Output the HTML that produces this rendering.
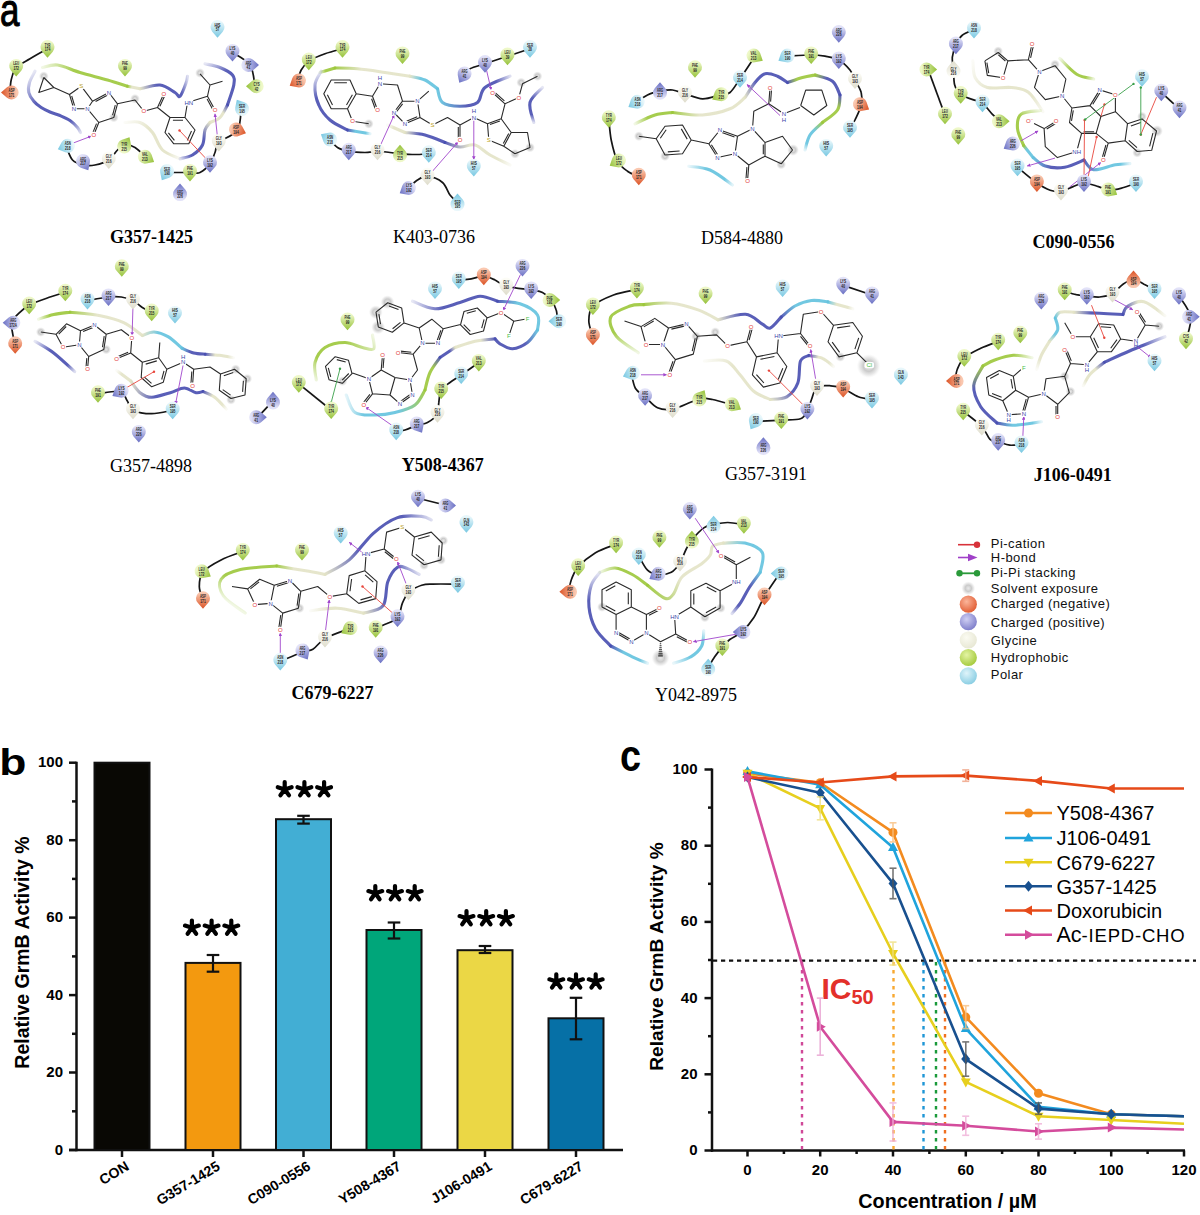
<!DOCTYPE html>
<html><head><meta charset="utf-8"><title>Figure</title>
<style>html,body{margin:0;padding:0;background:#fff;}body{width:1200px;height:1215px;overflow:hidden;font-family:"Liberation Sans", sans-serif;}svg{display:block}</style>
</head><body>
<svg width="1200" height="1215" viewBox="0 0 1200 1215"><defs><radialGradient id="g_neg" cx="0.4" cy="0.35" r="0.7"><stop offset="0" stop-color="#fbb59a"/><stop offset="1" stop-color="#e05a30"/></radialGradient><radialGradient id="g_pos" cx="0.4" cy="0.35" r="0.7"><stop offset="0" stop-color="#d0d0f4"/><stop offset="1" stop-color="#7a7ac8"/></radialGradient><radialGradient id="g_gly" cx="0.4" cy="0.35" r="0.7"><stop offset="0" stop-color="#fbfbf2"/><stop offset="1" stop-color="#e6e6d2"/></radialGradient><radialGradient id="g_hyd" cx="0.4" cy="0.35" r="0.7"><stop offset="0" stop-color="#e4f4a4"/><stop offset="1" stop-color="#a2c838"/></radialGradient><radialGradient id="g_pol" cx="0.4" cy="0.35" r="0.7"><stop offset="0" stop-color="#dff4fa"/><stop offset="1" stop-color="#86cce2"/></radialGradient><linearGradient id="pg0_0_0" gradientUnits="userSpaceOnUse" x1="35.0" y1="71.2" x2="80.5" y2="132.5"><stop offset="0" stop-color="#474db0" stop-opacity="0.15"/><stop offset="0.35" stop-color="#474db0"/><stop offset="0.8" stop-color="#474db0"/><stop offset="1" stop-color="#474db0" stop-opacity="0.2"/></linearGradient><linearGradient id="pg0_0_1" gradientUnits="userSpaceOnUse" x1="42.5" y1="67.5" x2="127.5" y2="86.2"><stop offset="0" stop-color="#9cc73a" stop-opacity="0.15"/><stop offset="0.35" stop-color="#9cc73a"/><stop offset="1" stop-color="#9cc73a"/></linearGradient><linearGradient id="pg0_0_2" gradientUnits="userSpaceOnUse" x1="127.5" y1="86.2" x2="140.0" y2="88.8"><stop offset="0" stop-color="#9cc73a"/><stop offset="0.35" stop-color="#e3e3c6"/><stop offset="1" stop-color="#e3e3c6"/></linearGradient><linearGradient id="pg0_0_3" gradientUnits="userSpaceOnUse" x1="140.0" y1="88.8" x2="187.5" y2="76.2"><stop offset="0" stop-color="#e3e3c6"/><stop offset="0.35" stop-color="#474db0"/><stop offset="0.8" stop-color="#474db0"/><stop offset="1" stop-color="#474db0" stop-opacity="0.2"/></linearGradient><linearGradient id="pg0_0_4" gradientUnits="userSpaceOnUse" x1="205.0" y1="63.8" x2="227.5" y2="105.0"><stop offset="0" stop-color="#474db0" stop-opacity="0.15"/><stop offset="0.35" stop-color="#474db0"/><stop offset="1" stop-color="#474db0"/></linearGradient><linearGradient id="pg0_0_5" gradientUnits="userSpaceOnUse" x1="227.5" y1="105.0" x2="210.0" y2="122.5"><stop offset="0" stop-color="#474db0"/><stop offset="0.35" stop-color="#e3e3c6"/><stop offset="1" stop-color="#e3e3c6"/></linearGradient><linearGradient id="pg0_0_6" gradientUnits="userSpaceOnUse" x1="210.0" y1="122.5" x2="180.0" y2="158.8"><stop offset="0" stop-color="#e3e3c6"/><stop offset="0.35" stop-color="#474db0"/><stop offset="0.8" stop-color="#474db0"/><stop offset="1" stop-color="#474db0" stop-opacity="0.2"/></linearGradient><linearGradient id="pg0_0_7" gradientUnits="userSpaceOnUse" x1="125.0" y1="122.5" x2="180.0" y2="158.8"><stop offset="0" stop-color="#e3e3c6" stop-opacity="0.15"/><stop offset="0.35" stop-color="#e3e3c6"/><stop offset="0.8" stop-color="#e3e3c6"/><stop offset="1" stop-color="#e3e3c6" stop-opacity="0.2"/></linearGradient><linearGradient id="pg270_10_0" gradientUnits="userSpaceOnUse" x1="320.0" y1="72.5" x2="335.0" y2="68.0"><stop offset="0" stop-color="#9cc73a" stop-opacity="0.15"/><stop offset="0.35" stop-color="#9cc73a"/><stop offset="1" stop-color="#9cc73a"/></linearGradient><linearGradient id="pg270_10_1" gradientUnits="userSpaceOnUse" x1="335.0" y1="68.0" x2="410.0" y2="76.2"><stop offset="0" stop-color="#9cc73a"/><stop offset="0.35" stop-color="#e3e3c6"/><stop offset="1" stop-color="#e3e3c6"/></linearGradient><linearGradient id="pg270_10_2" gradientUnits="userSpaceOnUse" x1="410.0" y1="76.2" x2="437.5" y2="88.8"><stop offset="0" stop-color="#e3e3c6"/><stop offset="0.35" stop-color="#62c2de"/><stop offset="1" stop-color="#62c2de"/></linearGradient><linearGradient id="pg270_10_3" gradientUnits="userSpaceOnUse" x1="437.5" y1="88.8" x2="510.0" y2="76.2"><stop offset="0" stop-color="#62c2de"/><stop offset="0.35" stop-color="#474db0"/><stop offset="0.8" stop-color="#474db0"/><stop offset="1" stop-color="#474db0" stop-opacity="0.2"/></linearGradient><linearGradient id="pg270_10_4" gradientUnits="userSpaceOnUse" x1="321.2" y1="71.2" x2="347.5" y2="130.0"><stop offset="0" stop-color="#474db0" stop-opacity="0.15"/><stop offset="0.35" stop-color="#474db0"/><stop offset="1" stop-color="#474db0"/></linearGradient><linearGradient id="pg270_10_5" gradientUnits="userSpaceOnUse" x1="347.5" y1="130.0" x2="370.0" y2="133.8"><stop offset="0" stop-color="#474db0"/><stop offset="0.35" stop-color="#62c2de"/><stop offset="0.8" stop-color="#62c2de"/><stop offset="1" stop-color="#62c2de" stop-opacity="0.2"/></linearGradient><linearGradient id="pg270_10_6" gradientUnits="userSpaceOnUse" x1="387.5" y1="125.0" x2="405.0" y2="132.5"><stop offset="0" stop-color="#e3e3c6" stop-opacity="0.15"/><stop offset="0.35" stop-color="#e3e3c6"/><stop offset="1" stop-color="#e3e3c6"/></linearGradient><linearGradient id="pg270_10_7" gradientUnits="userSpaceOnUse" x1="405.0" y1="132.5" x2="445.0" y2="142.5"><stop offset="0" stop-color="#e3e3c6"/><stop offset="0.35" stop-color="#474db0"/><stop offset="1" stop-color="#474db0"/></linearGradient><linearGradient id="pg270_10_8" gradientUnits="userSpaceOnUse" x1="445.0" y1="142.5" x2="510.0" y2="165.0"><stop offset="0" stop-color="#474db0"/><stop offset="0.35" stop-color="#e3e3c6"/><stop offset="0.8" stop-color="#e3e3c6"/><stop offset="1" stop-color="#e3e3c6" stop-opacity="0.2"/></linearGradient><linearGradient id="pg270_10_9" gradientUnits="userSpaceOnUse" x1="542.5" y1="87.5" x2="533.8" y2="122.5"><stop offset="0" stop-color="#474db0" stop-opacity="0.15"/><stop offset="0.35" stop-color="#474db0"/><stop offset="0.8" stop-color="#474db0"/><stop offset="1" stop-color="#474db0" stop-opacity="0.2"/></linearGradient><linearGradient id="pg590_20_0" gradientUnits="userSpaceOnUse" x1="635.0" y1="123.8" x2="672.5" y2="112.5"><stop offset="0" stop-color="#9cc73a" stop-opacity="0.15"/><stop offset="0.35" stop-color="#9cc73a"/><stop offset="1" stop-color="#9cc73a"/></linearGradient><linearGradient id="pg590_20_1" gradientUnits="userSpaceOnUse" x1="672.5" y1="112.5" x2="745.0" y2="97.5"><stop offset="0" stop-color="#9cc73a"/><stop offset="0.35" stop-color="#e3e3c6"/><stop offset="1" stop-color="#e3e3c6"/></linearGradient><linearGradient id="pg590_20_2" gradientUnits="userSpaceOnUse" x1="745.0" y1="97.5" x2="787.5" y2="82.5"><stop offset="0" stop-color="#e3e3c6"/><stop offset="0.35" stop-color="#474db0"/><stop offset="1" stop-color="#474db0"/></linearGradient><linearGradient id="pg590_20_3" gradientUnits="userSpaceOnUse" x1="787.5" y1="82.5" x2="815.0" y2="75.0"><stop offset="0" stop-color="#474db0"/><stop offset="0.35" stop-color="#9cc73a"/><stop offset="1" stop-color="#9cc73a"/></linearGradient><linearGradient id="pg590_20_4" gradientUnits="userSpaceOnUse" x1="815.0" y1="75.0" x2="840.0" y2="95.0"><stop offset="0" stop-color="#9cc73a"/><stop offset="0.35" stop-color="#474db0"/><stop offset="1" stop-color="#474db0"/></linearGradient><linearGradient id="pg590_20_5" gradientUnits="userSpaceOnUse" x1="840.0" y1="95.0" x2="822.5" y2="122.5"><stop offset="0" stop-color="#474db0"/><stop offset="0.35" stop-color="#9cc73a"/><stop offset="1" stop-color="#9cc73a"/></linearGradient><linearGradient id="pg590_20_6" gradientUnits="userSpaceOnUse" x1="822.5" y1="122.5" x2="805.0" y2="150.0"><stop offset="0" stop-color="#9cc73a"/><stop offset="0.35" stop-color="#62c2de"/><stop offset="0.8" stop-color="#62c2de"/><stop offset="1" stop-color="#62c2de" stop-opacity="0.2"/></linearGradient><linearGradient id="pg590_20_7" gradientUnits="userSpaceOnUse" x1="688.8" y1="166.2" x2="732.5" y2="185.0"><stop offset="0" stop-color="#62c2de" stop-opacity="0.15"/><stop offset="0.35" stop-color="#62c2de"/><stop offset="0.8" stop-color="#62c2de"/><stop offset="1" stop-color="#62c2de" stop-opacity="0.2"/></linearGradient><linearGradient id="pg910_15_0" gradientUnits="userSpaceOnUse" x1="972.8" y1="60.9" x2="1042.9" y2="111.7"><stop offset="0" stop-color="#e3e3c6" stop-opacity="0.15"/><stop offset="0.35" stop-color="#e3e3c6"/><stop offset="0.8" stop-color="#e3e3c6"/><stop offset="1" stop-color="#e3e3c6" stop-opacity="0.2"/></linearGradient><linearGradient id="pg910_15_1" gradientUnits="userSpaceOnUse" x1="1059.8" y1="58.5" x2="1093.7" y2="79.0"><stop offset="0" stop-color="#9cc73a" stop-opacity="0.15"/><stop offset="0.35" stop-color="#9cc73a"/><stop offset="0.8" stop-color="#9cc73a"/><stop offset="1" stop-color="#9cc73a" stop-opacity="0.2"/></linearGradient><linearGradient id="pg910_15_2" gradientUnits="userSpaceOnUse" x1="1040.5" y1="110.5" x2="1023.6" y2="145.5"><stop offset="0" stop-color="#9cc73a" stop-opacity="0.15"/><stop offset="0.35" stop-color="#9cc73a"/><stop offset="1" stop-color="#9cc73a"/></linearGradient><linearGradient id="pg910_15_3" gradientUnits="userSpaceOnUse" x1="1023.6" y1="145.5" x2="1033.2" y2="157.6"><stop offset="0" stop-color="#9cc73a"/><stop offset="0.35" stop-color="#62c2de"/><stop offset="1" stop-color="#62c2de"/></linearGradient><linearGradient id="pg910_15_4" gradientUnits="userSpaceOnUse" x1="1033.2" y1="157.6" x2="1084.0" y2="160.0"><stop offset="0" stop-color="#62c2de"/><stop offset="0.35" stop-color="#474db0"/><stop offset="1" stop-color="#474db0"/></linearGradient><linearGradient id="pg910_15_5" gradientUnits="userSpaceOnUse" x1="1084.0" y1="160.0" x2="1129.9" y2="163.6"><stop offset="0" stop-color="#474db0"/><stop offset="0.35" stop-color="#62c2de"/><stop offset="0.8" stop-color="#62c2de"/><stop offset="1" stop-color="#62c2de" stop-opacity="0.2"/></linearGradient><linearGradient id="pg0_255_0" gradientUnits="userSpaceOnUse" x1="38.5" y1="319.2" x2="70.0" y2="312.2"><stop offset="0" stop-color="#9cc73a" stop-opacity="0.15"/><stop offset="0.35" stop-color="#9cc73a"/><stop offset="1" stop-color="#9cc73a"/></linearGradient><linearGradient id="pg0_255_1" gradientUnits="userSpaceOnUse" x1="70.0" y1="312.2" x2="142.3" y2="335.5"><stop offset="0" stop-color="#9cc73a"/><stop offset="0.35" stop-color="#e3e3c6"/><stop offset="1" stop-color="#e3e3c6"/></linearGradient><linearGradient id="pg0_255_2" gradientUnits="userSpaceOnUse" x1="142.3" y1="335.5" x2="182.0" y2="348.3"><stop offset="0" stop-color="#e3e3c6"/><stop offset="0.35" stop-color="#62c2de"/><stop offset="1" stop-color="#62c2de"/></linearGradient><linearGradient id="pg0_255_3" gradientUnits="userSpaceOnUse" x1="182.0" y1="348.3" x2="205.3" y2="354.2"><stop offset="0" stop-color="#62c2de"/><stop offset="0.35" stop-color="#474db0"/><stop offset="1" stop-color="#474db0"/></linearGradient><linearGradient id="pg0_255_4" gradientUnits="userSpaceOnUse" x1="205.3" y1="354.2" x2="233.3" y2="357.7"><stop offset="0" stop-color="#474db0"/><stop offset="0.35" stop-color="#e3e3c6"/><stop offset="0.8" stop-color="#e3e3c6"/><stop offset="1" stop-color="#e3e3c6" stop-opacity="0.2"/></linearGradient><linearGradient id="pg0_255_5" gradientUnits="userSpaceOnUse" x1="35.0" y1="341.3" x2="74.7" y2="371.7"><stop offset="0" stop-color="#474db0" stop-opacity="0.15"/><stop offset="0.35" stop-color="#474db0"/><stop offset="0.8" stop-color="#474db0"/><stop offset="1" stop-color="#474db0" stop-opacity="0.2"/></linearGradient><linearGradient id="pg0_255_6" gradientUnits="userSpaceOnUse" x1="116.7" y1="370.5" x2="130.7" y2="381.0"><stop offset="0" stop-color="#e3e3c6" stop-opacity="0.15"/><stop offset="0.35" stop-color="#e3e3c6"/><stop offset="1" stop-color="#e3e3c6"/></linearGradient><linearGradient id="pg0_255_7" gradientUnits="userSpaceOnUse" x1="130.7" y1="381.0" x2="203.0" y2="391.5"><stop offset="0" stop-color="#e3e3c6"/><stop offset="0.35" stop-color="#474db0"/><stop offset="1" stop-color="#474db0"/></linearGradient><linearGradient id="pg0_255_8" gradientUnits="userSpaceOnUse" x1="203.0" y1="391.5" x2="226.3" y2="409.0"><stop offset="0" stop-color="#474db0"/><stop offset="0.35" stop-color="#e3e3c6"/><stop offset="0.8" stop-color="#e3e3c6"/><stop offset="1" stop-color="#e3e3c6" stop-opacity="0.2"/></linearGradient><linearGradient id="pg280_255_0" gradientUnits="userSpaceOnUse" x1="412.5" y1="301.2" x2="497.5" y2="301.2"><stop offset="0" stop-color="#474db0" stop-opacity="0.15"/><stop offset="0.35" stop-color="#474db0"/><stop offset="1" stop-color="#474db0"/></linearGradient><linearGradient id="pg280_255_1" gradientUnits="userSpaceOnUse" x1="497.5" y1="301.2" x2="537.5" y2="330.0"><stop offset="0" stop-color="#474db0"/><stop offset="0.35" stop-color="#62c2de"/><stop offset="1" stop-color="#62c2de"/></linearGradient><linearGradient id="pg280_255_2" gradientUnits="userSpaceOnUse" x1="537.5" y1="330.0" x2="495.0" y2="338.8"><stop offset="0" stop-color="#62c2de"/><stop offset="0.35" stop-color="#474db0"/><stop offset="1" stop-color="#474db0"/></linearGradient><linearGradient id="pg280_255_3" gradientUnits="userSpaceOnUse" x1="495.0" y1="338.8" x2="455.0" y2="347.5"><stop offset="0" stop-color="#474db0"/><stop offset="0.35" stop-color="#e3e3c6"/><stop offset="1" stop-color="#e3e3c6"/></linearGradient><linearGradient id="pg280_255_4" gradientUnits="userSpaceOnUse" x1="455.0" y1="347.5" x2="440.0" y2="357.5"><stop offset="0" stop-color="#e3e3c6"/><stop offset="0.35" stop-color="#474db0"/><stop offset="1" stop-color="#474db0"/></linearGradient><linearGradient id="pg280_255_5" gradientUnits="userSpaceOnUse" x1="440.0" y1="357.5" x2="425.0" y2="390.0"><stop offset="0" stop-color="#474db0"/><stop offset="0.35" stop-color="#9cc73a"/><stop offset="1" stop-color="#9cc73a"/></linearGradient><linearGradient id="pg280_255_6" gradientUnits="userSpaceOnUse" x1="425.0" y1="390.0" x2="346.2" y2="395.0"><stop offset="0" stop-color="#9cc73a"/><stop offset="0.35" stop-color="#62c2de"/><stop offset="0.8" stop-color="#62c2de"/><stop offset="1" stop-color="#62c2de" stop-opacity="0.2"/></linearGradient><linearGradient id="pg280_255_7" gradientUnits="userSpaceOnUse" x1="372.5" y1="335.0" x2="316.2" y2="380.0"><stop offset="0" stop-color="#9cc73a" stop-opacity="0.15"/><stop offset="0.35" stop-color="#9cc73a"/><stop offset="0.8" stop-color="#9cc73a"/><stop offset="1" stop-color="#9cc73a" stop-opacity="0.2"/></linearGradient><linearGradient id="pg575_262_0" gradientUnits="userSpaceOnUse" x1="638.3" y1="352.8" x2="643.8" y2="304.6"><stop offset="0" stop-color="#9cc73a" stop-opacity="0.15"/><stop offset="0.35" stop-color="#9cc73a"/><stop offset="1" stop-color="#9cc73a"/></linearGradient><linearGradient id="pg575_262_1" gradientUnits="userSpaceOnUse" x1="643.8" y1="304.6" x2="718.0" y2="319.8"><stop offset="0" stop-color="#9cc73a"/><stop offset="0.35" stop-color="#e3e3c6"/><stop offset="1" stop-color="#e3e3c6"/></linearGradient><linearGradient id="pg575_262_2" gradientUnits="userSpaceOnUse" x1="718.0" y1="319.8" x2="781.3" y2="317.0"><stop offset="0" stop-color="#e3e3c6"/><stop offset="0.35" stop-color="#474db0"/><stop offset="1" stop-color="#474db0"/></linearGradient><linearGradient id="pg575_262_3" gradientUnits="userSpaceOnUse" x1="781.3" y1="317.0" x2="828.0" y2="301.9"><stop offset="0" stop-color="#474db0"/><stop offset="0.35" stop-color="#62c2de"/><stop offset="1" stop-color="#62c2de"/></linearGradient><linearGradient id="pg575_262_4" gradientUnits="userSpaceOnUse" x1="828.0" y1="301.9" x2="852.8" y2="308.8"><stop offset="0" stop-color="#62c2de"/><stop offset="0.35" stop-color="#e3e3c6"/><stop offset="0.8" stop-color="#e3e3c6"/><stop offset="1" stop-color="#e3e3c6" stop-opacity="0.2"/></linearGradient><linearGradient id="pg575_262_5" gradientUnits="userSpaceOnUse" x1="704.3" y1="361.0" x2="770.3" y2="399.5"><stop offset="0" stop-color="#e3e3c6" stop-opacity="0.15"/><stop offset="0.35" stop-color="#e3e3c6"/><stop offset="1" stop-color="#e3e3c6"/></linearGradient><linearGradient id="pg575_262_6" gradientUnits="userSpaceOnUse" x1="770.3" y1="399.5" x2="808.8" y2="355.5"><stop offset="0" stop-color="#e3e3c6"/><stop offset="0.35" stop-color="#474db0"/><stop offset="1" stop-color="#474db0"/></linearGradient><linearGradient id="pg575_262_7" gradientUnits="userSpaceOnUse" x1="808.8" y1="355.5" x2="833.5" y2="366.5"><stop offset="0" stop-color="#474db0"/><stop offset="0.35" stop-color="#e3e3c6"/><stop offset="0.8" stop-color="#e3e3c6"/><stop offset="1" stop-color="#e3e3c6" stop-opacity="0.2"/></linearGradient><linearGradient id="pg920_262_0" gradientUnits="userSpaceOnUse" x1="1036.7" y1="369.3" x2="1049.5" y2="341.3"><stop offset="0" stop-color="#e3e3c6" stop-opacity="0.15"/><stop offset="0.35" stop-color="#e3e3c6"/><stop offset="1" stop-color="#e3e3c6"/></linearGradient><linearGradient id="pg920_262_1" gradientUnits="userSpaceOnUse" x1="1049.5" y1="341.3" x2="1055.3" y2="318.0"><stop offset="0" stop-color="#e3e3c6"/><stop offset="0.35" stop-color="#62c2de"/><stop offset="1" stop-color="#62c2de"/></linearGradient><linearGradient id="pg920_262_2" gradientUnits="userSpaceOnUse" x1="1055.3" y1="318.0" x2="1074.0" y2="312.2"><stop offset="0" stop-color="#62c2de"/><stop offset="0.35" stop-color="#e3e3c6"/><stop offset="1" stop-color="#e3e3c6"/></linearGradient><linearGradient id="pg920_262_3" gradientUnits="userSpaceOnUse" x1="1074.0" y1="312.2" x2="1123.0" y2="314.5"><stop offset="0" stop-color="#e3e3c6"/><stop offset="0.35" stop-color="#474db0"/><stop offset="1" stop-color="#474db0"/></linearGradient><linearGradient id="pg920_262_4" gradientUnits="userSpaceOnUse" x1="1123.0" y1="314.5" x2="1165.0" y2="315.7"><stop offset="0" stop-color="#474db0"/><stop offset="0.35" stop-color="#e3e3c6"/><stop offset="0.8" stop-color="#e3e3c6"/><stop offset="1" stop-color="#e3e3c6" stop-opacity="0.2"/></linearGradient><linearGradient id="pg920_262_5" gradientUnits="userSpaceOnUse" x1="1165.0" y1="336.7" x2="1104.3" y2="362.3"><stop offset="0" stop-color="#474db0" stop-opacity="0.15"/><stop offset="0.35" stop-color="#474db0"/><stop offset="1" stop-color="#474db0"/></linearGradient><linearGradient id="pg920_262_6" gradientUnits="userSpaceOnUse" x1="1104.3" y1="362.3" x2="1083.3" y2="385.7"><stop offset="0" stop-color="#474db0"/><stop offset="0.35" stop-color="#e3e3c6"/><stop offset="0.8" stop-color="#e3e3c6"/><stop offset="1" stop-color="#e3e3c6" stop-opacity="0.2"/></linearGradient><linearGradient id="pg920_262_7" gradientUnits="userSpaceOnUse" x1="1032.0" y1="357.7" x2="983.0" y2="365.8"><stop offset="0" stop-color="#9cc73a" stop-opacity="0.15"/><stop offset="0.35" stop-color="#9cc73a"/><stop offset="1" stop-color="#9cc73a"/></linearGradient><linearGradient id="pg920_262_8" gradientUnits="userSpaceOnUse" x1="983.0" y1="365.8" x2="997.0" y2="423.0"><stop offset="0" stop-color="#9cc73a"/><stop offset="0.35" stop-color="#474db0"/><stop offset="1" stop-color="#474db0"/></linearGradient><linearGradient id="pg920_262_9" gradientUnits="userSpaceOnUse" x1="997.0" y1="423.0" x2="1041.3" y2="421.8"><stop offset="0" stop-color="#474db0"/><stop offset="0.35" stop-color="#62c2de"/><stop offset="0.8" stop-color="#62c2de"/><stop offset="1" stop-color="#62c2de" stop-opacity="0.2"/></linearGradient><linearGradient id="pg180_485_0" gradientUnits="userSpaceOnUse" x1="245.2" y1="613.1" x2="276.7" y2="566.0"><stop offset="0" stop-color="#9cc73a" stop-opacity="0.15"/><stop offset="0.35" stop-color="#9cc73a"/><stop offset="1" stop-color="#9cc73a"/></linearGradient><linearGradient id="pg180_485_1" gradientUnits="userSpaceOnUse" x1="276.7" y1="566.0" x2="325.0" y2="574.4"><stop offset="0" stop-color="#9cc73a"/><stop offset="0.35" stop-color="#e3e3c6"/><stop offset="1" stop-color="#e3e3c6"/></linearGradient><linearGradient id="pg180_485_2" gradientUnits="userSpaceOnUse" x1="325.0" y1="574.4" x2="431.3" y2="520.0"><stop offset="0" stop-color="#e3e3c6"/><stop offset="0.35" stop-color="#474db0"/><stop offset="0.8" stop-color="#474db0"/><stop offset="1" stop-color="#474db0" stop-opacity="0.2"/></linearGradient><linearGradient id="pg180_485_3" gradientUnits="userSpaceOnUse" x1="310.5" y1="610.7" x2="363.7" y2="613.1"><stop offset="0" stop-color="#e3e3c6" stop-opacity="0.15"/><stop offset="0.35" stop-color="#e3e3c6"/><stop offset="1" stop-color="#e3e3c6"/></linearGradient><linearGradient id="pg180_485_4" gradientUnits="userSpaceOnUse" x1="363.7" y1="613.1" x2="419.2" y2="574.4"><stop offset="0" stop-color="#e3e3c6"/><stop offset="0.35" stop-color="#474db0"/><stop offset="0.8" stop-color="#474db0"/><stop offset="1" stop-color="#474db0" stop-opacity="0.2"/></linearGradient><linearGradient id="pg550_490_0" gradientUnits="userSpaceOnUse" x1="599.8" y1="572.3" x2="647.5" y2="585.3"><stop offset="0" stop-color="#9cc73a" stop-opacity="0.15"/><stop offset="0.35" stop-color="#9cc73a"/><stop offset="1" stop-color="#9cc73a"/></linearGradient><linearGradient id="pg550_490_1" gradientUnits="userSpaceOnUse" x1="647.5" y1="585.3" x2="723.3" y2="543.1"><stop offset="0" stop-color="#9cc73a"/><stop offset="0.35" stop-color="#e3e3c6"/><stop offset="1" stop-color="#e3e3c6"/></linearGradient><linearGradient id="pg550_490_2" gradientUnits="userSpaceOnUse" x1="723.3" y1="543.1" x2="760.2" y2="572.3"><stop offset="0" stop-color="#e3e3c6"/><stop offset="0.35" stop-color="#62c2de"/><stop offset="1" stop-color="#62c2de"/></linearGradient><linearGradient id="pg550_490_3" gradientUnits="userSpaceOnUse" x1="760.2" y1="572.3" x2="732.0" y2="613.5"><stop offset="0" stop-color="#62c2de"/><stop offset="0.35" stop-color="#474db0"/><stop offset="0.8" stop-color="#474db0"/><stop offset="1" stop-color="#474db0" stop-opacity="0.2"/></linearGradient><linearGradient id="pg550_490_4" gradientUnits="userSpaceOnUse" x1="599.8" y1="572.3" x2="610.7" y2="646.0"><stop offset="0" stop-color="#474db0" stop-opacity="0.15"/><stop offset="0.35" stop-color="#474db0"/><stop offset="1" stop-color="#474db0"/></linearGradient><linearGradient id="pg550_490_5" gradientUnits="userSpaceOnUse" x1="610.7" y1="646.0" x2="647.5" y2="663.3"><stop offset="0" stop-color="#474db0"/><stop offset="0.35" stop-color="#62c2de"/><stop offset="0.8" stop-color="#62c2de"/><stop offset="1" stop-color="#62c2de" stop-opacity="0.2"/></linearGradient><linearGradient id="pg550_490_6" gradientUnits="userSpaceOnUse" x1="673.5" y1="663.3" x2="703.8" y2="630.8"><stop offset="0" stop-color="#62c2de" stop-opacity="0.15"/><stop offset="0.35" stop-color="#62c2de"/><stop offset="0.8" stop-color="#62c2de"/><stop offset="1" stop-color="#62c2de" stop-opacity="0.2"/></linearGradient><linearGradient id="rg_pos" x1="0" y1="0" x2="0" y2="1"><stop offset="0.1" stop-color="#e2e2f8"/><stop offset="1" stop-color="#6a70c4"/></linearGradient><linearGradient id="rg_neg" x1="0" y1="0" x2="0" y2="1"><stop offset="0.1" stop-color="#fac8b0"/><stop offset="1" stop-color="#dc5426"/></linearGradient><linearGradient id="rg_gly" x1="0" y1="0" x2="0" y2="1"><stop offset="0.1" stop-color="#fcfcf6"/><stop offset="1" stop-color="#dedccb"/></linearGradient><linearGradient id="rg_hyd" x1="0" y1="0" x2="0" y2="1"><stop offset="0.1" stop-color="#eef8c8"/><stop offset="1" stop-color="#96c23a"/></linearGradient><linearGradient id="rg_pol" x1="0" y1="0" x2="0" y2="1"><stop offset="0.1" stop-color="#e8f7fb"/><stop offset="1" stop-color="#78c8e2"/></linearGradient><radialGradient id="halo"><stop offset="0" stop-color="#d0d0d0" stop-opacity="0.5"/><stop offset="0.45" stop-color="#b8b8b8" stop-opacity="0.75"/><stop offset="0.75" stop-color="#d0d0d0" stop-opacity="0.45"/><stop offset="1" stop-color="#e8e8e8" stop-opacity="0"/></radialGradient><marker id="ahb" viewBox="0 0 10 10" refX="9" refY="5" markerWidth="4" markerHeight="4" orient="auto"><path d="M0,0L10,5L0,10z" fill="#a046cc"/></marker></defs><text x="0" y="26" font-family='"Liberation Sans", sans-serif' font-size="46.5" stroke="#000" stroke-width="1.1" transform="scale(0.75,1)">a</text>
<text x="0" y="775" font-family='"Liberation Sans", sans-serif' font-size="37" font-weight="bold" transform="translate(-0.8,0) scale(1.2,1)">b</text>
<text x="620" y="771.5" font-family='"Liberation Sans", sans-serif' font-size="45" font-weight="bold" transform="translate(620,0) scale(0.84,1) translate(-620,0)">c</text>
<g stroke="#111" stroke-width="2.5" fill="none">
<line x1="76.5" y1="761.7" x2="76.5" y2="1151.2"/>
<line x1="69" y1="1150" x2="623" y2="1150"/>
<line x1="69" y1="1150.0" x2="76.5" y2="1150.0"/>
<line x1="72" y1="1111.3" x2="76.5" y2="1111.3"/>
<line x1="69" y1="1072.5" x2="76.5" y2="1072.5"/>
<line x1="72" y1="1033.8" x2="76.5" y2="1033.8"/>
<line x1="69" y1="995.1" x2="76.5" y2="995.1"/>
<line x1="72" y1="956.4" x2="76.5" y2="956.4"/>
<line x1="69" y1="917.6" x2="76.5" y2="917.6"/>
<line x1="72" y1="878.9" x2="76.5" y2="878.9"/>
<line x1="69" y1="840.2" x2="76.5" y2="840.2"/>
<line x1="72" y1="801.4" x2="76.5" y2="801.4"/>
<line x1="69" y1="762.7" x2="76.5" y2="762.7"/>
</g>
<text x="63" y="1154.5" text-anchor="end" font-family='"Liberation Sans", sans-serif' font-size="15" font-weight="bold">0</text>
<text x="63" y="1077.0" text-anchor="end" font-family='"Liberation Sans", sans-serif' font-size="15" font-weight="bold">20</text>
<text x="63" y="999.6" text-anchor="end" font-family='"Liberation Sans", sans-serif' font-size="15" font-weight="bold">40</text>
<text x="63" y="922.1" text-anchor="end" font-family='"Liberation Sans", sans-serif' font-size="15" font-weight="bold">60</text>
<text x="63" y="844.7" text-anchor="end" font-family='"Liberation Sans", sans-serif' font-size="15" font-weight="bold">80</text>
<text x="63" y="767.2" text-anchor="end" font-family='"Liberation Sans", sans-serif' font-size="15" font-weight="bold">100</text>
<text transform="translate(29,1068.7) rotate(-90)" font-family='"Liberation Sans", sans-serif' font-size="19.5" font-weight="bold">Relative GrmB Activity %</text>
<rect x="94.5" y="762.7" width="55" height="387.3" fill="#090804" stroke="#111" stroke-width="2"/>
<line x1="122" y1="1150" x2="122" y2="1157" stroke="#111" stroke-width="2.5"/>
<text transform="translate(130,1169) rotate(-31)" text-anchor="end" font-family='"Liberation Sans", sans-serif' font-size="14.2" font-weight="bold">CON</text>
<rect x="185.5" y="962.9" width="55" height="187.1" fill="#f3990f" stroke="#111" stroke-width="2"/>
<line x1="213" y1="1150" x2="213" y2="1157" stroke="#111" stroke-width="2.5"/>
<g stroke="#111" stroke-width="2.2"><line x1="213" y1="955" x2="213" y2="971.7"/><line x1="206.7" y1="955" x2="219.3" y2="955"/><line x1="206.7" y1="971.7" x2="219.3" y2="971.7"/></g>
<path d="M191.9,927.8l0.00,-7.30M191.9,927.8l6.94,-2.26M191.9,927.8l4.29,5.91M191.9,927.8l-4.29,5.91M191.9,927.8l-6.94,-2.26" stroke="#000" stroke-width="4.2" stroke-linecap="round" fill="none"/>
<path d="M211.6,927.8l0.00,-7.30M211.6,927.8l6.94,-2.26M211.6,927.8l4.29,5.91M211.6,927.8l-4.29,5.91M211.6,927.8l-6.94,-2.26" stroke="#000" stroke-width="4.2" stroke-linecap="round" fill="none"/>
<path d="M231.3,927.8l0.00,-7.30M231.3,927.8l6.94,-2.26M231.3,927.8l4.29,5.91M231.3,927.8l-4.29,5.91M231.3,927.8l-6.94,-2.26" stroke="#000" stroke-width="4.2" stroke-linecap="round" fill="none"/>
<text transform="translate(221,1169) rotate(-31)" text-anchor="end" font-family='"Liberation Sans", sans-serif' font-size="14.2" font-weight="bold">G357-1425</text>
<rect x="276.0" y="819.2" width="55" height="330.8" fill="#42aed4" stroke="#111" stroke-width="2"/>
<line x1="303.5" y1="1150" x2="303.5" y2="1157" stroke="#111" stroke-width="2.5"/>
<g stroke="#111" stroke-width="2.2"><line x1="303.5" y1="815.8" x2="303.5" y2="823.6"/><line x1="297.2" y1="815.8" x2="309.8" y2="815.8"/><line x1="297.2" y1="823.6" x2="309.8" y2="823.6"/></g>
<path d="M284.7,789.4l0.00,-7.30M284.7,789.4l6.94,-2.26M284.7,789.4l4.29,5.91M284.7,789.4l-4.29,5.91M284.7,789.4l-6.94,-2.26" stroke="#000" stroke-width="4.2" stroke-linecap="round" fill="none"/>
<path d="M304.4,789.4l0.00,-7.30M304.4,789.4l6.94,-2.26M304.4,789.4l4.29,5.91M304.4,789.4l-4.29,5.91M304.4,789.4l-6.94,-2.26" stroke="#000" stroke-width="4.2" stroke-linecap="round" fill="none"/>
<path d="M324.1,789.4l0.00,-7.30M324.1,789.4l6.94,-2.26M324.1,789.4l4.29,5.91M324.1,789.4l-4.29,5.91M324.1,789.4l-6.94,-2.26" stroke="#000" stroke-width="4.2" stroke-linecap="round" fill="none"/>
<text transform="translate(311.5,1169) rotate(-31)" text-anchor="end" font-family='"Liberation Sans", sans-serif' font-size="14.2" font-weight="bold">C090-0556</text>
<rect x="366.5" y="930.0" width="55" height="220.0" fill="#00a67a" stroke="#111" stroke-width="2"/>
<line x1="394" y1="1150" x2="394" y2="1157" stroke="#111" stroke-width="2.5"/>
<g stroke="#111" stroke-width="2.2"><line x1="394" y1="922.5" x2="394" y2="938.5"/><line x1="387.7" y1="922.5" x2="400.3" y2="922.5"/><line x1="387.7" y1="938.5" x2="400.3" y2="938.5"/></g>
<path d="M375.3,893.3l0.00,-7.30M375.3,893.3l6.94,-2.26M375.3,893.3l4.29,5.91M375.3,893.3l-4.29,5.91M375.3,893.3l-6.94,-2.26" stroke="#000" stroke-width="4.2" stroke-linecap="round" fill="none"/>
<path d="M395.0,893.3l0.00,-7.30M395.0,893.3l6.94,-2.26M395.0,893.3l4.29,5.91M395.0,893.3l-4.29,5.91M395.0,893.3l-6.94,-2.26" stroke="#000" stroke-width="4.2" stroke-linecap="round" fill="none"/>
<path d="M414.7,893.3l0.00,-7.30M414.7,893.3l6.94,-2.26M414.7,893.3l4.29,5.91M414.7,893.3l-4.29,5.91M414.7,893.3l-6.94,-2.26" stroke="#000" stroke-width="4.2" stroke-linecap="round" fill="none"/>
<text transform="translate(402,1169) rotate(-31)" text-anchor="end" font-family='"Liberation Sans", sans-serif' font-size="14.2" font-weight="bold">Y508-4367</text>
<rect x="457.5" y="950.2" width="55" height="199.8" fill="#ebd745" stroke="#111" stroke-width="2"/>
<line x1="485" y1="1150" x2="485" y2="1157" stroke="#111" stroke-width="2.5"/>
<g stroke="#111" stroke-width="2.2"><line x1="485" y1="946" x2="485" y2="953"/><line x1="478.7" y1="946" x2="491.3" y2="946"/><line x1="478.7" y1="953" x2="491.3" y2="953"/></g>
<path d="M466.5,918.3l0.00,-7.30M466.5,918.3l6.94,-2.26M466.5,918.3l4.29,5.91M466.5,918.3l-4.29,5.91M466.5,918.3l-6.94,-2.26" stroke="#000" stroke-width="4.2" stroke-linecap="round" fill="none"/>
<path d="M486.2,918.3l0.00,-7.30M486.2,918.3l6.94,-2.26M486.2,918.3l4.29,5.91M486.2,918.3l-4.29,5.91M486.2,918.3l-6.94,-2.26" stroke="#000" stroke-width="4.2" stroke-linecap="round" fill="none"/>
<path d="M505.9,918.3l0.00,-7.30M505.9,918.3l6.94,-2.26M505.9,918.3l4.29,5.91M505.9,918.3l-4.29,5.91M505.9,918.3l-6.94,-2.26" stroke="#000" stroke-width="4.2" stroke-linecap="round" fill="none"/>
<text transform="translate(493,1169) rotate(-31)" text-anchor="end" font-family='"Liberation Sans", sans-serif' font-size="14.2" font-weight="bold">J106-0491</text>
<rect x="548.5" y="1018.3" width="55" height="131.7" fill="#0670a6" stroke="#111" stroke-width="2"/>
<line x1="576" y1="1150" x2="576" y2="1157" stroke="#111" stroke-width="2.5"/>
<g stroke="#111" stroke-width="2.2"><line x1="576" y1="997.8" x2="576" y2="1039.3"/><line x1="569.7" y1="997.8" x2="582.3" y2="997.8"/><line x1="569.7" y1="1039.3" x2="582.3" y2="1039.3"/></g>
<path d="M556.3,981.6l0.00,-7.30M556.3,981.6l6.94,-2.26M556.3,981.6l4.29,5.91M556.3,981.6l-4.29,5.91M556.3,981.6l-6.94,-2.26" stroke="#000" stroke-width="4.2" stroke-linecap="round" fill="none"/>
<path d="M576.0,981.6l0.00,-7.30M576.0,981.6l6.94,-2.26M576.0,981.6l4.29,5.91M576.0,981.6l-4.29,5.91M576.0,981.6l-6.94,-2.26" stroke="#000" stroke-width="4.2" stroke-linecap="round" fill="none"/>
<path d="M595.7,981.6l0.00,-7.30M595.7,981.6l6.94,-2.26M595.7,981.6l4.29,5.91M595.7,981.6l-4.29,5.91M595.7,981.6l-6.94,-2.26" stroke="#000" stroke-width="4.2" stroke-linecap="round" fill="none"/>
<text transform="translate(584,1169) rotate(-31)" text-anchor="end" font-family='"Liberation Sans", sans-serif' font-size="14.2" font-weight="bold">C679-6227</text>
<g stroke="#111" stroke-width="2.5" fill="none">
<line x1="712" y1="768.5" x2="712" y2="1151.7"/>
<line x1="711" y1="1150.5" x2="1185.0" y2="1150.5"/>
<line x1="704.5" y1="1150.5" x2="712" y2="1150.5"/>
<line x1="708" y1="1112.4" x2="712" y2="1112.4"/>
<line x1="704.5" y1="1074.3" x2="712" y2="1074.3"/>
<line x1="708" y1="1036.2" x2="712" y2="1036.2"/>
<line x1="704.5" y1="998.1" x2="712" y2="998.1"/>
<line x1="708" y1="960.0" x2="712" y2="960.0"/>
<line x1="704.5" y1="921.9" x2="712" y2="921.9"/>
<line x1="708" y1="883.8" x2="712" y2="883.8"/>
<line x1="704.5" y1="845.7" x2="712" y2="845.7"/>
<line x1="708" y1="807.6" x2="712" y2="807.6"/>
<line x1="704.5" y1="769.5" x2="712" y2="769.5"/>
<line x1="747.5" y1="1150.5" x2="747.5" y2="1156.5"/>
<line x1="783.9" y1="1150.5" x2="783.9" y2="1154"/>
<line x1="820.2" y1="1150.5" x2="820.2" y2="1156.5"/>
<line x1="856.6" y1="1150.5" x2="856.6" y2="1154"/>
<line x1="893.0" y1="1150.5" x2="893.0" y2="1156.5"/>
<line x1="929.4" y1="1150.5" x2="929.4" y2="1154"/>
<line x1="965.8" y1="1150.5" x2="965.8" y2="1156.5"/>
<line x1="1002.1" y1="1150.5" x2="1002.1" y2="1154"/>
<line x1="1038.5" y1="1150.5" x2="1038.5" y2="1156.5"/>
<line x1="1074.9" y1="1150.5" x2="1074.9" y2="1154"/>
<line x1="1111.2" y1="1150.5" x2="1111.2" y2="1156.5"/>
<line x1="1147.6" y1="1150.5" x2="1147.6" y2="1154"/>
<line x1="1184.0" y1="1150.5" x2="1184.0" y2="1156.5"/>
</g>
<text x="697.5" y="1155.0" text-anchor="end" font-family='"Liberation Sans", sans-serif' font-size="15" font-weight="bold">0</text>
<text x="697.5" y="1078.8" text-anchor="end" font-family='"Liberation Sans", sans-serif' font-size="15" font-weight="bold">20</text>
<text x="697.5" y="1002.6" text-anchor="end" font-family='"Liberation Sans", sans-serif' font-size="15" font-weight="bold">40</text>
<text x="697.5" y="926.4" text-anchor="end" font-family='"Liberation Sans", sans-serif' font-size="15" font-weight="bold">60</text>
<text x="697.5" y="850.2" text-anchor="end" font-family='"Liberation Sans", sans-serif' font-size="15" font-weight="bold">80</text>
<text x="697.5" y="774.0" text-anchor="end" font-family='"Liberation Sans", sans-serif' font-size="15" font-weight="bold">100</text>
<text x="747.5" y="1175.3" text-anchor="middle" font-family='"Liberation Sans", sans-serif' font-size="15" font-weight="bold">0</text>
<text x="820.2" y="1175.3" text-anchor="middle" font-family='"Liberation Sans", sans-serif' font-size="15" font-weight="bold">20</text>
<text x="893.0" y="1175.3" text-anchor="middle" font-family='"Liberation Sans", sans-serif' font-size="15" font-weight="bold">40</text>
<text x="965.8" y="1175.3" text-anchor="middle" font-family='"Liberation Sans", sans-serif' font-size="15" font-weight="bold">60</text>
<text x="1038.5" y="1175.3" text-anchor="middle" font-family='"Liberation Sans", sans-serif' font-size="15" font-weight="bold">80</text>
<text x="1111.2" y="1175.3" text-anchor="middle" font-family='"Liberation Sans", sans-serif' font-size="15" font-weight="bold">100</text>
<text x="1184.0" y="1175.3" text-anchor="middle" font-family='"Liberation Sans", sans-serif' font-size="15" font-weight="bold">120</text>
<text x="858.3" y="1207.5" font-family='"Liberation Sans", sans-serif' font-size="19.8" font-weight="bold">Concentration / µM</text>
<text transform="translate(663,1070.8) rotate(-90)" font-family='"Liberation Sans", sans-serif' font-size="19.2" font-weight="bold">Relative GrmB Activity %</text>
<line x1="713" y1="960.7" x2="1196" y2="960.7" stroke="#111" stroke-width="2.2" stroke-dasharray="4.2,3.8"/>
<line x1="802" y1="962" x2="802" y2="1150" stroke="#d04898" stroke-width="2.4" stroke-dasharray="3.4,4.6"/>
<line x1="893.5" y1="962" x2="893.5" y2="1150" stroke="#f8a830" stroke-width="2.4" stroke-dasharray="3.4,4.6"/>
<line x1="923.5" y1="962" x2="923.5" y2="1150" stroke="#1e96d6" stroke-width="2.4" stroke-dasharray="3.4,4.6"/>
<line x1="936" y1="962" x2="936" y2="1150" stroke="#1a9a3a" stroke-width="2.4" stroke-dasharray="3.4,4.6"/>
<line x1="945" y1="962" x2="945" y2="1150" stroke="#f07020" stroke-width="2.4" stroke-dasharray="3.4,4.6"/>
<text x="821.5" y="998.8" font-family='"Liberation Sans", sans-serif' font-size="30" font-weight="bold" fill="#e3302a">IC<tspan font-size="20" dy="5.5">50</tspan></text>
<polyline points="747.5,773.3 820.2,782.8 893.0,832.4 965.8,1017.1 1038.5,1093.3 1111.2,1114.3 1184.0,1116.2" fill="none" stroke="#f38b1f" stroke-width="2.6" stroke-linejoin="round"/>
<circle cx="747.5" cy="773.3" r="4.5" fill="#f38b1f"/>
<circle cx="820.2" cy="782.8" r="4.5" fill="#f38b1f"/>
<circle cx="893.0" cy="832.4" r="4.5" fill="#f38b1f"/>
<circle cx="965.8" cy="1017.1" r="4.5" fill="#f38b1f"/>
<circle cx="1038.5" cy="1093.3" r="4.5" fill="#f38b1f"/>
<circle cx="1111.2" cy="1114.3" r="4.5" fill="#f38b1f"/>
<polyline points="747.5,771.4 820.2,784.7 893.0,847.6 965.8,1028.6 1038.5,1106.7 1111.2,1114.3 1184.0,1116.2" fill="none" stroke="#20a4dc" stroke-width="2.6" stroke-linejoin="round"/>
<polygon points="747.5,765.9 752.5,774.9 742.5,774.9" fill="#20a4dc"/>
<polygon points="820.2,779.2 825.2,788.2 815.2,788.2" fill="#20a4dc"/>
<polygon points="893.0,842.1 898.0,851.1 888.0,851.1" fill="#20a4dc"/>
<polygon points="965.8,1023.1 970.8,1032.1 960.8,1032.1" fill="#20a4dc"/>
<polygon points="1038.5,1101.2 1043.5,1110.2 1033.5,1110.2" fill="#20a4dc"/>
<polygon points="1111.2,1108.8 1116.2,1117.8 1106.2,1117.8" fill="#20a4dc"/>
<polyline points="747.5,773.3 820.2,808.4 893.0,953.5 965.8,1081.9 1038.5,1116.2 1111.2,1120.0 1184.0,1123.8" fill="none" stroke="#e7cf1e" stroke-width="2.6" stroke-linejoin="round"/>
<polygon points="747.5,778.8 752.5,769.8 742.5,769.8" fill="#e7cf1e"/>
<polygon points="820.2,813.9 825.2,804.9 815.2,804.9" fill="#e7cf1e"/>
<polygon points="893.0,959.0 898.0,950.0 888.0,950.0" fill="#e7cf1e"/>
<polygon points="965.8,1087.4 970.8,1078.4 960.8,1078.4" fill="#e7cf1e"/>
<polygon points="1038.5,1121.7 1043.5,1112.7 1033.5,1112.7" fill="#e7cf1e"/>
<polygon points="1111.2,1125.5 1116.2,1116.5 1106.2,1116.5" fill="#e7cf1e"/>
<polyline points="747.5,777.1 820.2,792.7 893.0,883.4 965.8,1059.1 1038.5,1108.6 1111.2,1114.3 1184.0,1116.2" fill="none" stroke="#18508f" stroke-width="2.6" stroke-linejoin="round"/>
<polygon points="747.5,771.6 752.0,777.1 747.5,782.6 743.0,777.1" fill="#18508f"/>
<polygon points="820.2,787.2 824.8,792.7 820.2,798.2 815.8,792.7" fill="#18508f"/>
<polygon points="893.0,877.9 897.5,883.4 893.0,888.9 888.5,883.4" fill="#18508f"/>
<polygon points="965.8,1053.6 970.2,1059.1 965.8,1064.6 961.2,1059.1" fill="#18508f"/>
<polygon points="1038.5,1103.1 1043.0,1108.6 1038.5,1114.1 1034.0,1108.6" fill="#18508f"/>
<polygon points="1111.2,1108.8 1115.8,1114.3 1111.2,1119.8 1106.8,1114.3" fill="#18508f"/>
<polyline points="747.5,777.1 820.2,782.5 893.0,776.4 965.8,775.6 1038.5,780.9 1111.2,788.5 1184.0,788.5" fill="none" stroke="#e64a19" stroke-width="2.6" stroke-linejoin="round"/>
<polygon points="742.0,777.1 751.0,772.1 751.0,782.1" fill="#e64a19"/>
<polygon points="814.8,782.5 823.8,777.5 823.8,787.5" fill="#e64a19"/>
<polygon points="887.5,776.4 896.5,771.4 896.5,781.4" fill="#e64a19"/>
<polygon points="960.2,775.6 969.2,770.6 969.2,780.6" fill="#e64a19"/>
<polygon points="1033.0,780.9 1042.0,775.9 1042.0,785.9" fill="#e64a19"/>
<polygon points="1105.8,788.5 1114.8,783.5 1114.8,793.5" fill="#e64a19"/>
<polyline points="747.5,777.1 820.2,1026.7 893.0,1121.9 965.8,1125.7 1038.5,1131.5 1111.2,1127.6 1184.0,1129.5" fill="none" stroke="#d44c9c" stroke-width="2.6" stroke-linejoin="round"/>
<polygon points="753.0,777.1 744.0,772.1 744.0,782.1" fill="#d44c9c"/>
<polygon points="825.8,1026.7 816.8,1021.7 816.8,1031.7" fill="#d44c9c"/>
<polygon points="898.5,1121.9 889.5,1116.9 889.5,1126.9" fill="#d44c9c"/>
<polygon points="971.2,1125.7 962.2,1120.7 962.2,1130.7" fill="#d44c9c"/>
<polygon points="1044.0,1131.5 1035.0,1126.5 1035.0,1136.5" fill="#d44c9c"/>
<polygon points="1116.8,1127.6 1107.8,1122.6 1107.8,1132.6" fill="#d44c9c"/>
<g stroke="#555" stroke-width="1.6" opacity="0.8"><line x1="893.0" y1="868.2" x2="893.0" y2="898.7"/><line x1="889.5" y1="868.2" x2="896.5" y2="868.2"/><line x1="889.5" y1="898.7" x2="896.5" y2="898.7"/></g>
<g stroke="#555" stroke-width="1.6" opacity="0.8"><line x1="965.8" y1="1041.9" x2="965.8" y2="1076.2"/><line x1="962.2" y1="1041.9" x2="969.2" y2="1041.9"/><line x1="962.2" y1="1076.2" x2="969.2" y2="1076.2"/></g>
<g stroke="#e8a0d0" stroke-width="1.6" opacity="0.8"><line x1="820.2" y1="998.1" x2="820.2" y2="1055.2"/><line x1="816.8" y1="998.1" x2="823.8" y2="998.1"/><line x1="816.8" y1="1055.2" x2="823.8" y2="1055.2"/></g>
<g stroke="#f0b0d8" stroke-width="1.6" opacity="0.8"><line x1="893.0" y1="1102.9" x2="893.0" y2="1141.0"/><line x1="889.5" y1="1102.9" x2="896.5" y2="1102.9"/><line x1="889.5" y1="1141.0" x2="896.5" y2="1141.0"/></g>
<g stroke="#f0b0d8" stroke-width="1.6" opacity="0.8"><line x1="965.8" y1="1116.2" x2="965.8" y2="1135.3"/><line x1="962.2" y1="1116.2" x2="969.2" y2="1116.2"/><line x1="962.2" y1="1135.3" x2="969.2" y2="1135.3"/></g>
<g stroke="#f0b0d8" stroke-width="1.6" opacity="0.8"><line x1="1038.5" y1="1123.8" x2="1038.5" y2="1139.1"/><line x1="1035.0" y1="1123.8" x2="1042.0" y2="1123.8"/><line x1="1035.0" y1="1139.1" x2="1042.0" y2="1139.1"/></g>
<g stroke="#f8c080" stroke-width="1.6" opacity="0.8"><line x1="893.0" y1="822.8" x2="893.0" y2="841.9"/><line x1="889.5" y1="822.8" x2="896.5" y2="822.8"/><line x1="889.5" y1="841.9" x2="896.5" y2="841.9"/></g>
<g stroke="#f8c080" stroke-width="1.6" opacity="0.8"><line x1="965.8" y1="1005.7" x2="965.8" y2="1028.6"/><line x1="962.2" y1="1005.7" x2="969.2" y2="1005.7"/><line x1="962.2" y1="1028.6" x2="969.2" y2="1028.6"/></g>
<g stroke="#f0e080" stroke-width="1.6" opacity="0.8"><line x1="820.2" y1="796.9" x2="820.2" y2="819.8"/><line x1="816.8" y1="796.9" x2="823.8" y2="796.9"/><line x1="816.8" y1="819.8" x2="823.8" y2="819.8"/></g>
<g stroke="#f0e080" stroke-width="1.6" opacity="0.8"><line x1="893.0" y1="942.1" x2="893.0" y2="965.0"/><line x1="889.5" y1="942.1" x2="896.5" y2="942.1"/><line x1="889.5" y1="965.0" x2="896.5" y2="965.0"/></g>
<g stroke="#f0a080" stroke-width="1.6" opacity="0.8"><line x1="965.8" y1="769.9" x2="965.8" y2="781.3"/><line x1="962.2" y1="769.9" x2="969.2" y2="769.9"/><line x1="962.2" y1="781.3" x2="969.2" y2="781.3"/></g>
<g stroke="#555" stroke-width="1.6" opacity="0.8"><line x1="1038.5" y1="1102.9" x2="1038.5" y2="1114.3"/><line x1="1035.0" y1="1102.9" x2="1042.0" y2="1102.9"/><line x1="1035.0" y1="1114.3" x2="1042.0" y2="1114.3"/></g>
<line x1="1005" y1="813" x2="1052" y2="813" stroke="#f38b1f" stroke-width="2.6"/>
<circle cx="1028.5" cy="813.0" r="4.5" fill="#f38b1f"/>
<text x="1056.5" y="820.3" font-family='"Liberation Sans", sans-serif' font-size="20">Y508-4367</text>
<line x1="1005" y1="838" x2="1052" y2="838" stroke="#20a4dc" stroke-width="2.6"/>
<polygon points="1028.5,832.5 1033.5,841.5 1023.5,841.5" fill="#20a4dc"/>
<text x="1056.5" y="845.3" font-family='"Liberation Sans", sans-serif' font-size="20">J106-0491</text>
<line x1="1005" y1="862.2" x2="1052" y2="862.2" stroke="#e7cf1e" stroke-width="2.6"/>
<polygon points="1028.5,867.7 1033.5,858.7 1023.5,858.7" fill="#e7cf1e"/>
<text x="1056.5" y="869.5" font-family='"Liberation Sans", sans-serif' font-size="20">C679-6227</text>
<line x1="1005" y1="886.3" x2="1052" y2="886.3" stroke="#18508f" stroke-width="2.6"/>
<polygon points="1028.5,880.8 1033.0,886.3 1028.5,891.8 1024.0,886.3" fill="#18508f"/>
<text x="1056.5" y="893.5999999999999" font-family='"Liberation Sans", sans-serif' font-size="20">G357-1425</text>
<line x1="1005" y1="910.5" x2="1052" y2="910.5" stroke="#e64a19" stroke-width="2.6"/>
<polygon points="1023.0,910.5 1032.0,905.5 1032.0,915.5" fill="#e64a19"/>
<text x="1056.5" y="917.8" font-family='"Liberation Sans", sans-serif' font-size="20">Doxorubicin</text>
<line x1="1005" y1="934.7" x2="1052" y2="934.7" stroke="#d44c9c" stroke-width="2.6"/>
<polygon points="1034.0,934.7 1025.0,929.7 1025.0,939.7" fill="#d44c9c"/>
<text x="1056.5" y="942.0" font-family='"Liberation Sans", sans-serif' font-size="21.5">Ac<tspan font-size="18.5" letter-spacing="0.8">-IEPD-CHO</tspan></text>
<g font-family='"Liberation Sans", sans-serif'><circle cx="43.8" cy="76.2" r="5" fill="url(#halo)"/>
<circle cx="135.0" cy="98.8" r="5" fill="url(#halo)"/>
<circle cx="113.8" cy="117.5" r="5" fill="url(#halo)"/>
<circle cx="200.0" cy="73.0" r="5" fill="url(#halo)"/>
<path d="M35.0,71.2C34.1,73.1 30.5,79.0 29.5,82.5C28.5,86.0 28.0,89.4 28.8,92.5C29.5,95.6 31.7,98.8 33.8,101.2C35.8,103.8 38.5,105.7 41.2,107.5C44.0,109.3 46.9,110.7 50.0,112.0C53.1,113.3 56.7,114.1 60.0,115.5C63.3,116.9 67.1,118.5 70.0,120.5C72.9,122.5 75.8,125.5 77.5,127.5C79.2,129.5 80.0,131.7 80.5,132.5" fill="none" stroke="url(#pg0_0_0)" stroke-width="3.1" stroke-linecap="round" stroke-opacity="0.9"/>
<path d="M42.5,67.5C45.0,67.1 51.2,64.2 57.5,65.0C63.8,65.8 71.7,70.0 80.0,72.5C88.3,75.0 99.6,77.7 107.5,80.0C115.4,82.3 124.2,85.2 127.5,86.2" fill="none" stroke="url(#pg0_0_1)" stroke-width="3.1" stroke-linecap="round" stroke-opacity="0.9"/>
<path d="M127.5,86.2L140.0,88.8" fill="none" stroke="url(#pg0_0_2)" stroke-width="3.1" stroke-linecap="round" stroke-opacity="0.9"/>
<path d="M140.0,88.8C143.3,88.1 154.2,84.4 160.0,85.0C165.8,85.6 171.7,90.6 175.0,92.5C178.3,94.4 178.1,97.9 180.0,96.2C181.9,94.6 185.0,85.8 186.2,82.5C187.5,79.2 187.3,77.3 187.5,76.2" fill="none" stroke="url(#pg0_0_3)" stroke-width="3.1" stroke-linecap="round" stroke-opacity="0.9"/>
<path d="M205.0,63.8C207.5,64.4 215.4,65.6 220.0,67.5C224.6,69.4 230.2,72.1 232.5,75.0C234.8,77.9 234.6,80.0 233.8,85.0C232.9,90.0 228.5,101.7 227.5,105.0" fill="none" stroke="url(#pg0_0_4)" stroke-width="3.1" stroke-linecap="round" stroke-opacity="0.9"/>
<path d="M227.5,105.0C226.2,107.1 222.9,114.6 220.0,117.5C217.1,120.4 211.7,121.7 210.0,122.5" fill="none" stroke="url(#pg0_0_5)" stroke-width="3.1" stroke-linecap="round" stroke-opacity="0.9"/>
<path d="M210.0,122.5C209.2,123.8 206.2,126.2 205.0,130.0C203.8,133.8 204.6,140.8 202.5,145.0C200.4,149.2 196.2,152.7 192.5,155.0C188.8,157.3 182.1,158.1 180.0,158.8" fill="none" stroke="url(#pg0_0_6)" stroke-width="3.1" stroke-linecap="round" stroke-opacity="0.9"/>
<path d="M125.0,122.5C127.5,122.5 135.4,120.8 140.0,122.5C144.6,124.2 148.8,127.9 152.5,132.5C156.2,137.1 157.9,145.6 162.5,150.0C167.1,154.4 177.1,157.3 180.0,158.8" fill="none" stroke="url(#pg0_0_7)" stroke-width="3.1" stroke-linecap="round" stroke-opacity="0.9"/>
<path d="M47.5,48.8C44.6,50.4 35.2,55.6 30.0,58.8C24.8,61.9 19.4,64.0 16.2,67.5C13.1,71.0 12.3,75.8 11.2,80.0C10.2,84.2 10.2,90.4 10.0,92.5" fill="none" stroke="#161616" stroke-width="1.7"/>
<path d="M232.5,52.5C235.4,54.6 246.2,59.4 250.0,65.0C253.8,70.6 254.2,82.7 255.0,86.2" fill="none" stroke="#161616" stroke-width="1.7"/>
<path d="M241.2,107.5C240.6,111.2 241.2,124.2 237.5,130.0C233.8,135.8 222.5,138.8 218.8,142.5C215.0,146.2 216.5,149.0 215.0,152.5C213.5,156.0 212.5,160.4 210.0,163.8C207.5,167.1 203.3,171.0 200.0,172.5C196.7,174.0 195.6,172.5 190.0,172.5C184.4,172.5 170.2,172.5 166.2,172.5" fill="none" stroke="#161616" stroke-width="1.7"/>
<path d="M66.2,146.2C67.3,148.5 69.6,156.9 72.5,160.0C75.4,163.1 80.0,164.2 83.8,165.0C87.5,165.8 90.8,165.8 95.0,165.0C99.2,164.2 105.0,162.5 108.8,160.0C112.5,157.5 114.8,152.5 117.5,150.0C120.2,147.5 122.1,145.4 125.0,145.0C127.9,144.6 131.5,145.4 135.0,147.5C138.5,149.6 144.4,155.8 146.2,157.5" fill="none" stroke="#161616" stroke-width="1.7"/>
<path d="M43.8,77.5 L38.8,92.5 L53.8,87.5 L43.8,77.5 M53.8,87.5 L69.5,94.5 M69.5,94.5 L81.2,86.2 L92.5,101.2 L87.5,108.8 L73.8,108.8 L69.5,94.5 M92.5,101.2 L108.8,92.5 L117.5,103.8 L113.8,117.5 L98.8,122.5 L87.5,108.8 M98.8,122.5 L93.8,135.0 M117.5,103.8 L135.0,100.0 L143.8,111.2 L157.5,107.5 L163.8,93.8 M157.5,107.5 L170.0,117.5 M185.0,117.5 L187.5,102.5 L207.5,96.2 L215.0,110.0 M207.5,96.2 L210.0,85.0 L200.0,73.8 M210.0,85.0 L222.5,81.2 M71.7,96.0 L74.8,106.3 M95.6,101.5 L107.3,95.2 M115.3,105.2 L112.6,115.1 M96.5,123.6 L92.9,132.6 M159.9,106.3 L164.4,96.4 M207.1,99.0 L212.5,108.9 M172.9,120.2 L183.0,120.2 M191.5,131.0 L187.3,140.4 M174.4,140.4 L168.4,132.8 M170.0,117.5 L185.0,117.5 L195.0,130.0 L188.8,143.8 L173.8,143.8 L165.0,132.5Z" fill="none" stroke="#2a2a2a" stroke-width="1.1" stroke-linejoin="round"/>
<line x1="71.2" y1="143.8" x2="91.2" y2="136.2" stroke="#a046cc" stroke-width="0.9" marker-end="url(#ahb)"/>
<line x1="217.5" y1="137.5" x2="215.0" y2="113.8" stroke="#a046cc" stroke-width="0.9" marker-end="url(#ahb)"/>
<line x1="206.2" y1="158.8" x2="179.5" y2="130.5" stroke="#e8463c" stroke-width="0.9"/><circle cx="179.5" cy="130.5" r="1.2" fill="#e8463c"/>
<rect x="78.2" y="83.0" width="6.0" height="6.4" rx="2" fill="#fff"/>
<text x="81.2" y="88.3" text-anchor="middle" font-size="6" fill="#b8a020">S</text>
<rect x="105.8" y="89.3" width="6.0" height="6.4" rx="2" fill="#fff"/>
<text x="108.8" y="94.6" text-anchor="middle" font-size="6" fill="#3a44a8">N</text>
<rect x="84.5" y="105.5" width="6.0" height="6.4" rx="2" fill="#fff"/>
<text x="87.5" y="110.8" text-anchor="middle" font-size="6" fill="#3a44a8">N</text>
<rect x="70.8" y="105.5" width="6.0" height="6.4" rx="2" fill="#fff"/>
<text x="73.8" y="110.8" text-anchor="middle" font-size="6" fill="#3a44a8">N</text>
<rect x="90.8" y="131.8" width="6.0" height="6.4" rx="2" fill="#fff"/>
<text x="93.8" y="137.1" text-anchor="middle" font-size="6" fill="#e23a3a">O</text>
<rect x="140.8" y="108.0" width="6.0" height="6.4" rx="2" fill="#fff"/>
<text x="143.8" y="113.3" text-anchor="middle" font-size="6" fill="#e23a3a">O</text>
<rect x="160.8" y="90.5" width="6.0" height="6.4" rx="2" fill="#fff"/>
<text x="163.8" y="95.8" text-anchor="middle" font-size="6" fill="#e23a3a">O</text>
<rect x="183.9" y="99.3" width="9.6" height="6.4" rx="2" fill="#fff"/>
<text x="188.8" y="104.6" text-anchor="middle" font-size="6" fill="#3a44a8">HN</text>
<rect x="212.0" y="106.8" width="6.0" height="6.4" rx="2" fill="#fff"/>
<text x="215.0" y="112.1" text-anchor="middle" font-size="6" fill="#e23a3a">O</text>
<path d="M0,10.6L5.26,4.62A7.0,7.0 0 1 0 -5.26,4.62Z" transform="translate(47.5,47.1) rotate(0)" fill="url(#rg_hyd)"/>
<text x="47.5" y="46.6" text-anchor="middle" font-size="4.5" font-weight="bold" textLength="6.0" lengthAdjust="spacingAndGlyphs" fill="#222">TYR</text><text x="47.5" y="51.4" text-anchor="middle" font-size="4.5" font-weight="bold" textLength="5.6" lengthAdjust="spacingAndGlyphs" fill="#222">174</text>
<path d="M0,10.6L5.26,4.62A7.0,7.0 0 1 0 -5.26,4.62Z" transform="translate(16.2,65.9) rotate(0)" fill="url(#rg_hyd)"/>
<text x="16.2" y="65.4" text-anchor="middle" font-size="4.5" font-weight="bold" textLength="6.0" lengthAdjust="spacingAndGlyphs" fill="#222">LEU</text><text x="16.2" y="70.2" text-anchor="middle" font-size="4.5" font-weight="bold" textLength="5.6" lengthAdjust="spacingAndGlyphs" fill="#222">172</text>
<path d="M0,10.6L5.26,4.62A7.0,7.0 0 1 0 -5.26,4.62Z" transform="translate(11.6,92.5) rotate(90)" fill="url(#rg_neg)"/>
<text x="11.6" y="92.0" text-anchor="middle" font-size="4.5" font-weight="bold" textLength="6.0" lengthAdjust="spacingAndGlyphs" fill="#222">ASP</text><text x="11.6" y="96.8" text-anchor="middle" font-size="4.5" font-weight="bold" textLength="5.6" lengthAdjust="spacingAndGlyphs" fill="#222">171</text>
<path d="M0,10.6L5.26,4.62A7.0,7.0 0 1 0 -5.26,4.62Z" transform="translate(125.0,65.9) rotate(0)" fill="url(#rg_hyd)"/>
<text x="125.0" y="65.4" text-anchor="middle" font-size="4.5" font-weight="bold" textLength="6.0" lengthAdjust="spacingAndGlyphs" fill="#222">PHE</text><text x="125.0" y="70.2" text-anchor="middle" font-size="4.5" font-weight="bold" textLength="3.7" lengthAdjust="spacingAndGlyphs" fill="#222">99</text>
<path d="M0,10.6L5.26,4.62A7.0,7.0 0 1 0 -5.26,4.62Z" transform="translate(217.5,27.1) rotate(0)" fill="url(#rg_pol)"/>
<text x="217.5" y="26.6" text-anchor="middle" font-size="4.5" font-weight="bold" textLength="6.0" lengthAdjust="spacingAndGlyphs" fill="#222">HIS</text><text x="217.5" y="31.4" text-anchor="middle" font-size="4.5" font-weight="bold" textLength="3.7" lengthAdjust="spacingAndGlyphs" fill="#222">57</text>
<path d="M0,10.6L5.26,4.62A7.0,7.0 0 1 0 -5.26,4.62Z" transform="translate(232.5,50.9) rotate(0)" fill="url(#rg_pos)"/>
<text x="232.5" y="50.4" text-anchor="middle" font-size="4.5" font-weight="bold" textLength="6.0" lengthAdjust="spacingAndGlyphs" fill="#222">LYS</text><text x="232.5" y="55.2" text-anchor="middle" font-size="4.5" font-weight="bold" textLength="3.7" lengthAdjust="spacingAndGlyphs" fill="#222">40</text>
<path d="M0,10.6L5.26,4.62A7.0,7.0 0 1 0 -5.26,4.62Z" transform="translate(248.4,65.0) rotate(-90)" fill="url(#rg_pos)"/>
<text x="248.4" y="64.5" text-anchor="middle" font-size="4.5" font-weight="bold" textLength="6.0" lengthAdjust="spacingAndGlyphs" fill="#222">ARG</text><text x="248.4" y="69.3" text-anchor="middle" font-size="4.5" font-weight="bold" textLength="3.7" lengthAdjust="spacingAndGlyphs" fill="#222">41</text>
<path d="M0,10.6L5.26,4.62A7.0,7.0 0 1 0 -5.26,4.62Z" transform="translate(256.6,86.2) rotate(90)" fill="url(#rg_hyd)"/>
<text x="256.6" y="85.8" text-anchor="middle" font-size="4.5" font-weight="bold" textLength="6.0" lengthAdjust="spacingAndGlyphs" fill="#222">CYS</text><text x="256.6" y="90.5" text-anchor="middle" font-size="4.5" font-weight="bold" textLength="3.7" lengthAdjust="spacingAndGlyphs" fill="#222">42</text>
<path d="M0,10.6L5.26,4.62A7.0,7.0 0 1 0 -5.26,4.62Z" transform="translate(242.1,108.9) rotate(-210)" fill="url(#rg_pol)"/>
<text x="242.1" y="108.4" text-anchor="middle" font-size="4.5" font-weight="bold" textLength="6.0" lengthAdjust="spacingAndGlyphs" fill="#222">SER</text><text x="242.1" y="113.2" text-anchor="middle" font-size="4.5" font-weight="bold" textLength="5.6" lengthAdjust="spacingAndGlyphs" fill="#222">195</text>
<path d="M0,10.6L5.26,4.62A7.0,7.0 0 1 0 -5.26,4.62Z" transform="translate(236.0,129.5) rotate(-70)" fill="url(#rg_neg)"/>
<text x="236.0" y="129.0" text-anchor="middle" font-size="4.5" font-weight="bold" textLength="6.0" lengthAdjust="spacingAndGlyphs" fill="#222">ASP</text><text x="236.0" y="133.8" text-anchor="middle" font-size="4.5" font-weight="bold" textLength="5.6" lengthAdjust="spacingAndGlyphs" fill="#222">194</text>
<path d="M0,10.6L5.26,4.62A7.0,7.0 0 1 0 -5.26,4.62Z" transform="translate(218.8,140.9) rotate(0)" fill="url(#rg_gly)"/>
<text x="218.8" y="140.4" text-anchor="middle" font-size="4.5" font-weight="bold" textLength="6.0" lengthAdjust="spacingAndGlyphs" fill="#222">GLY</text><text x="218.8" y="145.2" text-anchor="middle" font-size="4.5" font-weight="bold" textLength="5.6" lengthAdjust="spacingAndGlyphs" fill="#222">193</text>
<path d="M0,10.6L5.26,4.62A7.0,7.0 0 1 0 -5.26,4.62Z" transform="translate(210.0,162.2) rotate(0)" fill="url(#rg_pos)"/>
<text x="210.0" y="161.7" text-anchor="middle" font-size="4.5" font-weight="bold" textLength="6.0" lengthAdjust="spacingAndGlyphs" fill="#222">LYS</text><text x="210.0" y="166.5" text-anchor="middle" font-size="4.5" font-weight="bold" textLength="5.6" lengthAdjust="spacingAndGlyphs" fill="#222">192</text>
<path d="M0,10.6L5.26,4.62A7.0,7.0 0 1 0 -5.26,4.62Z" transform="translate(190.0,170.9) rotate(0)" fill="url(#rg_hyd)"/>
<text x="190.0" y="170.4" text-anchor="middle" font-size="4.5" font-weight="bold" textLength="6.0" lengthAdjust="spacingAndGlyphs" fill="#222">PHE</text><text x="190.0" y="175.2" text-anchor="middle" font-size="4.5" font-weight="bold" textLength="5.6" lengthAdjust="spacingAndGlyphs" fill="#222">191</text>
<path d="M0,10.6L5.26,4.62A7.0,7.0 0 1 0 -5.26,4.62Z" transform="translate(167.1,171.1) rotate(30)" fill="url(#rg_pol)"/>
<text x="167.1" y="170.6" text-anchor="middle" font-size="4.5" font-weight="bold" textLength="6.0" lengthAdjust="spacingAndGlyphs" fill="#222">SER</text><text x="167.1" y="175.4" text-anchor="middle" font-size="4.5" font-weight="bold" textLength="5.6" lengthAdjust="spacingAndGlyphs" fill="#222">190</text>
<path d="M0,10.6L5.26,4.62A7.0,7.0 0 1 0 -5.26,4.62Z" transform="translate(180.0,194.1) rotate(-180)" fill="url(#rg_pos)"/>
<text x="180.0" y="193.6" text-anchor="middle" font-size="4.5" font-weight="bold" textLength="6.0" lengthAdjust="spacingAndGlyphs" fill="#222">ARG</text><text x="180.0" y="198.4" text-anchor="middle" font-size="4.5" font-weight="bold" textLength="5.6" lengthAdjust="spacingAndGlyphs" fill="#222">226</text>
<path d="M0,10.6L5.26,4.62A7.0,7.0 0 1 0 -5.26,4.62Z" transform="translate(67.8,145.7) rotate(70)" fill="url(#rg_pol)"/>
<text x="67.8" y="145.2" text-anchor="middle" font-size="4.5" font-weight="bold" textLength="6.0" lengthAdjust="spacingAndGlyphs" fill="#222">ASN</text><text x="67.8" y="150.0" text-anchor="middle" font-size="4.5" font-weight="bold" textLength="5.6" lengthAdjust="spacingAndGlyphs" fill="#222">218</text>
<path d="M0,10.6L5.26,4.62A7.0,7.0 0 1 0 -5.26,4.62Z" transform="translate(83.0,161.1) rotate(-30)" fill="url(#rg_pos)"/>
<text x="83.0" y="160.6" text-anchor="middle" font-size="4.5" font-weight="bold" textLength="6.0" lengthAdjust="spacingAndGlyphs" fill="#222">ARG</text><text x="83.0" y="165.4" text-anchor="middle" font-size="4.5" font-weight="bold" textLength="5.6" lengthAdjust="spacingAndGlyphs" fill="#222">217</text>
<path d="M0,10.6L5.26,4.62A7.0,7.0 0 1 0 -5.26,4.62Z" transform="translate(108.8,158.4) rotate(0)" fill="url(#rg_gly)"/>
<text x="108.8" y="157.9" text-anchor="middle" font-size="4.5" font-weight="bold" textLength="6.0" lengthAdjust="spacingAndGlyphs" fill="#222">GLY</text><text x="108.8" y="162.7" text-anchor="middle" font-size="4.5" font-weight="bold" textLength="5.6" lengthAdjust="spacingAndGlyphs" fill="#222">216</text>
<path d="M0,10.6L5.26,4.62A7.0,7.0 0 1 0 -5.26,4.62Z" transform="translate(124.2,146.4) rotate(-150)" fill="url(#rg_hyd)"/>
<text x="124.2" y="145.9" text-anchor="middle" font-size="4.5" font-weight="bold" textLength="6.0" lengthAdjust="spacingAndGlyphs" fill="#222">TYR</text><text x="124.2" y="150.7" text-anchor="middle" font-size="4.5" font-weight="bold" textLength="5.6" lengthAdjust="spacingAndGlyphs" fill="#222">215</text>
<path d="M0,10.6L5.26,4.62A7.0,7.0 0 1 0 -5.26,4.62Z" transform="translate(144.9,156.7) rotate(-60)" fill="url(#rg_hyd)"/>
<text x="144.9" y="156.2" text-anchor="middle" font-size="4.5" font-weight="bold" textLength="6.0" lengthAdjust="spacingAndGlyphs" fill="#222">VAL</text><text x="144.9" y="161.0" text-anchor="middle" font-size="4.5" font-weight="bold" textLength="5.6" lengthAdjust="spacingAndGlyphs" fill="#222">213</text></g>
<g font-family='"Liberation Sans", sans-serif'><circle cx="368.8" cy="123.8" r="5" fill="url(#halo)"/>
<circle cx="537.5" cy="76.2" r="5" fill="url(#halo)"/>
<circle cx="530.0" cy="147.5" r="5" fill="url(#halo)"/>
<circle cx="515.0" cy="153.8" r="5" fill="url(#halo)"/>
<circle cx="521.2" cy="82.5" r="5" fill="url(#halo)"/>
<path d="M320.0,72.5L335.0,68.0" fill="none" stroke="url(#pg270_10_0)" stroke-width="3.1" stroke-linecap="round" stroke-opacity="0.9"/>
<path d="M335.0,68.0C338.8,68.1 349.2,68.0 357.5,68.8C365.8,69.5 376.2,71.2 385.0,72.5C393.8,73.8 405.8,75.6 410.0,76.2" fill="none" stroke="url(#pg270_10_1)" stroke-width="3.1" stroke-linecap="round" stroke-opacity="0.9"/>
<path d="M410.0,76.2C412.5,76.9 420.4,77.9 425.0,80.0C429.6,82.1 435.4,87.3 437.5,88.8" fill="none" stroke="url(#pg270_10_2)" stroke-width="3.1" stroke-linecap="round" stroke-opacity="0.9"/>
<path d="M437.5,88.8C438.3,91.0 438.8,99.6 442.5,102.5C446.2,105.4 454.2,106.2 460.0,106.2C465.8,106.2 473.3,105.6 477.5,102.5C481.7,99.4 479.6,91.9 485.0,87.5C490.4,83.1 505.8,78.1 510.0,76.2" fill="none" stroke="url(#pg270_10_3)" stroke-width="3.1" stroke-linecap="round" stroke-opacity="0.9"/>
<path d="M321.2,71.2C320.2,73.5 315.4,79.4 315.0,85.0C314.6,90.6 316.2,99.2 318.8,105.0C321.2,110.8 325.2,115.8 330.0,120.0C334.8,124.2 344.6,128.3 347.5,130.0" fill="none" stroke="url(#pg270_10_4)" stroke-width="3.1" stroke-linecap="round" stroke-opacity="0.9"/>
<path d="M347.5,130.0L370.0,133.8" fill="none" stroke="url(#pg270_10_5)" stroke-width="3.1" stroke-linecap="round" stroke-opacity="0.9"/>
<path d="M387.5,125.0L405.0,132.5" fill="none" stroke="url(#pg270_10_6)" stroke-width="3.1" stroke-linecap="round" stroke-opacity="0.9"/>
<path d="M405.0,132.5C408.3,132.9 418.3,133.3 425.0,135.0C431.7,136.7 441.7,141.2 445.0,142.5" fill="none" stroke="url(#pg270_10_7)" stroke-width="3.1" stroke-linecap="round" stroke-opacity="0.9"/>
<path d="M445.0,142.5C447.5,143.2 455.0,146.6 460.0,147.0C465.0,147.4 470.0,143.7 475.0,145.0C480.0,146.3 484.2,151.7 490.0,155.0C495.8,158.3 506.7,163.3 510.0,165.0" fill="none" stroke="url(#pg270_10_8)" stroke-width="3.1" stroke-linecap="round" stroke-opacity="0.9"/>
<path d="M542.5,87.5C540.4,90.0 531.5,96.7 530.0,102.5C528.5,108.3 533.1,119.2 533.8,122.5" fill="none" stroke="url(#pg270_10_9)" stroke-width="3.1" stroke-linecap="round" stroke-opacity="0.9"/>
<path d="M342.5,48.8C339.6,49.6 330.6,51.7 325.0,53.8C319.4,55.8 312.7,58.5 308.8,61.2C304.8,64.0 303.1,66.7 301.2,70.0C299.4,73.3 298.1,79.4 297.5,81.2" fill="none" stroke="#161616" stroke-width="1.7"/>
<path d="M530.0,48.8C526.2,50.0 515.0,53.8 507.5,56.2C500.0,58.8 491.2,61.7 485.0,63.8C478.8,65.8 473.5,66.9 470.0,68.8C466.5,70.6 464.8,74.0 463.8,75.0" fill="none" stroke="#161616" stroke-width="1.7"/>
<path d="M328.8,138.8C330.2,140.2 334.2,145.4 337.5,147.5C340.8,149.6 344.2,150.4 348.8,151.2C353.3,152.1 360.2,152.5 365.0,152.5C369.8,152.5 373.3,151.2 377.5,151.2C381.7,151.2 386.2,152.1 390.0,152.5C393.8,152.9 395.8,153.4 400.0,153.8C404.2,154.1 410.2,154.5 415.0,154.5C419.8,154.5 426.5,153.9 428.8,153.8" fill="none" stroke="#161616" stroke-width="1.7"/>
<path d="M407.5,188.8C409.2,187.3 414.2,182.1 417.5,180.0C420.8,177.9 423.3,175.8 427.5,176.2C431.7,176.7 438.8,179.4 442.5,182.5C446.2,185.6 447.5,191.7 450.0,195.0C452.5,198.3 456.2,201.2 457.5,202.5" fill="none" stroke="#161616" stroke-width="1.7"/>
<path d="M356.2,93.8 L372.5,96.2 L377.5,110.0 M372.5,96.2 L380.0,83.8 L397.5,85.0 L402.5,101.2 M347.5,108.8 L352.5,121.2 L368.8,123.8 M402.5,101.2 L417.5,101.2 L420.0,117.5 L405.0,123.8 L393.8,112.5 L402.5,101.2 M417.5,101.2 L428.8,91.2 M420.0,117.5 L432.5,125.0 L447.5,117.5 L460.0,125.0 L460.0,140.0 M460.0,125.0 L473.8,117.5 L487.5,123.8 M487.5,123.8 L501.2,118.8 L511.2,132.5 L503.8,146.2 L488.8,140.0 L487.5,123.8 M511.2,132.5 L527.5,132.5 L530.0,147.5 L515.0,153.8 L503.8,146.2 M501.2,118.8 L505.0,103.8 L492.5,92.5 M505.0,103.8 L518.8,97.5 L522.5,83.8 L537.5,76.2 M371.6,98.8 L375.2,108.7 M396.3,112.0 L402.6,103.9 M406.4,121.3 L417.2,116.8 M458.3,127.1 L458.3,137.9 M490.0,124.6 L499.9,121.0 M508.7,133.6 L503.3,143.5 M504.4,100.9 L495.4,92.8 M334.2,82.8 L346.9,82.8 M352.4,94.8 L346.5,105.0 M332.5,104.9 L327.4,94.7 M331.2,80.0 L350.0,80.0 L356.2,93.8 L347.5,108.8 L331.2,108.8 L323.8,93.8Z" fill="none" stroke="#2a2a2a" stroke-width="1.1" stroke-linejoin="round"/>
<line x1="380.0" y1="146.2" x2="394.2" y2="115.0" stroke="#a046cc" stroke-width="0.9" marker-end="url(#ahb)"/>
<line x1="432.5" y1="171.2" x2="458.0" y2="142.0" stroke="#a046cc" stroke-width="0.9" marker-end="url(#ahb)"/>
<line x1="473.8" y1="120.0" x2="473.8" y2="159.5" stroke="#a046cc" stroke-width="0.9" marker-end="url(#ahb)"/>
<line x1="486.2" y1="68.8" x2="491.2" y2="90.0" stroke="#a046cc" stroke-width="0.9" marker-end="url(#ahb)"/>
<rect x="377.0" y="80.5" width="6.0" height="6.4" rx="2" fill="#fff"/>
<text x="380.0" y="85.8" text-anchor="middle" font-size="6" fill="#3a44a8">N</text>
<text x="380.0" y="79.6" text-anchor="middle" font-size="6" fill="#3a44a8">H</text>
<rect x="374.5" y="106.8" width="6.0" height="6.4" rx="2" fill="#fff"/>
<text x="377.5" y="112.1" text-anchor="middle" font-size="6" fill="#e23a3a">O</text>
<rect x="349.5" y="118.0" width="6.0" height="6.4" rx="2" fill="#fff"/>
<text x="352.5" y="123.3" text-anchor="middle" font-size="6" fill="#e23a3a">O</text>
<rect x="414.5" y="98.0" width="6.0" height="6.4" rx="2" fill="#fff"/>
<text x="417.5" y="103.3" text-anchor="middle" font-size="6" fill="#3a44a8">N</text>
<rect x="402.0" y="120.5" width="6.0" height="6.4" rx="2" fill="#fff"/>
<text x="405.0" y="125.8" text-anchor="middle" font-size="6" fill="#3a44a8">N</text>
<rect x="390.8" y="109.3" width="6.0" height="6.4" rx="2" fill="#fff"/>
<text x="393.8" y="114.6" text-anchor="middle" font-size="6" fill="#3a44a8">N</text>
<rect x="429.5" y="121.8" width="6.0" height="6.4" rx="2" fill="#fff"/>
<text x="432.5" y="127.1" text-anchor="middle" font-size="6" fill="#b8a020">S</text>
<rect x="457.0" y="136.8" width="6.0" height="6.4" rx="2" fill="#fff"/>
<text x="460.0" y="142.1" text-anchor="middle" font-size="6" fill="#e23a3a">O</text>
<rect x="470.8" y="114.3" width="6.0" height="6.4" rx="2" fill="#fff"/>
<text x="473.8" y="119.6" text-anchor="middle" font-size="6" fill="#3a44a8">N</text>
<text x="473.8" y="113.3" text-anchor="middle" font-size="6" fill="#3a44a8">H</text>
<rect x="485.8" y="136.8" width="6.0" height="6.4" rx="2" fill="#fff"/>
<text x="488.8" y="142.1" text-anchor="middle" font-size="6" fill="#b8a020">S</text>
<rect x="489.5" y="89.3" width="6.0" height="6.4" rx="2" fill="#fff"/>
<text x="492.5" y="94.6" text-anchor="middle" font-size="6" fill="#e23a3a">O</text>
<rect x="515.8" y="94.3" width="6.0" height="6.4" rx="2" fill="#fff"/>
<text x="518.8" y="99.6" text-anchor="middle" font-size="6" fill="#e23a3a">O</text>
<path d="M0,10.6L5.26,4.62A7.0,7.0 0 1 0 -5.26,4.62Z" transform="translate(342.5,47.1) rotate(0)" fill="url(#rg_hyd)"/>
<text x="342.5" y="46.6" text-anchor="middle" font-size="4.5" font-weight="bold" textLength="6.0" lengthAdjust="spacingAndGlyphs" fill="#222">TYR</text><text x="342.5" y="51.4" text-anchor="middle" font-size="4.5" font-weight="bold" textLength="5.6" lengthAdjust="spacingAndGlyphs" fill="#222">174</text>
<path d="M0,10.6L5.26,4.62A7.0,7.0 0 1 0 -5.26,4.62Z" transform="translate(308.8,59.6) rotate(0)" fill="url(#rg_hyd)"/>
<text x="308.8" y="59.1" text-anchor="middle" font-size="4.5" font-weight="bold" textLength="6.0" lengthAdjust="spacingAndGlyphs" fill="#222">LEU</text><text x="308.8" y="63.9" text-anchor="middle" font-size="4.5" font-weight="bold" textLength="5.6" lengthAdjust="spacingAndGlyphs" fill="#222">172</text>
<path d="M0,10.6L5.26,4.62A7.0,7.0 0 1 0 -5.26,4.62Z" transform="translate(298.9,80.5) rotate(60)" fill="url(#rg_neg)"/>
<text x="298.9" y="80.0" text-anchor="middle" font-size="4.5" font-weight="bold" textLength="6.0" lengthAdjust="spacingAndGlyphs" fill="#222">ASP</text><text x="298.9" y="84.8" text-anchor="middle" font-size="4.5" font-weight="bold" textLength="5.6" lengthAdjust="spacingAndGlyphs" fill="#222">171</text>
<path d="M0,10.6L5.26,4.62A7.0,7.0 0 1 0 -5.26,4.62Z" transform="translate(402.5,53.4) rotate(0)" fill="url(#rg_hyd)"/>
<text x="402.5" y="52.9" text-anchor="middle" font-size="4.5" font-weight="bold" textLength="6.0" lengthAdjust="spacingAndGlyphs" fill="#222">PHE</text><text x="402.5" y="57.7" text-anchor="middle" font-size="4.5" font-weight="bold" textLength="3.7" lengthAdjust="spacingAndGlyphs" fill="#222">99</text>
<path d="M0,10.6L5.26,4.62A7.0,7.0 0 1 0 -5.26,4.62Z" transform="translate(530.0,47.1) rotate(0)" fill="url(#rg_pol)"/>
<text x="530.0" y="46.6" text-anchor="middle" font-size="4.5" font-weight="bold" textLength="6.0" lengthAdjust="spacingAndGlyphs" fill="#222">SER</text><text x="530.0" y="51.4" text-anchor="middle" font-size="4.5" font-weight="bold" textLength="3.7" lengthAdjust="spacingAndGlyphs" fill="#222">38</text>
<path d="M0,10.6L5.26,4.62A7.0,7.0 0 1 0 -5.26,4.62Z" transform="translate(507.5,54.6) rotate(0)" fill="url(#rg_hyd)"/>
<text x="507.5" y="54.1" text-anchor="middle" font-size="4.5" font-weight="bold" textLength="6.0" lengthAdjust="spacingAndGlyphs" fill="#222">LEU</text><text x="507.5" y="58.9" text-anchor="middle" font-size="4.5" font-weight="bold" textLength="3.7" lengthAdjust="spacingAndGlyphs" fill="#222">39</text>
<path d="M0,10.6L5.26,4.62A7.0,7.0 0 1 0 -5.26,4.62Z" transform="translate(485.0,62.1) rotate(0)" fill="url(#rg_pos)"/>
<text x="485.0" y="61.6" text-anchor="middle" font-size="4.5" font-weight="bold" textLength="6.0" lengthAdjust="spacingAndGlyphs" fill="#222">LYS</text><text x="485.0" y="66.5" text-anchor="middle" font-size="4.5" font-weight="bold" textLength="3.7" lengthAdjust="spacingAndGlyphs" fill="#222">40</text>
<path d="M0,10.6L5.26,4.62A7.0,7.0 0 1 0 -5.26,4.62Z" transform="translate(464.6,73.6) rotate(30)" fill="url(#rg_pos)"/>
<text x="464.6" y="73.1" text-anchor="middle" font-size="4.5" font-weight="bold" textLength="6.0" lengthAdjust="spacingAndGlyphs" fill="#222">ARG</text><text x="464.6" y="77.9" text-anchor="middle" font-size="4.5" font-weight="bold" textLength="3.7" lengthAdjust="spacingAndGlyphs" fill="#222">41</text>
<path d="M0,10.6L5.26,4.62A7.0,7.0 0 1 0 -5.26,4.62Z" transform="translate(330.1,139.6) rotate(-240)" fill="url(#rg_pol)"/>
<text x="330.1" y="139.1" text-anchor="middle" font-size="4.5" font-weight="bold" textLength="6.0" lengthAdjust="spacingAndGlyphs" fill="#222">ASN</text><text x="330.1" y="143.9" text-anchor="middle" font-size="4.5" font-weight="bold" textLength="5.6" lengthAdjust="spacingAndGlyphs" fill="#222">218</text>
<path d="M0,10.6L5.26,4.62A7.0,7.0 0 1 0 -5.26,4.62Z" transform="translate(348.8,149.7) rotate(0)" fill="url(#rg_pos)"/>
<text x="348.8" y="149.2" text-anchor="middle" font-size="4.5" font-weight="bold" textLength="6.0" lengthAdjust="spacingAndGlyphs" fill="#222">ARG</text><text x="348.8" y="154.0" text-anchor="middle" font-size="4.5" font-weight="bold" textLength="5.6" lengthAdjust="spacingAndGlyphs" fill="#222">217</text>
<path d="M0,10.6L5.26,4.62A7.0,7.0 0 1 0 -5.26,4.62Z" transform="translate(377.5,149.7) rotate(0)" fill="url(#rg_gly)"/>
<text x="377.5" y="149.2" text-anchor="middle" font-size="4.5" font-weight="bold" textLength="6.0" lengthAdjust="spacingAndGlyphs" fill="#222">GLY</text><text x="377.5" y="154.0" text-anchor="middle" font-size="4.5" font-weight="bold" textLength="5.6" lengthAdjust="spacingAndGlyphs" fill="#222">216</text>
<path d="M0,10.6L5.26,4.62A7.0,7.0 0 1 0 -5.26,4.62Z" transform="translate(400.0,155.3) rotate(-180)" fill="url(#rg_hyd)"/>
<text x="400.0" y="154.8" text-anchor="middle" font-size="4.5" font-weight="bold" textLength="6.0" lengthAdjust="spacingAndGlyphs" fill="#222">TYR</text><text x="400.0" y="159.7" text-anchor="middle" font-size="4.5" font-weight="bold" textLength="5.6" lengthAdjust="spacingAndGlyphs" fill="#222">215</text>
<path d="M0,10.6L5.26,4.62A7.0,7.0 0 1 0 -5.26,4.62Z" transform="translate(428.8,152.2) rotate(0)" fill="url(#rg_pol)"/>
<text x="428.8" y="151.7" text-anchor="middle" font-size="4.5" font-weight="bold" textLength="6.0" lengthAdjust="spacingAndGlyphs" fill="#222">SER</text><text x="428.8" y="156.5" text-anchor="middle" font-size="4.5" font-weight="bold" textLength="5.6" lengthAdjust="spacingAndGlyphs" fill="#222">214</text>
<path d="M0,10.6L5.26,4.62A7.0,7.0 0 1 0 -5.26,4.62Z" transform="translate(473.8,165.9) rotate(0)" fill="url(#rg_pol)"/>
<text x="473.8" y="165.4" text-anchor="middle" font-size="4.5" font-weight="bold" textLength="6.0" lengthAdjust="spacingAndGlyphs" fill="#222">HIS</text><text x="473.8" y="170.2" text-anchor="middle" font-size="4.5" font-weight="bold" textLength="3.7" lengthAdjust="spacingAndGlyphs" fill="#222">57</text>
<path d="M0,10.6L5.26,4.62A7.0,7.0 0 1 0 -5.26,4.62Z" transform="translate(427.5,174.7) rotate(0)" fill="url(#rg_gly)"/>
<text x="427.5" y="174.2" text-anchor="middle" font-size="4.5" font-weight="bold" textLength="6.0" lengthAdjust="spacingAndGlyphs" fill="#222">GLY</text><text x="427.5" y="179.0" text-anchor="middle" font-size="4.5" font-weight="bold" textLength="5.6" lengthAdjust="spacingAndGlyphs" fill="#222">193</text>
<path d="M0,10.6L5.26,4.62A7.0,7.0 0 1 0 -5.26,4.62Z" transform="translate(408.9,187.9) rotate(60)" fill="url(#rg_pos)"/>
<text x="408.9" y="187.4" text-anchor="middle" font-size="4.5" font-weight="bold" textLength="6.0" lengthAdjust="spacingAndGlyphs" fill="#222">LYS</text><text x="408.9" y="192.2" text-anchor="middle" font-size="4.5" font-weight="bold" textLength="5.6" lengthAdjust="spacingAndGlyphs" fill="#222">192</text>
<path d="M0,10.6L5.26,4.62A7.0,7.0 0 1 0 -5.26,4.62Z" transform="translate(457.5,204.1) rotate(-180)" fill="url(#rg_pol)"/>
<text x="457.5" y="203.6" text-anchor="middle" font-size="4.5" font-weight="bold" textLength="6.0" lengthAdjust="spacingAndGlyphs" fill="#222">SER</text><text x="457.5" y="208.4" text-anchor="middle" font-size="4.5" font-weight="bold" textLength="5.6" lengthAdjust="spacingAndGlyphs" fill="#222">195</text></g>
<g font-family='"Liberation Sans", sans-serif'><circle cx="638.8" cy="136.2" r="5" fill="url(#halo)"/>
<circle cx="665.0" cy="156.2" r="5" fill="url(#halo)"/>
<circle cx="793.0" cy="150.0" r="6" fill="url(#halo)"/>
<circle cx="781.2" cy="164.5" r="5" fill="url(#halo)"/>
<path d="M635.0,123.8C638.3,122.3 648.8,116.9 655.0,115.0C661.2,113.1 669.6,112.9 672.5,112.5" fill="none" stroke="url(#pg590_20_0)" stroke-width="3.1" stroke-linecap="round" stroke-opacity="0.9"/>
<path d="M672.5,112.5C677.5,112.9 692.9,115.6 702.5,115.0C712.1,114.4 722.9,111.7 730.0,108.8C737.1,105.8 742.5,99.4 745.0,97.5" fill="none" stroke="url(#pg590_20_1)" stroke-width="3.1" stroke-linecap="round" stroke-opacity="0.9"/>
<path d="M745.0,97.5C746.7,95.0 751.7,86.5 755.0,82.5C758.3,78.5 761.2,74.8 765.0,73.8C768.8,72.7 773.8,74.8 777.5,76.2C781.2,77.7 785.8,81.5 787.5,82.5" fill="none" stroke="url(#pg590_20_2)" stroke-width="3.1" stroke-linecap="round" stroke-opacity="0.9"/>
<path d="M787.5,82.5C790.0,81.7 797.9,78.8 802.5,77.5C807.1,76.2 812.9,75.4 815.0,75.0" fill="none" stroke="url(#pg590_20_3)" stroke-width="3.1" stroke-linecap="round" stroke-opacity="0.9"/>
<path d="M815.0,75.0C817.9,76.0 828.3,77.9 832.5,81.2C836.7,84.6 838.8,92.7 840.0,95.0" fill="none" stroke="url(#pg590_20_4)" stroke-width="3.1" stroke-linecap="round" stroke-opacity="0.9"/>
<path d="M840.0,95.0C839.6,97.5 840.4,105.4 837.5,110.0C834.6,114.6 825.0,120.4 822.5,122.5" fill="none" stroke="url(#pg590_20_5)" stroke-width="3.1" stroke-linecap="round" stroke-opacity="0.9"/>
<path d="M822.5,122.5C820.4,124.6 812.9,130.4 810.0,135.0C807.1,139.6 805.8,147.5 805.0,150.0" fill="none" stroke="url(#pg590_20_6)" stroke-width="3.1" stroke-linecap="round" stroke-opacity="0.9"/>
<path d="M688.8,166.2C692.3,166.9 702.7,166.9 710.0,170.0C717.3,173.1 728.8,182.5 732.5,185.0" fill="none" stroke="url(#pg590_20_7)" stroke-width="3.1" stroke-linecap="round" stroke-opacity="0.9"/>
<path d="M786.2,56.2C790.4,56.0 804.8,55.0 811.2,55.0C817.7,55.0 820.4,55.4 825.0,56.2C829.6,57.1 834.6,57.7 838.8,60.0C842.9,62.3 847.3,66.7 850.0,70.0C852.7,73.3 853.1,76.2 855.0,80.0C856.9,83.8 860.2,88.3 861.2,92.5C862.3,96.7 862.3,100.4 861.2,105.0C860.2,109.6 856.9,116.0 855.0,120.0C853.1,124.0 850.8,127.3 850.0,128.8" fill="none" stroke="#161616" stroke-width="1.7"/>
<path d="M755.0,56.2C752.5,60.0 744.2,72.7 740.0,78.8C735.8,84.8 733.3,89.8 730.0,92.5C726.7,95.2 724.6,94.0 720.0,95.0C715.4,96.0 708.3,99.0 702.5,98.8C696.7,98.5 690.0,95.2 685.0,93.8C680.0,92.3 676.7,90.4 672.5,90.0C668.3,89.6 664.2,90.4 660.0,91.2C655.8,92.1 651.5,93.1 647.5,95.0C643.5,96.9 638.1,101.2 636.2,102.5" fill="none" stroke="#161616" stroke-width="1.7"/>
<path d="M608.8,118.8C609.2,122.3 609.8,132.9 611.2,140.0C612.7,147.1 614.8,156.0 617.5,161.2C620.2,166.5 624.0,168.8 627.5,171.2C631.0,173.8 636.9,175.4 638.8,176.2" fill="none" stroke="#161616" stroke-width="1.7"/>
<path d="M638.8,136.2 L656.2,138.8 M691.2,140.0 L708.8,143.8 M708.8,143.8 L720.0,130.0 L737.5,136.2 L735.0,153.8 L717.5,157.5 L708.8,143.8 M737.5,136.2 L752.5,128.8 L765.0,142.5 L765.0,156.2 L748.8,165.0 L735.0,153.8 M748.8,165.0 L747.5,181.2 M765.0,142.5 L782.5,136.2 L792.5,150.0 L781.2,163.8 L765.0,156.2 M752.5,128.8 L753.8,111.2 L768.8,103.8 L770.0,87.5 M768.8,103.8 L783.8,113.8 L800.0,107.5 M800.7,105.5 L805.7,90.1 L821.8,90.1 L826.8,105.5 L813.8,115.0 L800.7,105.5 M721.9,132.5 L734.5,137.0 M711.4,144.8 L717.7,154.7 M763.3,144.4 L763.3,154.3 M746.9,167.1 L746.0,178.8 M770.6,101.6 L771.5,89.9 M660.3,138.2 L666.2,129.7 M681.3,128.9 L687.2,139.1 M679.6,151.0 L667.8,151.9 M656.2,138.8 L665.0,126.2 L682.5,125.0 L691.2,140.0 L682.5,153.8 L665.0,155.0Z" fill="none" stroke="#2a2a2a" stroke-width="1.1" stroke-linejoin="round"/>
<line x1="780.0" y1="115.5" x2="747.0" y2="84.5" stroke="#a046cc" stroke-width="0.9" marker-end="url(#ahb)"/>
<rect x="717.0" y="126.8" width="6.0" height="6.4" rx="2" fill="#fff"/>
<text x="720.0" y="132.1" text-anchor="middle" font-size="6" fill="#3a44a8">N</text>
<rect x="749.5" y="125.5" width="6.0" height="6.4" rx="2" fill="#fff"/>
<text x="752.5" y="130.8" text-anchor="middle" font-size="6" fill="#3a44a8">N</text>
<rect x="732.0" y="150.6" width="6.0" height="6.4" rx="2" fill="#fff"/>
<text x="735.0" y="155.8" text-anchor="middle" font-size="6" fill="#3a44a8">N</text>
<rect x="714.5" y="154.3" width="6.0" height="6.4" rx="2" fill="#fff"/>
<text x="717.5" y="159.6" text-anchor="middle" font-size="6" fill="#3a44a8">N</text>
<rect x="744.5" y="178.1" width="6.0" height="6.4" rx="2" fill="#fff"/>
<text x="747.5" y="183.3" text-anchor="middle" font-size="6" fill="#e23a3a">O</text>
<rect x="767.0" y="84.3" width="6.0" height="6.4" rx="2" fill="#fff"/>
<text x="770.0" y="89.6" text-anchor="middle" font-size="6" fill="#e23a3a">O</text>
<rect x="780.8" y="110.5" width="6.0" height="6.4" rx="2" fill="#fff"/>
<text x="783.8" y="115.8" text-anchor="middle" font-size="6" fill="#3a44a8">N</text>
<text x="783.8" y="122.1" text-anchor="middle" font-size="6" fill="#3a44a8">H</text>
<path d="M0,10.6L5.26,4.62A7.0,7.0 0 1 0 -5.26,4.62Z" transform="translate(838.8,32.1) rotate(0)" fill="url(#rg_pos)"/>
<text x="838.8" y="31.6" text-anchor="middle" font-size="4.5" font-weight="bold" textLength="6.0" lengthAdjust="spacingAndGlyphs" fill="#222">ARG</text><text x="838.8" y="36.4" text-anchor="middle" font-size="4.5" font-weight="bold" textLength="5.6" lengthAdjust="spacingAndGlyphs" fill="#222">226</text>
<path d="M0,10.6L5.26,4.62A7.0,7.0 0 1 0 -5.26,4.62Z" transform="translate(787.6,55.5) rotate(60)" fill="url(#rg_pol)"/>
<text x="787.6" y="55.0" text-anchor="middle" font-size="4.5" font-weight="bold" textLength="6.0" lengthAdjust="spacingAndGlyphs" fill="#222">SER</text><text x="787.6" y="59.8" text-anchor="middle" font-size="4.5" font-weight="bold" textLength="5.6" lengthAdjust="spacingAndGlyphs" fill="#222">190</text>
<path d="M0,10.6L5.26,4.62A7.0,7.0 0 1 0 -5.26,4.62Z" transform="translate(811.2,53.4) rotate(0)" fill="url(#rg_hyd)"/>
<text x="811.2" y="52.9" text-anchor="middle" font-size="4.5" font-weight="bold" textLength="6.0" lengthAdjust="spacingAndGlyphs" fill="#222">PHE</text><text x="811.2" y="57.7" text-anchor="middle" font-size="4.5" font-weight="bold" textLength="5.6" lengthAdjust="spacingAndGlyphs" fill="#222">191</text>
<path d="M0,10.6L5.26,4.62A7.0,7.0 0 1 0 -5.26,4.62Z" transform="translate(838.8,58.4) rotate(0)" fill="url(#rg_pos)"/>
<text x="838.8" y="57.9" text-anchor="middle" font-size="4.5" font-weight="bold" textLength="6.0" lengthAdjust="spacingAndGlyphs" fill="#222">LYS</text><text x="838.8" y="62.7" text-anchor="middle" font-size="4.5" font-weight="bold" textLength="5.6" lengthAdjust="spacingAndGlyphs" fill="#222">192</text>
<path d="M0,10.6L5.26,4.62A7.0,7.0 0 1 0 -5.26,4.62Z" transform="translate(855.0,78.4) rotate(0)" fill="url(#rg_gly)"/>
<text x="855.0" y="77.9" text-anchor="middle" font-size="4.5" font-weight="bold" textLength="6.0" lengthAdjust="spacingAndGlyphs" fill="#222">GLY</text><text x="855.0" y="82.7" text-anchor="middle" font-size="4.5" font-weight="bold" textLength="5.6" lengthAdjust="spacingAndGlyphs" fill="#222">193</text>
<path d="M0,10.6L5.26,4.62A7.0,7.0 0 1 0 -5.26,4.62Z" transform="translate(859.9,104.2) rotate(-60)" fill="url(#rg_neg)"/>
<text x="859.9" y="103.7" text-anchor="middle" font-size="4.5" font-weight="bold" textLength="6.0" lengthAdjust="spacingAndGlyphs" fill="#222">ASP</text><text x="859.9" y="108.5" text-anchor="middle" font-size="4.5" font-weight="bold" textLength="5.6" lengthAdjust="spacingAndGlyphs" fill="#222">194</text>
<path d="M0,10.6L5.26,4.62A7.0,7.0 0 1 0 -5.26,4.62Z" transform="translate(850.0,127.2) rotate(0)" fill="url(#rg_pol)"/>
<text x="850.0" y="126.7" text-anchor="middle" font-size="4.5" font-weight="bold" textLength="6.0" lengthAdjust="spacingAndGlyphs" fill="#222">SER</text><text x="850.0" y="131.5" text-anchor="middle" font-size="4.5" font-weight="bold" textLength="5.6" lengthAdjust="spacingAndGlyphs" fill="#222">195</text>
<path d="M0,10.6L5.26,4.62A7.0,7.0 0 1 0 -5.26,4.62Z" transform="translate(826.2,145.9) rotate(0)" fill="url(#rg_pol)"/>
<text x="826.2" y="145.4" text-anchor="middle" font-size="4.5" font-weight="bold" textLength="6.0" lengthAdjust="spacingAndGlyphs" fill="#222">HIS</text><text x="826.2" y="150.2" text-anchor="middle" font-size="4.5" font-weight="bold" textLength="3.7" lengthAdjust="spacingAndGlyphs" fill="#222">57</text>
<path d="M0,10.6L5.26,4.62A7.0,7.0 0 1 0 -5.26,4.62Z" transform="translate(753.6,55.5) rotate(-60)" fill="url(#rg_hyd)"/>
<text x="753.6" y="55.0" text-anchor="middle" font-size="4.5" font-weight="bold" textLength="6.0" lengthAdjust="spacingAndGlyphs" fill="#222">VAL</text><text x="753.6" y="59.8" text-anchor="middle" font-size="4.5" font-weight="bold" textLength="5.6" lengthAdjust="spacingAndGlyphs" fill="#222">213</text>
<path d="M0,10.6L5.26,4.62A7.0,7.0 0 1 0 -5.26,4.62Z" transform="translate(740.0,77.2) rotate(0)" fill="url(#rg_pol)"/>
<text x="740.0" y="76.7" text-anchor="middle" font-size="4.5" font-weight="bold" textLength="6.0" lengthAdjust="spacingAndGlyphs" fill="#222">SER</text><text x="740.0" y="81.5" text-anchor="middle" font-size="4.5" font-weight="bold" textLength="5.6" lengthAdjust="spacingAndGlyphs" fill="#222">214</text>
<path d="M0,10.6L5.26,4.62A7.0,7.0 0 1 0 -5.26,4.62Z" transform="translate(721.4,94.2) rotate(60)" fill="url(#rg_hyd)"/>
<text x="721.4" y="93.7" text-anchor="middle" font-size="4.5" font-weight="bold" textLength="6.0" lengthAdjust="spacingAndGlyphs" fill="#222">TYR</text><text x="721.4" y="98.5" text-anchor="middle" font-size="4.5" font-weight="bold" textLength="5.6" lengthAdjust="spacingAndGlyphs" fill="#222">215</text>
<path d="M0,10.6L5.26,4.62A7.0,7.0 0 1 0 -5.26,4.62Z" transform="translate(685.0,92.2) rotate(0)" fill="url(#rg_gly)"/>
<text x="685.0" y="91.7" text-anchor="middle" font-size="4.5" font-weight="bold" textLength="6.0" lengthAdjust="spacingAndGlyphs" fill="#222">GLY</text><text x="685.0" y="96.5" text-anchor="middle" font-size="4.5" font-weight="bold" textLength="5.6" lengthAdjust="spacingAndGlyphs" fill="#222">216</text>
<path d="M0,10.6L5.26,4.62A7.0,7.0 0 1 0 -5.26,4.62Z" transform="translate(660.0,92.8) rotate(-180)" fill="url(#rg_pos)"/>
<text x="660.0" y="92.3" text-anchor="middle" font-size="4.5" font-weight="bold" textLength="6.0" lengthAdjust="spacingAndGlyphs" fill="#222">ARG</text><text x="660.0" y="97.1" text-anchor="middle" font-size="4.5" font-weight="bold" textLength="5.6" lengthAdjust="spacingAndGlyphs" fill="#222">217</text>
<path d="M0,10.6L5.26,4.62A7.0,7.0 0 1 0 -5.26,4.62Z" transform="translate(637.6,101.7) rotate(60)" fill="url(#rg_pol)"/>
<text x="637.6" y="101.2" text-anchor="middle" font-size="4.5" font-weight="bold" textLength="6.0" lengthAdjust="spacingAndGlyphs" fill="#222">ASN</text><text x="637.6" y="106.0" text-anchor="middle" font-size="4.5" font-weight="bold" textLength="5.6" lengthAdjust="spacingAndGlyphs" fill="#222">218</text>
<path d="M0,10.6L5.26,4.62A7.0,7.0 0 1 0 -5.26,4.62Z" transform="translate(695.0,67.2) rotate(0)" fill="url(#rg_hyd)"/>
<text x="695.0" y="66.7" text-anchor="middle" font-size="4.5" font-weight="bold" textLength="6.0" lengthAdjust="spacingAndGlyphs" fill="#222">PHE</text><text x="695.0" y="71.5" text-anchor="middle" font-size="4.5" font-weight="bold" textLength="3.7" lengthAdjust="spacingAndGlyphs" fill="#222">99</text>
<path d="M0,10.6L5.26,4.62A7.0,7.0 0 1 0 -5.26,4.62Z" transform="translate(608.8,117.2) rotate(0)" fill="url(#rg_hyd)"/>
<text x="608.8" y="116.7" text-anchor="middle" font-size="4.5" font-weight="bold" textLength="6.0" lengthAdjust="spacingAndGlyphs" fill="#222">TYR</text><text x="608.8" y="121.5" text-anchor="middle" font-size="4.5" font-weight="bold" textLength="5.6" lengthAdjust="spacingAndGlyphs" fill="#222">174</text>
<path d="M0,10.6L5.26,4.62A7.0,7.0 0 1 0 -5.26,4.62Z" transform="translate(618.9,160.4) rotate(60)" fill="url(#rg_hyd)"/>
<text x="618.9" y="159.9" text-anchor="middle" font-size="4.5" font-weight="bold" textLength="6.0" lengthAdjust="spacingAndGlyphs" fill="#222">LEU</text><text x="618.9" y="164.8" text-anchor="middle" font-size="4.5" font-weight="bold" textLength="5.6" lengthAdjust="spacingAndGlyphs" fill="#222">172</text>
<path d="M0,10.6L5.26,4.62A7.0,7.0 0 1 0 -5.26,4.62Z" transform="translate(638.8,174.7) rotate(0)" fill="url(#rg_neg)"/>
<text x="638.8" y="174.2" text-anchor="middle" font-size="4.5" font-weight="bold" textLength="6.0" lengthAdjust="spacingAndGlyphs" fill="#222">ASP</text><text x="638.8" y="179.0" text-anchor="middle" font-size="4.5" font-weight="bold" textLength="5.6" lengthAdjust="spacingAndGlyphs" fill="#222">171</text></g>
<g font-family='"Liberation Sans", sans-serif'><circle cx="998.2" cy="51.2" r="5" fill="url(#halo)"/>
<circle cx="1055.0" cy="64.5" r="5" fill="url(#halo)"/>
<circle cx="1157.0" cy="131.0" r="6" fill="url(#halo)"/>
<circle cx="1137.2" cy="152.7" r="5" fill="url(#halo)"/>
<circle cx="1142.0" cy="116.5" r="5" fill="url(#halo)"/>
<path d="M972.8,60.9C973.2,63.7 972.8,73.4 975.2,77.8C977.7,82.3 981.3,85.9 987.3,87.5C993.4,89.1 1004.7,86.7 1011.5,87.5C1018.3,88.3 1023.2,88.3 1028.4,92.3C1033.7,96.4 1040.5,108.4 1042.9,111.7" fill="none" stroke="url(#pg910_15_0)" stroke-width="3.1" stroke-linecap="round" stroke-opacity="0.9"/>
<path d="M1059.8,58.5C1062.7,61.1 1071.1,70.8 1076.7,74.2C1082.4,77.6 1090.8,78.2 1093.7,79.0" fill="none" stroke="url(#pg910_15_1)" stroke-width="3.1" stroke-linecap="round" stroke-opacity="0.9"/>
<path d="M1040.5,110.5C1037.3,111.1 1025.0,111.1 1021.2,114.1C1017.3,117.1 1017.1,123.3 1017.5,128.6C1017.9,133.8 1022.6,142.7 1023.6,145.5" fill="none" stroke="url(#pg910_15_2)" stroke-width="3.1" stroke-linecap="round" stroke-opacity="0.9"/>
<path d="M1023.6,145.5L1033.2,157.6" fill="none" stroke="url(#pg910_15_3)" stroke-width="3.1" stroke-linecap="round" stroke-opacity="0.9"/>
<path d="M1033.2,157.6C1035.3,159.0 1040.1,164.4 1045.3,166.0C1050.6,167.7 1058.2,168.3 1064.7,167.2C1071.1,166.2 1080.8,161.2 1084.0,160.0" fill="none" stroke="url(#pg910_15_4)" stroke-width="3.1" stroke-linecap="round" stroke-opacity="0.9"/>
<path d="M1084.0,160.0C1085.6,161.6 1088.4,168.9 1093.7,169.7C1098.9,170.5 1109.4,165.8 1115.4,164.8C1121.5,163.8 1127.5,163.8 1129.9,163.6" fill="none" stroke="url(#pg910_15_5)" stroke-width="3.1" stroke-linecap="round" stroke-opacity="0.9"/>
<path d="M974.0,29.5C972.0,30.5 965.0,32.9 962.0,35.5C958.9,38.2 957.5,41.6 955.9,45.2C954.3,48.8 952.7,53.3 952.3,57.3C951.9,61.3 953.1,64.7 953.5,69.4C953.9,74.0 953.5,80.9 954.7,85.1C955.9,89.3 957.7,92.3 960.7,94.7C963.8,97.2 969.2,98.2 972.8,99.6C976.5,101.0 979.3,100.8 982.5,103.2C985.7,105.6 989.1,111.1 992.2,114.1C995.2,117.1 999.2,120.1 1000.6,121.3" fill="none" stroke="#161616" stroke-width="1.7"/>
<path d="M928.1,69.4L945.0,115.3" fill="none" stroke="#161616" stroke-width="1.7"/>
<path d="M1017.5,167.2C1020.8,169.9 1031.4,179.1 1036.9,183.0C1042.3,186.8 1046.1,188.8 1050.2,190.2C1054.2,191.6 1057.2,192.0 1061.0,191.4C1064.9,190.8 1069.3,188.0 1073.1,186.6C1076.9,185.2 1079.8,183.0 1084.0,183.0C1088.2,183.0 1094.3,185.4 1098.5,186.6C1102.7,187.8 1105.3,190.0 1109.4,190.2C1113.4,190.4 1118.2,189.0 1122.7,187.8C1127.1,186.6 1133.7,183.8 1136.0,183.0" fill="none" stroke="#161616" stroke-width="1.7"/>
<path d="M1161.3,92.3L1179.5,109.2" fill="none" stroke="#161616" stroke-width="1.7"/>
<path d="M984.9,60.9 L998.2,52.5 L1007.9,60.9 L1003.0,77.8 L987.3,75.4 L984.9,60.9 M1007.9,60.9 L1028.4,59.7 L1032.0,44.0 M1028.4,59.7 L1039.3,71.8 M1039.3,71.8 L1055.0,65.7 L1065.9,79.0 L1062.2,96.0 L1045.3,99.6 L1034.5,87.5 L1039.3,71.8 M1062.2,96.0 L1071.9,108.0 M1071.9,108.0 L1090.0,105.6 L1100.9,116.5 L1096.1,133.4 L1081.6,133.4 L1069.5,122.5 L1071.9,108.0 M1090.0,105.6 L1099.7,89.9 L1115.4,94.7 L1115.4,111.7 L1100.9,116.5 M1115.4,111.7 L1127.5,123.7 M1096.1,133.4 L1108.2,143.1 L1125.1,140.7 M1108.2,143.1 L1103.3,160.0 M1081.6,133.4 L1076.7,151.5 L1057.4,157.6 L1045.3,146.7 L1044.1,128.6 L1056.2,121.3 M1044.1,128.6 L1029.6,121.3 M986.9,62.7 L988.7,73.1 M998.4,54.9 L1005.4,61.0 M1030.6,57.9 L1033.2,46.6 M1092.8,104.3 L1099.8,93.0 M1071.5,120.8 L1073.3,110.3 M1094.1,131.7 L1083.6,131.7 M1105.9,145.0 L1102.4,157.2 M1046.7,129.0 L1055.4,123.8 M1130.9,125.9 L1140.7,122.6 M1152.9,133.2 L1149.6,146.3 M1137.0,147.7 L1128.8,140.4 M1127.5,123.7 L1142.0,118.9 L1156.5,131.0 L1151.7,150.3 L1137.2,151.5 L1125.1,140.7Z" fill="none" stroke="#2a2a2a" stroke-width="1.1" stroke-linejoin="round"/>
<line x1="1084.0" y1="179.3" x2="1084.5" y2="120.1" stroke="#e8463c" stroke-width="0.9"/><circle cx="1084.5" cy="120.1" r="1.2" fill="#e8463c"/>
<line x1="1087.6" y1="179.3" x2="1096.6" y2="137.0" stroke="#e8463c" stroke-width="0.9"/><circle cx="1096.6" cy="137.0" r="1.2" fill="#e8463c"/>
<line x1="1156.5" y1="97.2" x2="1140.8" y2="134.6" stroke="#e8463c" stroke-width="0.9"/><circle cx="1140.8" cy="134.6" r="1.2" fill="#e8463c"/>
<line x1="1100.9" y1="116.5" x2="1104.5" y2="104.4" stroke="#e8463c" stroke-width="0.9"/><circle cx="1104.5" cy="104.4" r="1.2" fill="#e8463c"/>
<line x1="1140.8" y1="87.5" x2="1140.8" y2="134.6" stroke="#3aa04a" stroke-width="0.9"/><circle cx="1140.8" cy="134.6" r="1.2" fill="#3aa04a"/><circle cx="1140.8" cy="87.5" r="1.2" fill="#3aa04a"/>
<line x1="1133.5" y1="83.9" x2="1085.2" y2="119.4" stroke="#3aa04a" stroke-width="0.9"/><circle cx="1085.2" cy="119.4" r="1.2" fill="#3aa04a"/><circle cx="1133.5" cy="83.9" r="1.2" fill="#3aa04a"/>
<line x1="1021.2" y1="140.7" x2="1038.1" y2="131.0" stroke="#a046cc" stroke-width="0.9" marker-end="url(#ahb)"/>
<line x1="1055.0" y1="158.1" x2="1027.2" y2="166.0" stroke="#a046cc" stroke-width="0.9" marker-end="url(#ahb)"/>
<line x1="1069.5" y1="187.1" x2="1100.9" y2="162.4" stroke="#a046cc" stroke-width="0.9" marker-end="url(#ahb)"/>
<rect x="1000.0" y="74.6" width="6.0" height="6.4" rx="2" fill="#fff"/>
<text x="1003.0" y="79.9" text-anchor="middle" font-size="6" fill="#e23a3a">O</text>
<rect x="1029.0" y="40.8" width="6.0" height="6.4" rx="2" fill="#fff"/>
<text x="1032.0" y="46.1" text-anchor="middle" font-size="6" fill="#e23a3a">O</text>
<rect x="1036.3" y="68.6" width="6.0" height="6.4" rx="2" fill="#fff"/>
<text x="1039.3" y="73.9" text-anchor="middle" font-size="6" fill="#3a44a8">N</text>
<rect x="1059.2" y="92.8" width="6.0" height="6.4" rx="2" fill="#fff"/>
<text x="1062.2" y="98.1" text-anchor="middle" font-size="6" fill="#3a44a8">N</text>
<rect x="1096.7" y="86.7" width="6.0" height="6.4" rx="2" fill="#fff"/>
<text x="1099.7" y="92.0" text-anchor="middle" font-size="6" fill="#3a44a8">N</text>
<rect x="1112.4" y="91.5" width="6.0" height="6.4" rx="2" fill="#fff"/>
<text x="1115.4" y="96.8" text-anchor="middle" font-size="6" fill="#e23a3a">O</text>
<rect x="1100.3" y="156.8" width="6.0" height="6.4" rx="2" fill="#fff"/>
<text x="1103.3" y="162.1" text-anchor="middle" font-size="6" fill="#e23a3a">O</text>
<rect x="1071.9" y="148.3" width="9.6" height="6.4" rx="2" fill="#fff"/>
<text x="1076.7" y="153.6" text-anchor="middle" font-size="6" fill="#3a44a8">NH</text>
<rect x="1024.8" y="118.1" width="9.6" height="6.4" rx="2" fill="#fff"/>
<text x="1029.6" y="123.4" text-anchor="middle" font-size="6" fill="#e23a3a">O<tspan font-size="4" dy="-2.2">&#8722;</tspan></text>
<rect x="1053.2" y="118.1" width="6.0" height="6.4" rx="2" fill="#fff"/>
<text x="1056.2" y="123.4" text-anchor="middle" font-size="6" fill="#e23a3a">O</text>
<path d="M0,10.6L5.26,4.62A7.0,7.0 0 1 0 -5.26,4.62Z" transform="translate(974.0,27.9) rotate(0)" fill="url(#rg_pol)"/>
<text x="974.0" y="27.4" text-anchor="middle" font-size="4.5" font-weight="bold" textLength="6.0" lengthAdjust="spacingAndGlyphs" fill="#222">ASN</text><text x="974.0" y="32.2" text-anchor="middle" font-size="4.5" font-weight="bold" textLength="5.6" lengthAdjust="spacingAndGlyphs" fill="#222">218</text>
<path d="M0,10.6L5.26,4.62A7.0,7.0 0 1 0 -5.26,4.62Z" transform="translate(955.9,43.6) rotate(0)" fill="url(#rg_pos)"/>
<text x="955.9" y="43.1" text-anchor="middle" font-size="4.5" font-weight="bold" textLength="6.0" lengthAdjust="spacingAndGlyphs" fill="#222">ARG</text><text x="955.9" y="47.9" text-anchor="middle" font-size="4.5" font-weight="bold" textLength="5.6" lengthAdjust="spacingAndGlyphs" fill="#222">217</text>
<path d="M0,10.6L5.26,4.62A7.0,7.0 0 1 0 -5.26,4.62Z" transform="translate(953.5,71.0) rotate(-180)" fill="url(#rg_gly)"/>
<text x="953.5" y="70.5" text-anchor="middle" font-size="4.5" font-weight="bold" textLength="6.0" lengthAdjust="spacingAndGlyphs" fill="#222">GLY</text><text x="953.5" y="75.3" text-anchor="middle" font-size="4.5" font-weight="bold" textLength="5.6" lengthAdjust="spacingAndGlyphs" fill="#222">216</text>
<path d="M0,10.6L5.26,4.62A7.0,7.0 0 1 0 -5.26,4.62Z" transform="translate(960.7,93.1) rotate(0)" fill="url(#rg_hyd)"/>
<text x="960.7" y="92.6" text-anchor="middle" font-size="4.5" font-weight="bold" textLength="6.0" lengthAdjust="spacingAndGlyphs" fill="#222">TYR</text><text x="960.7" y="97.4" text-anchor="middle" font-size="4.5" font-weight="bold" textLength="5.6" lengthAdjust="spacingAndGlyphs" fill="#222">215</text>
<path d="M0,10.6L5.26,4.62A7.0,7.0 0 1 0 -5.26,4.62Z" transform="translate(982.5,101.6) rotate(0)" fill="url(#rg_pol)"/>
<text x="982.5" y="101.1" text-anchor="middle" font-size="4.5" font-weight="bold" textLength="6.0" lengthAdjust="spacingAndGlyphs" fill="#222">SER</text><text x="982.5" y="105.9" text-anchor="middle" font-size="4.5" font-weight="bold" textLength="5.6" lengthAdjust="spacingAndGlyphs" fill="#222">214</text>
<path d="M0,10.6L5.26,4.62A7.0,7.0 0 1 0 -5.26,4.62Z" transform="translate(999.0,121.3) rotate(-90)" fill="url(#rg_hyd)"/>
<text x="999.0" y="120.8" text-anchor="middle" font-size="4.5" font-weight="bold" textLength="6.0" lengthAdjust="spacingAndGlyphs" fill="#222">VAL</text><text x="999.0" y="125.6" text-anchor="middle" font-size="4.5" font-weight="bold" textLength="5.6" lengthAdjust="spacingAndGlyphs" fill="#222">213</text>
<path d="M0,10.6L5.26,4.62A7.0,7.0 0 1 0 -5.26,4.62Z" transform="translate(926.5,69.4) rotate(-90)" fill="url(#rg_hyd)"/>
<text x="926.5" y="68.9" text-anchor="middle" font-size="4.5" font-weight="bold" textLength="6.0" lengthAdjust="spacingAndGlyphs" fill="#222">TYR</text><text x="926.5" y="73.7" text-anchor="middle" font-size="4.5" font-weight="bold" textLength="5.6" lengthAdjust="spacingAndGlyphs" fill="#222">174</text>
<path d="M0,10.6L5.26,4.62A7.0,7.0 0 1 0 -5.26,4.62Z" transform="translate(945.0,113.7) rotate(0)" fill="url(#rg_hyd)"/>
<text x="945.0" y="113.2" text-anchor="middle" font-size="4.5" font-weight="bold" textLength="6.0" lengthAdjust="spacingAndGlyphs" fill="#222">LEU</text><text x="945.0" y="118.0" text-anchor="middle" font-size="4.5" font-weight="bold" textLength="5.6" lengthAdjust="spacingAndGlyphs" fill="#222">172</text>
<path d="M0,10.6L5.26,4.62A7.0,7.0 0 1 0 -5.26,4.62Z" transform="translate(958.3,134.2) rotate(0)" fill="url(#rg_hyd)"/>
<text x="958.3" y="133.7" text-anchor="middle" font-size="4.5" font-weight="bold" textLength="6.0" lengthAdjust="spacingAndGlyphs" fill="#222">PHE</text><text x="958.3" y="138.5" text-anchor="middle" font-size="4.5" font-weight="bold" textLength="3.7" lengthAdjust="spacingAndGlyphs" fill="#222">99</text>
<path d="M0,10.6L5.26,4.62A7.0,7.0 0 1 0 -5.26,4.62Z" transform="translate(1012.9,143.5) rotate(60)" fill="url(#rg_pos)"/>
<text x="1012.9" y="143.0" text-anchor="middle" font-size="4.5" font-weight="bold" textLength="6.0" lengthAdjust="spacingAndGlyphs" fill="#222">ARG</text><text x="1012.9" y="147.8" text-anchor="middle" font-size="4.5" font-weight="bold" textLength="5.6" lengthAdjust="spacingAndGlyphs" fill="#222">226</text>
<path d="M0,10.6L5.26,4.62A7.0,7.0 0 1 0 -5.26,4.62Z" transform="translate(1017.5,165.6) rotate(0)" fill="url(#rg_pol)"/>
<text x="1017.5" y="165.1" text-anchor="middle" font-size="4.5" font-weight="bold" textLength="6.0" lengthAdjust="spacingAndGlyphs" fill="#222">SER</text><text x="1017.5" y="169.9" text-anchor="middle" font-size="4.5" font-weight="bold" textLength="5.6" lengthAdjust="spacingAndGlyphs" fill="#222">195</text>
<path d="M0,10.6L5.26,4.62A7.0,7.0 0 1 0 -5.26,4.62Z" transform="translate(1036.9,181.4) rotate(0)" fill="url(#rg_neg)"/>
<text x="1036.9" y="180.9" text-anchor="middle" font-size="4.5" font-weight="bold" textLength="6.0" lengthAdjust="spacingAndGlyphs" fill="#222">ASP</text><text x="1036.9" y="185.7" text-anchor="middle" font-size="4.5" font-weight="bold" textLength="5.6" lengthAdjust="spacingAndGlyphs" fill="#222">194</text>
<path d="M0,10.6L5.26,4.62A7.0,7.0 0 1 0 -5.26,4.62Z" transform="translate(1061.0,189.8) rotate(0)" fill="url(#rg_gly)"/>
<text x="1061.0" y="189.3" text-anchor="middle" font-size="4.5" font-weight="bold" textLength="6.0" lengthAdjust="spacingAndGlyphs" fill="#222">GLY</text><text x="1061.0" y="194.1" text-anchor="middle" font-size="4.5" font-weight="bold" textLength="5.6" lengthAdjust="spacingAndGlyphs" fill="#222">193</text>
<path d="M0,10.6L5.26,4.62A7.0,7.0 0 1 0 -5.26,4.62Z" transform="translate(1084.0,181.4) rotate(0)" fill="url(#rg_pos)"/>
<text x="1084.0" y="180.9" text-anchor="middle" font-size="4.5" font-weight="bold" textLength="6.0" lengthAdjust="spacingAndGlyphs" fill="#222">LYS</text><text x="1084.0" y="185.7" text-anchor="middle" font-size="4.5" font-weight="bold" textLength="5.6" lengthAdjust="spacingAndGlyphs" fill="#222">192</text>
<path d="M0,10.6L5.26,4.62A7.0,7.0 0 1 0 -5.26,4.62Z" transform="translate(1108.0,189.4) rotate(-60)" fill="url(#rg_hyd)"/>
<text x="1108.0" y="188.9" text-anchor="middle" font-size="4.5" font-weight="bold" textLength="6.0" lengthAdjust="spacingAndGlyphs" fill="#222">PHE</text><text x="1108.0" y="193.7" text-anchor="middle" font-size="4.5" font-weight="bold" textLength="5.6" lengthAdjust="spacingAndGlyphs" fill="#222">191</text>
<path d="M0,10.6L5.26,4.62A7.0,7.0 0 1 0 -5.26,4.62Z" transform="translate(1136.0,181.4) rotate(0)" fill="url(#rg_pol)"/>
<text x="1136.0" y="180.9" text-anchor="middle" font-size="4.5" font-weight="bold" textLength="6.0" lengthAdjust="spacingAndGlyphs" fill="#222">SER</text><text x="1136.0" y="185.7" text-anchor="middle" font-size="4.5" font-weight="bold" textLength="5.6" lengthAdjust="spacingAndGlyphs" fill="#222">190</text>
<path d="M0,10.6L5.26,4.62A7.0,7.0 0 1 0 -5.26,4.62Z" transform="translate(1142.0,76.2) rotate(0)" fill="url(#rg_pol)"/>
<text x="1142.0" y="75.7" text-anchor="middle" font-size="4.5" font-weight="bold" textLength="6.0" lengthAdjust="spacingAndGlyphs" fill="#222">HIS</text><text x="1142.0" y="80.5" text-anchor="middle" font-size="4.5" font-weight="bold" textLength="3.7" lengthAdjust="spacingAndGlyphs" fill="#222">57</text>
<path d="M0,10.6L5.26,4.62A7.0,7.0 0 1 0 -5.26,4.62Z" transform="translate(1161.3,90.7) rotate(0)" fill="url(#rg_pos)"/>
<text x="1161.3" y="90.2" text-anchor="middle" font-size="4.5" font-weight="bold" textLength="6.0" lengthAdjust="spacingAndGlyphs" fill="#222">LYS</text><text x="1161.3" y="95.0" text-anchor="middle" font-size="4.5" font-weight="bold" textLength="3.7" lengthAdjust="spacingAndGlyphs" fill="#222">40</text>
<path d="M0,10.6L5.26,4.62A7.0,7.0 0 1 0 -5.26,4.62Z" transform="translate(1179.5,107.6) rotate(0)" fill="url(#rg_pos)"/>
<text x="1179.5" y="107.1" text-anchor="middle" font-size="4.5" font-weight="bold" textLength="6.0" lengthAdjust="spacingAndGlyphs" fill="#222">ARG</text><text x="1179.5" y="111.9" text-anchor="middle" font-size="4.5" font-weight="bold" textLength="3.7" lengthAdjust="spacingAndGlyphs" fill="#222">41</text></g>
<g font-family='"Liberation Sans", sans-serif'><circle cx="40.8" cy="332.0" r="5" fill="url(#halo)"/>
<circle cx="106.2" cy="349.5" r="5" fill="url(#halo)"/>
<circle cx="235.7" cy="369.3" r="5" fill="url(#halo)"/>
<circle cx="247.3" cy="378.7" r="5" fill="url(#halo)"/>
<circle cx="231.0" cy="399.7" r="5" fill="url(#halo)"/>
<path d="M38.5,319.2C41.0,318.4 48.4,315.7 53.7,314.5C58.9,313.3 67.3,312.6 70.0,312.2" fill="none" stroke="url(#pg0_255_0)" stroke-width="3.1" stroke-linecap="round" stroke-opacity="0.9"/>
<path d="M70.0,312.2C75.1,312.8 91.4,313.9 100.3,315.7C109.3,317.4 116.7,319.4 123.7,322.7C130.7,326.0 139.2,333.4 142.3,335.5" fill="none" stroke="url(#pg0_255_1)" stroke-width="3.1" stroke-linecap="round" stroke-opacity="0.9"/>
<path d="M142.3,335.5C144.3,334.9 149.7,331.8 154.0,332.0C158.3,332.2 163.3,333.9 168.0,336.7C172.7,339.4 179.7,346.4 182.0,348.3" fill="none" stroke="url(#pg0_255_2)" stroke-width="3.1" stroke-linecap="round" stroke-opacity="0.9"/>
<path d="M182.0,348.3C183.9,349.1 189.8,352.0 193.7,353.0C197.6,354.0 203.4,354.0 205.3,354.2" fill="none" stroke="url(#pg0_255_3)" stroke-width="3.1" stroke-linecap="round" stroke-opacity="0.9"/>
<path d="M205.3,354.2C207.7,354.4 214.7,354.8 219.3,355.3C224.0,355.9 231.0,357.3 233.3,357.7" fill="none" stroke="url(#pg0_255_4)" stroke-width="3.1" stroke-linecap="round" stroke-opacity="0.9"/>
<path d="M35.0,341.3C38.1,343.3 47.1,347.9 53.7,353.0C60.3,358.1 71.2,368.6 74.7,371.7" fill="none" stroke="url(#pg0_255_5)" stroke-width="3.1" stroke-linecap="round" stroke-opacity="0.9"/>
<path d="M116.7,370.5L130.7,381.0" fill="none" stroke="url(#pg0_255_6)" stroke-width="3.1" stroke-linecap="round" stroke-opacity="0.9"/>
<path d="M130.7,381.0C132.2,382.9 136.5,389.9 140.0,392.7C143.5,395.4 146.6,397.3 151.7,397.3C156.7,397.3 164.9,394.2 170.3,392.7C175.8,391.1 180.1,388.0 184.3,388.0C188.6,388.0 192.9,392.1 196.0,392.7C199.1,393.3 201.8,391.7 203.0,391.5" fill="none" stroke="url(#pg0_255_7)" stroke-width="3.1" stroke-linecap="round" stroke-opacity="0.9"/>
<path d="M203.0,391.5C204.9,392.5 210.8,394.4 214.7,397.3C218.6,400.3 224.4,407.1 226.3,409.0" fill="none" stroke="url(#pg0_255_8)" stroke-width="3.1" stroke-linecap="round" stroke-opacity="0.9"/>
<path d="M65.3,292.3C62.2,293.3 52.7,296.0 46.7,298.2C40.6,300.3 33.8,302.6 29.2,305.2C24.5,307.7 21.6,310.4 18.7,313.3C15.8,316.3 12.6,319.2 11.7,322.7C10.7,326.2 12.3,330.6 12.8,334.3C13.4,338.0 14.8,343.1 15.2,344.8" fill="none" stroke="#161616" stroke-width="1.7"/>
<path d="M87.5,300.5C91.0,299.9 102.9,297.6 108.5,297.0C114.1,296.4 117.3,296.4 121.3,297.0C125.4,297.6 129.5,298.8 133.0,300.5C136.5,302.3 139.2,305.6 142.3,307.5C145.4,309.4 150.1,311.4 151.7,312.2" fill="none" stroke="#161616" stroke-width="1.7"/>
<path d="M98.0,393.8C101.7,393.4 115.3,390.3 120.2,391.5C125.0,392.7 125.0,397.7 127.2,400.8C129.3,403.9 128.9,408.0 133.0,410.2C137.1,412.3 145.1,413.7 151.7,413.7C158.3,413.7 169.2,410.8 172.7,410.2" fill="none" stroke="#161616" stroke-width="1.7"/>
<path d="M273.0,400.8L257.8,417.2" fill="none" stroke="#161616" stroke-width="1.7"/>
<path d="M40.8,332.0 L56.0,334.3 M56.0,334.3 L66.5,323.8 L80.5,330.8 L79.3,344.8 L63.0,347.2 L56.0,334.3 M80.5,330.8 L94.5,325.0 L106.2,334.3 L103.8,349.5 L88.7,356.5 L79.3,344.8 M88.7,356.5 L87.5,369.3 M106.2,334.3 L121.3,329.7 L131.8,337.8 L130.7,353.0 L116.7,358.8 M130.7,353.0 L142.3,362.3 M158.7,357.7 L159.8,342.5 M166.8,369.3 L183.2,362.3 L193.7,369.3 L192.5,385.7 M193.7,369.3 L210.0,367.0 L220.5,374.0 M58.7,334.1 L66.2,326.5 M83.1,331.6 L93.2,327.4 M104.2,336.2 L102.5,347.1 M86.8,358.1 L86.0,367.4 M128.1,352.2 L118.0,356.4 M191.8,371.5 L191.0,383.3 M145.7,364.1 L156.8,360.9 M164.0,370.8 L161.7,379.5 M151.5,383.4 L144.4,377.1 M142.3,362.3 L158.7,357.7 L166.8,369.3 L163.3,382.2 L151.7,386.8 L141.2,377.5Z M223.8,375.8 L233.3,372.6 M243.4,380.8 L242.6,391.9 M230.6,395.1 L222.7,389.6 M220.5,374.0 L234.5,369.3 L246.2,378.7 L245.0,395.0 L231.0,398.5 L219.3,390.3Z" fill="none" stroke="#2a2a2a" stroke-width="1.1" stroke-linejoin="round"/>
<line x1="133.0" y1="305.2" x2="132.1" y2="335.5" stroke="#a046cc" stroke-width="0.9" marker-end="url(#ahb)"/>
<line x1="183.2" y1="364.7" x2="175.5" y2="404.3" stroke="#a046cc" stroke-width="0.9" marker-end="url(#ahb)"/>
<line x1="126.0" y1="388.0" x2="154.0" y2="371.7" stroke="#e8463c" stroke-width="0.9"/><circle cx="154.0" cy="371.7" r="1.2" fill="#e8463c"/>
<rect x="91.5" y="321.8" width="6.0" height="6.4" rx="2" fill="#fff"/>
<text x="94.5" y="327.1" text-anchor="middle" font-size="6" fill="#3a44a8">N</text>
<rect x="76.3" y="341.6" width="6.0" height="6.4" rx="2" fill="#fff"/>
<text x="79.3" y="346.9" text-anchor="middle" font-size="6" fill="#3a44a8">N</text>
<rect x="60.0" y="344.0" width="6.0" height="6.4" rx="2" fill="#fff"/>
<text x="63.0" y="349.3" text-anchor="middle" font-size="6" fill="#e23a3a">O</text>
<rect x="84.5" y="366.1" width="6.0" height="6.4" rx="2" fill="#fff"/>
<text x="87.5" y="371.4" text-anchor="middle" font-size="6" fill="#e23a3a">O</text>
<rect x="128.8" y="334.6" width="6.0" height="6.4" rx="2" fill="#fff"/>
<text x="131.8" y="339.9" text-anchor="middle" font-size="6" fill="#e23a3a">O</text>
<rect x="113.7" y="355.6" width="6.0" height="6.4" rx="2" fill="#fff"/>
<text x="116.7" y="360.9" text-anchor="middle" font-size="6" fill="#e23a3a">O</text>
<rect x="180.2" y="359.1" width="6.0" height="6.4" rx="2" fill="#fff"/>
<text x="183.2" y="364.4" text-anchor="middle" font-size="6" fill="#3a44a8">N</text>
<text x="183.2" y="358.6" text-anchor="middle" font-size="6" fill="#3a44a8">H</text>
<rect x="189.5" y="382.5" width="6.0" height="6.4" rx="2" fill="#fff"/>
<text x="192.5" y="387.8" text-anchor="middle" font-size="6" fill="#e23a3a">O</text>
<path d="M0,10.6L5.26,4.62A7.0,7.0 0 1 0 -5.26,4.62Z" transform="translate(121.8,266.2) rotate(0)" fill="url(#rg_hyd)"/>
<text x="121.8" y="265.7" text-anchor="middle" font-size="4.5" font-weight="bold" textLength="6.0" lengthAdjust="spacingAndGlyphs" fill="#222">PHE</text><text x="121.8" y="270.5" text-anchor="middle" font-size="4.5" font-weight="bold" textLength="3.7" lengthAdjust="spacingAndGlyphs" fill="#222">99</text>
<path d="M0,10.6L5.26,4.62A7.0,7.0 0 1 0 -5.26,4.62Z" transform="translate(65.3,290.7) rotate(0)" fill="url(#rg_hyd)"/>
<text x="65.3" y="290.2" text-anchor="middle" font-size="4.5" font-weight="bold" textLength="6.0" lengthAdjust="spacingAndGlyphs" fill="#222">TYR</text><text x="65.3" y="295.0" text-anchor="middle" font-size="4.5" font-weight="bold" textLength="5.6" lengthAdjust="spacingAndGlyphs" fill="#222">174</text>
<path d="M0,10.6L5.26,4.62A7.0,7.0 0 1 0 -5.26,4.62Z" transform="translate(29.2,303.6) rotate(0)" fill="url(#rg_hyd)"/>
<text x="29.2" y="303.1" text-anchor="middle" font-size="4.5" font-weight="bold" textLength="6.0" lengthAdjust="spacingAndGlyphs" fill="#222">LEU</text><text x="29.2" y="307.9" text-anchor="middle" font-size="4.5" font-weight="bold" textLength="5.6" lengthAdjust="spacingAndGlyphs" fill="#222">172</text>
<path d="M0,10.6L5.26,4.62A7.0,7.0 0 1 0 -5.26,4.62Z" transform="translate(13.3,322.7) rotate(90)" fill="url(#rg_pos)"/>
<text x="13.3" y="322.2" text-anchor="middle" font-size="4.5" font-weight="bold" textLength="6.0" lengthAdjust="spacingAndGlyphs" fill="#222">ARG</text><text x="13.3" y="327.0" text-anchor="middle" font-size="4.5" font-weight="bold" textLength="7.4" lengthAdjust="spacingAndGlyphs" fill="#222">172A</text>
<path d="M0,10.6L5.26,4.62A7.0,7.0 0 1 0 -5.26,4.62Z" transform="translate(15.2,343.2) rotate(0)" fill="url(#rg_neg)"/>
<text x="15.2" y="342.7" text-anchor="middle" font-size="4.5" font-weight="bold" textLength="6.0" lengthAdjust="spacingAndGlyphs" fill="#222">ASP</text><text x="15.2" y="347.5" text-anchor="middle" font-size="4.5" font-weight="bold" textLength="5.6" lengthAdjust="spacingAndGlyphs" fill="#222">171</text>
<path d="M0,10.6L5.26,4.62A7.0,7.0 0 1 0 -5.26,4.62Z" transform="translate(87.5,298.9) rotate(0)" fill="url(#rg_pol)"/>
<text x="87.5" y="298.4" text-anchor="middle" font-size="4.5" font-weight="bold" textLength="6.0" lengthAdjust="spacingAndGlyphs" fill="#222">ASN</text><text x="87.5" y="303.2" text-anchor="middle" font-size="4.5" font-weight="bold" textLength="5.6" lengthAdjust="spacingAndGlyphs" fill="#222">218</text>
<path d="M0,10.6L5.26,4.62A7.0,7.0 0 1 0 -5.26,4.62Z" transform="translate(108.5,295.4) rotate(0)" fill="url(#rg_pos)"/>
<text x="108.5" y="294.9" text-anchor="middle" font-size="4.5" font-weight="bold" textLength="6.0" lengthAdjust="spacingAndGlyphs" fill="#222">ARG</text><text x="108.5" y="299.7" text-anchor="middle" font-size="4.5" font-weight="bold" textLength="5.6" lengthAdjust="spacingAndGlyphs" fill="#222">217</text>
<path d="M0,10.6L5.26,4.62A7.0,7.0 0 1 0 -5.26,4.62Z" transform="translate(133.0,298.9) rotate(0)" fill="url(#rg_gly)"/>
<text x="133.0" y="298.4" text-anchor="middle" font-size="4.5" font-weight="bold" textLength="6.0" lengthAdjust="spacingAndGlyphs" fill="#222">GLY</text><text x="133.0" y="303.2" text-anchor="middle" font-size="4.5" font-weight="bold" textLength="5.6" lengthAdjust="spacingAndGlyphs" fill="#222">216</text>
<path d="M0,10.6L5.26,4.62A7.0,7.0 0 1 0 -5.26,4.62Z" transform="translate(151.7,310.6) rotate(0)" fill="url(#rg_hyd)"/>
<text x="151.7" y="310.1" text-anchor="middle" font-size="4.5" font-weight="bold" textLength="6.0" lengthAdjust="spacingAndGlyphs" fill="#222">TYR</text><text x="151.7" y="314.9" text-anchor="middle" font-size="4.5" font-weight="bold" textLength="5.6" lengthAdjust="spacingAndGlyphs" fill="#222">215</text>
<path d="M0,10.6L5.26,4.62A7.0,7.0 0 1 0 -5.26,4.62Z" transform="translate(175.0,312.9) rotate(0)" fill="url(#rg_pol)"/>
<text x="175.0" y="312.4" text-anchor="middle" font-size="4.5" font-weight="bold" textLength="6.0" lengthAdjust="spacingAndGlyphs" fill="#222">HIS</text><text x="175.0" y="317.2" text-anchor="middle" font-size="4.5" font-weight="bold" textLength="3.7" lengthAdjust="spacingAndGlyphs" fill="#222">57</text>
<path d="M0,10.6L5.26,4.62A7.0,7.0 0 1 0 -5.26,4.62Z" transform="translate(98.0,392.2) rotate(0)" fill="url(#rg_hyd)"/>
<text x="98.0" y="391.7" text-anchor="middle" font-size="4.5" font-weight="bold" textLength="6.0" lengthAdjust="spacingAndGlyphs" fill="#222">PHE</text><text x="98.0" y="396.5" text-anchor="middle" font-size="4.5" font-weight="bold" textLength="5.6" lengthAdjust="spacingAndGlyphs" fill="#222">191</text>
<path d="M0,10.6L5.26,4.62A7.0,7.0 0 1 0 -5.26,4.62Z" transform="translate(121.6,390.7) rotate(60)" fill="url(#rg_pos)"/>
<text x="121.6" y="390.2" text-anchor="middle" font-size="4.5" font-weight="bold" textLength="6.0" lengthAdjust="spacingAndGlyphs" fill="#222">LYS</text><text x="121.6" y="395.0" text-anchor="middle" font-size="4.5" font-weight="bold" textLength="5.6" lengthAdjust="spacingAndGlyphs" fill="#222">192</text>
<path d="M0,10.6L5.26,4.62A7.0,7.0 0 1 0 -5.26,4.62Z" transform="translate(133.0,408.6) rotate(0)" fill="url(#rg_gly)"/>
<text x="133.0" y="408.1" text-anchor="middle" font-size="4.5" font-weight="bold" textLength="6.0" lengthAdjust="spacingAndGlyphs" fill="#222">GLY</text><text x="133.0" y="412.9" text-anchor="middle" font-size="4.5" font-weight="bold" textLength="5.6" lengthAdjust="spacingAndGlyphs" fill="#222">193</text>
<path d="M0,10.6L5.26,4.62A7.0,7.0 0 1 0 -5.26,4.62Z" transform="translate(172.7,408.6) rotate(0)" fill="url(#rg_pol)"/>
<text x="172.7" y="408.1" text-anchor="middle" font-size="4.5" font-weight="bold" textLength="6.0" lengthAdjust="spacingAndGlyphs" fill="#222">SER</text><text x="172.7" y="412.9" text-anchor="middle" font-size="4.5" font-weight="bold" textLength="5.6" lengthAdjust="spacingAndGlyphs" fill="#222">195</text>
<path d="M0,10.6L5.26,4.62A7.0,7.0 0 1 0 -5.26,4.62Z" transform="translate(138.8,431.9) rotate(0)" fill="url(#rg_pos)"/>
<text x="138.8" y="431.4" text-anchor="middle" font-size="4.5" font-weight="bold" textLength="6.0" lengthAdjust="spacingAndGlyphs" fill="#222">ARG</text><text x="138.8" y="436.2" text-anchor="middle" font-size="4.5" font-weight="bold" textLength="5.6" lengthAdjust="spacingAndGlyphs" fill="#222">226</text>
<path d="M0,10.6L5.26,4.62A7.0,7.0 0 1 0 -5.26,4.62Z" transform="translate(273.0,402.4) rotate(-180)" fill="url(#rg_pos)"/>
<text x="273.0" y="401.9" text-anchor="middle" font-size="4.5" font-weight="bold" textLength="6.0" lengthAdjust="spacingAndGlyphs" fill="#222">LYS</text><text x="273.0" y="406.7" text-anchor="middle" font-size="4.5" font-weight="bold" textLength="3.7" lengthAdjust="spacingAndGlyphs" fill="#222">40</text>
<path d="M0,10.6L5.26,4.62A7.0,7.0 0 1 0 -5.26,4.62Z" transform="translate(256.2,417.2) rotate(-90)" fill="url(#rg_pos)"/>
<text x="256.2" y="416.7" text-anchor="middle" font-size="4.5" font-weight="bold" textLength="6.0" lengthAdjust="spacingAndGlyphs" fill="#222">ARG</text><text x="256.2" y="421.5" text-anchor="middle" font-size="4.5" font-weight="bold" textLength="3.7" lengthAdjust="spacingAndGlyphs" fill="#222">41</text></g>
<g font-family='"Liberation Sans", sans-serif'><circle cx="387.5" cy="302.2" r="7" fill="url(#halo)"/>
<circle cx="375.8" cy="312.2" r="7" fill="url(#halo)"/>
<circle cx="378.2" cy="327.2" r="7" fill="url(#halo)"/>
<circle cx="342.5" cy="381.2" r="5" fill="url(#halo)"/>
<path d="M412.5,301.2C416.2,302.5 427.1,308.5 435.0,308.8C442.9,309.0 452.5,304.6 460.0,302.5C467.5,300.4 473.8,296.5 480.0,296.2C486.2,296.0 494.6,300.4 497.5,301.2" fill="none" stroke="url(#pg280_255_0)" stroke-width="3.1" stroke-linecap="round" stroke-opacity="0.9"/>
<path d="M497.5,301.2C501.2,301.7 513.3,301.5 520.0,303.8C526.7,306.0 534.6,310.6 537.5,315.0C540.4,319.4 537.5,327.5 537.5,330.0" fill="none" stroke="url(#pg280_255_1)" stroke-width="3.1" stroke-linecap="round" stroke-opacity="0.9"/>
<path d="M537.5,330.0C535.8,332.1 531.7,339.4 527.5,342.5C523.3,345.6 517.1,348.5 512.5,348.8C507.9,349.0 502.9,345.4 500.0,343.8C497.1,342.1 495.8,339.6 495.0,338.8" fill="none" stroke="url(#pg280_255_2)" stroke-width="3.1" stroke-linecap="round" stroke-opacity="0.9"/>
<path d="M495.0,338.8C491.7,339.2 481.7,339.8 475.0,341.2C468.3,342.7 458.3,346.5 455.0,347.5" fill="none" stroke="url(#pg280_255_3)" stroke-width="3.1" stroke-linecap="round" stroke-opacity="0.9"/>
<path d="M455.0,347.5L440.0,357.5" fill="none" stroke="url(#pg280_255_4)" stroke-width="3.1" stroke-linecap="round" stroke-opacity="0.9"/>
<path d="M440.0,357.5C438.3,360.0 432.5,367.1 430.0,372.5C427.5,377.9 425.8,387.1 425.0,390.0" fill="none" stroke="url(#pg280_255_5)" stroke-width="3.1" stroke-linecap="round" stroke-opacity="0.9"/>
<path d="M425.0,390.0C423.3,392.5 420.0,401.2 415.0,405.0C410.0,408.8 401.7,410.8 395.0,412.5C388.3,414.2 381.7,415.0 375.0,415.0C368.3,415.0 359.8,415.8 355.0,412.5C350.2,409.2 347.7,397.9 346.2,395.0" fill="none" stroke="url(#pg280_255_6)" stroke-width="3.1" stroke-linecap="round" stroke-opacity="0.9"/>
<path d="M372.5,335.0C372.7,337.3 375.4,346.7 373.8,348.8C372.1,350.8 367.3,348.5 362.5,347.5C357.7,346.5 351.2,342.5 345.0,342.5C338.8,342.5 330.0,344.2 325.0,347.5C320.0,350.8 316.5,357.1 315.0,362.5C313.5,367.9 316.0,377.1 316.2,380.0" fill="none" stroke="url(#pg280_255_7)" stroke-width="3.1" stroke-linecap="round" stroke-opacity="0.9"/>
<path d="M458.8,280.0C460.8,279.8 467.1,279.4 471.2,278.8C475.4,278.1 479.8,276.0 483.8,276.2C487.7,276.5 491.2,278.3 495.0,280.0C498.8,281.7 500.2,284.6 506.2,286.2C512.3,287.9 525.2,289.0 531.2,290.0C537.3,291.0 539.2,290.8 542.5,292.5C545.8,294.2 549.0,297.1 551.2,300.0C553.5,302.9 555.2,306.5 556.2,310.0C557.3,313.5 557.3,319.4 557.5,321.2" fill="none" stroke="#161616" stroke-width="1.7"/>
<path d="M298.8,383.8L331.2,410.0" fill="none" stroke="#161616" stroke-width="1.7"/>
<path d="M478.8,362.5C475.8,364.6 466.0,371.7 461.2,375.0C456.5,378.3 453.3,380.0 450.0,382.5C446.7,385.0 443.1,386.7 441.2,390.0C439.4,393.3 439.4,398.5 438.8,402.5C438.1,406.5 439.4,410.4 437.5,413.8C435.6,417.1 430.8,420.6 427.5,422.5C424.2,424.4 421.2,423.8 417.5,425.0C413.8,426.2 408.5,429.0 405.0,430.0C401.5,431.0 397.7,431.0 396.2,431.2" fill="none" stroke="#161616" stroke-width="1.7"/>
<path d="M404.2,323.0 L419.2,328.0 M419.2,328.0 L431.8,319.2 L443.2,328.8 L438.0,343.2 L422.5,343.2 L419.2,328.0 M443.2,328.8 L460.5,324.5 M487.0,318.0 L501.2,312.5 L513.8,321.2 L527.5,318.8 M513.8,321.2 L508.8,336.2 M422.5,343.2 L413.2,354.2 L398.0,352.5 M413.2,354.2 L417.5,370.0 L410.0,380.0 M410.0,380.0 L395.0,377.5 L390.0,395.0 L400.0,403.8 L412.5,395.0 L410.0,380.0 M395.0,377.5 L381.2,370.0 L368.8,378.8 L372.5,393.8 L390.0,395.0 M381.2,370.0 L382.5,355.0 M372.5,393.8 L363.8,405.0 M368.8,378.8 L352.5,373.0 M440.9,330.2 L437.1,340.6 M411.3,352.3 L400.3,351.1 M400.8,401.1 L409.8,394.8 M383.1,368.0 L384.0,357.2 M369.9,394.3 L363.6,402.4 M400.5,322.4 L392.6,328.8 M380.5,324.1 L378.9,314.1 M389.0,306.0 L398.5,309.6 M404.0,322.9 L392.3,332.3 L378.3,326.9 L376.0,312.1 L387.7,302.7 L401.7,308.1Z M484.1,319.3 L481.7,328.2 M470.3,331.3 L463.7,324.7 M466.8,313.2 L475.8,310.8 M487.0,317.7 L483.5,331.0 L470.2,334.5 L460.5,324.8 L464.0,311.5 L477.3,308.0Z M348.8,373.5 L342.2,380.1 M330.7,376.9 L328.3,367.9 M336.8,359.6 L345.7,362.0 M352.0,373.6 L342.3,383.3 L329.0,379.7 L325.5,366.4 L335.2,356.7 L348.5,360.3Z" fill="none" stroke="#2a2a2a" stroke-width="1.1" stroke-linejoin="round"/>
<line x1="331.2" y1="402.5" x2="340.0" y2="368.8" stroke="#3aa04a" stroke-width="0.9"/><circle cx="340.0" cy="368.8" r="1.2" fill="#3aa04a"/><circle cx="331.2" cy="402.5" r="1.2" fill="#3aa04a"/>
<line x1="395.0" y1="427.5" x2="365.5" y2="407.0" stroke="#a046cc" stroke-width="0.9" marker-end="url(#ahb)"/>
<line x1="520.5" y1="274.5" x2="503.2" y2="310.5" stroke="#a046cc" stroke-width="0.9" marker-end="url(#ahb)"/>
<rect x="419.5" y="340.1" width="6.0" height="6.4" rx="2" fill="#fff"/>
<text x="422.5" y="345.4" text-anchor="middle" font-size="6" fill="#3a44a8">N</text>
<rect x="435.0" y="340.1" width="6.0" height="6.4" rx="2" fill="#fff"/>
<text x="438.0" y="345.4" text-anchor="middle" font-size="6" fill="#3a44a8">N</text>
<rect x="395.0" y="349.3" width="6.0" height="6.4" rx="2" fill="#fff"/>
<text x="398.0" y="354.6" text-anchor="middle" font-size="6" fill="#e23a3a">O</text>
<rect x="407.0" y="376.8" width="6.0" height="6.4" rx="2" fill="#fff"/>
<text x="410.0" y="382.1" text-anchor="middle" font-size="6" fill="#3a44a8">N</text>
<rect x="409.5" y="391.8" width="6.0" height="6.4" rx="2" fill="#fff"/>
<text x="412.5" y="397.1" text-anchor="middle" font-size="6" fill="#3a44a8">N</text>
<rect x="397.0" y="400.6" width="6.0" height="6.4" rx="2" fill="#fff"/>
<text x="400.0" y="405.9" text-anchor="middle" font-size="6" fill="#3a44a8">N</text>
<rect x="379.5" y="351.8" width="6.0" height="6.4" rx="2" fill="#fff"/>
<text x="382.5" y="357.1" text-anchor="middle" font-size="6" fill="#e23a3a">O</text>
<rect x="365.8" y="375.6" width="6.0" height="6.4" rx="2" fill="#fff"/>
<text x="368.8" y="380.9" text-anchor="middle" font-size="6" fill="#3a44a8">N</text>
<rect x="360.8" y="401.8" width="6.0" height="6.4" rx="2" fill="#fff"/>
<text x="363.8" y="407.1" text-anchor="middle" font-size="6" fill="#e23a3a">O</text>
<rect x="498.2" y="309.3" width="6.0" height="6.4" rx="2" fill="#fff"/>
<text x="501.2" y="314.6" text-anchor="middle" font-size="6" fill="#e23a3a">O</text>
<rect x="524.5" y="315.6" width="6.0" height="6.4" rx="2" fill="#fff"/>
<text x="527.5" y="320.9" text-anchor="middle" font-size="6" fill="#48c048">F</text>
<rect x="505.8" y="333.1" width="6.0" height="6.4" rx="2" fill="#fff"/>
<text x="508.8" y="338.4" text-anchor="middle" font-size="6" fill="#48c048">F</text>
<path d="M0,10.6L5.26,4.62A7.0,7.0 0 1 0 -5.26,4.62Z" transform="translate(522.5,265.9) rotate(0)" fill="url(#rg_pos)"/>
<text x="522.5" y="265.4" text-anchor="middle" font-size="4.5" font-weight="bold" textLength="6.0" lengthAdjust="spacingAndGlyphs" fill="#222">ARG</text><text x="522.5" y="270.2" text-anchor="middle" font-size="4.5" font-weight="bold" textLength="5.6" lengthAdjust="spacingAndGlyphs" fill="#222">226</text>
<path d="M0,10.6L5.26,4.62A7.0,7.0 0 1 0 -5.26,4.62Z" transform="translate(458.8,278.4) rotate(0)" fill="url(#rg_pol)"/>
<text x="458.8" y="277.9" text-anchor="middle" font-size="4.5" font-weight="bold" textLength="6.0" lengthAdjust="spacingAndGlyphs" fill="#222">SER</text><text x="458.8" y="282.7" text-anchor="middle" font-size="4.5" font-weight="bold" textLength="5.6" lengthAdjust="spacingAndGlyphs" fill="#222">195</text>
<path d="M0,10.6L5.26,4.62A7.0,7.0 0 1 0 -5.26,4.62Z" transform="translate(483.8,274.6) rotate(0)" fill="url(#rg_neg)"/>
<text x="483.8" y="274.1" text-anchor="middle" font-size="4.5" font-weight="bold" textLength="6.0" lengthAdjust="spacingAndGlyphs" fill="#222">ASP</text><text x="483.8" y="278.9" text-anchor="middle" font-size="4.5" font-weight="bold" textLength="5.6" lengthAdjust="spacingAndGlyphs" fill="#222">194</text>
<path d="M0,10.6L5.26,4.62A7.0,7.0 0 1 0 -5.26,4.62Z" transform="translate(506.2,284.6) rotate(0)" fill="url(#rg_gly)"/>
<text x="506.2" y="284.1" text-anchor="middle" font-size="4.5" font-weight="bold" textLength="6.0" lengthAdjust="spacingAndGlyphs" fill="#222">GLY</text><text x="506.2" y="288.9" text-anchor="middle" font-size="4.5" font-weight="bold" textLength="5.6" lengthAdjust="spacingAndGlyphs" fill="#222">193</text>
<path d="M0,10.6L5.26,4.62A7.0,7.0 0 1 0 -5.26,4.62Z" transform="translate(531.2,288.4) rotate(0)" fill="url(#rg_pos)"/>
<text x="531.2" y="287.9" text-anchor="middle" font-size="4.5" font-weight="bold" textLength="6.0" lengthAdjust="spacingAndGlyphs" fill="#222">LYS</text><text x="531.2" y="292.7" text-anchor="middle" font-size="4.5" font-weight="bold" textLength="5.6" lengthAdjust="spacingAndGlyphs" fill="#222">192</text>
<path d="M0,10.6L5.26,4.62A7.0,7.0 0 1 0 -5.26,4.62Z" transform="translate(549.6,300.0) rotate(-90)" fill="url(#rg_hyd)"/>
<text x="549.6" y="299.5" text-anchor="middle" font-size="4.5" font-weight="bold" textLength="6.0" lengthAdjust="spacingAndGlyphs" fill="#222">PHE</text><text x="549.6" y="304.3" text-anchor="middle" font-size="4.5" font-weight="bold" textLength="5.6" lengthAdjust="spacingAndGlyphs" fill="#222">191</text>
<path d="M0,10.6L5.26,4.62A7.0,7.0 0 1 0 -5.26,4.62Z" transform="translate(559.1,321.2) rotate(90)" fill="url(#rg_pol)"/>
<text x="559.1" y="320.8" text-anchor="middle" font-size="4.5" font-weight="bold" textLength="6.0" lengthAdjust="spacingAndGlyphs" fill="#222">SER</text><text x="559.1" y="325.6" text-anchor="middle" font-size="4.5" font-weight="bold" textLength="5.6" lengthAdjust="spacingAndGlyphs" fill="#222">190</text>
<path d="M0,10.6L5.26,4.62A7.0,7.0 0 1 0 -5.26,4.62Z" transform="translate(435.0,288.4) rotate(0)" fill="url(#rg_pol)"/>
<text x="435.0" y="287.9" text-anchor="middle" font-size="4.5" font-weight="bold" textLength="6.0" lengthAdjust="spacingAndGlyphs" fill="#222">HIS</text><text x="435.0" y="292.7" text-anchor="middle" font-size="4.5" font-weight="bold" textLength="3.7" lengthAdjust="spacingAndGlyphs" fill="#222">57</text>
<path d="M0,10.6L5.26,4.62A7.0,7.0 0 1 0 -5.26,4.62Z" transform="translate(347.5,319.6) rotate(0)" fill="url(#rg_hyd)"/>
<text x="347.5" y="319.1" text-anchor="middle" font-size="4.5" font-weight="bold" textLength="6.0" lengthAdjust="spacingAndGlyphs" fill="#222">PHE</text><text x="347.5" y="323.9" text-anchor="middle" font-size="4.5" font-weight="bold" textLength="3.7" lengthAdjust="spacingAndGlyphs" fill="#222">99</text>
<path d="M0,10.6L5.26,4.62A7.0,7.0 0 1 0 -5.26,4.62Z" transform="translate(298.8,382.1) rotate(0)" fill="url(#rg_hyd)"/>
<text x="298.8" y="381.6" text-anchor="middle" font-size="4.5" font-weight="bold" textLength="6.0" lengthAdjust="spacingAndGlyphs" fill="#222">LEU</text><text x="298.8" y="386.4" text-anchor="middle" font-size="4.5" font-weight="bold" textLength="5.6" lengthAdjust="spacingAndGlyphs" fill="#222">172</text>
<path d="M0,10.6L5.26,4.62A7.0,7.0 0 1 0 -5.26,4.62Z" transform="translate(331.2,408.4) rotate(0)" fill="url(#rg_hyd)"/>
<text x="331.2" y="407.9" text-anchor="middle" font-size="4.5" font-weight="bold" textLength="6.0" lengthAdjust="spacingAndGlyphs" fill="#222">TYR</text><text x="331.2" y="412.7" text-anchor="middle" font-size="4.5" font-weight="bold" textLength="5.6" lengthAdjust="spacingAndGlyphs" fill="#222">174</text>
<path d="M0,10.6L5.26,4.62A7.0,7.0 0 1 0 -5.26,4.62Z" transform="translate(478.8,360.9) rotate(0)" fill="url(#rg_hyd)"/>
<text x="478.8" y="360.4" text-anchor="middle" font-size="4.5" font-weight="bold" textLength="6.0" lengthAdjust="spacingAndGlyphs" fill="#222">VAL</text><text x="478.8" y="365.2" text-anchor="middle" font-size="4.5" font-weight="bold" textLength="5.6" lengthAdjust="spacingAndGlyphs" fill="#222">213</text>
<path d="M0,10.6L5.26,4.62A7.0,7.0 0 1 0 -5.26,4.62Z" transform="translate(461.2,373.4) rotate(0)" fill="url(#rg_pol)"/>
<text x="461.2" y="372.9" text-anchor="middle" font-size="4.5" font-weight="bold" textLength="6.0" lengthAdjust="spacingAndGlyphs" fill="#222">SER</text><text x="461.2" y="377.7" text-anchor="middle" font-size="4.5" font-weight="bold" textLength="5.6" lengthAdjust="spacingAndGlyphs" fill="#222">214</text>
<path d="M0,10.6L5.26,4.62A7.0,7.0 0 1 0 -5.26,4.62Z" transform="translate(441.2,388.4) rotate(0)" fill="url(#rg_hyd)"/>
<text x="441.2" y="387.9" text-anchor="middle" font-size="4.5" font-weight="bold" textLength="6.0" lengthAdjust="spacingAndGlyphs" fill="#222">TYR</text><text x="441.2" y="392.7" text-anchor="middle" font-size="4.5" font-weight="bold" textLength="5.6" lengthAdjust="spacingAndGlyphs" fill="#222">215</text>
<path d="M0,10.6L5.26,4.62A7.0,7.0 0 1 0 -5.26,4.62Z" transform="translate(437.5,412.1) rotate(0)" fill="url(#rg_gly)"/>
<text x="437.5" y="411.6" text-anchor="middle" font-size="4.5" font-weight="bold" textLength="6.0" lengthAdjust="spacingAndGlyphs" fill="#222">GLY</text><text x="437.5" y="416.4" text-anchor="middle" font-size="4.5" font-weight="bold" textLength="5.6" lengthAdjust="spacingAndGlyphs" fill="#222">216</text>
<path d="M0,10.6L5.26,4.62A7.0,7.0 0 1 0 -5.26,4.62Z" transform="translate(416.7,423.6) rotate(-30)" fill="url(#rg_pos)"/>
<text x="416.7" y="423.1" text-anchor="middle" font-size="4.5" font-weight="bold" textLength="6.0" lengthAdjust="spacingAndGlyphs" fill="#222">ARG</text><text x="416.7" y="427.9" text-anchor="middle" font-size="4.5" font-weight="bold" textLength="5.6" lengthAdjust="spacingAndGlyphs" fill="#222">217</text>
<path d="M0,10.6L5.26,4.62A7.0,7.0 0 1 0 -5.26,4.62Z" transform="translate(396.2,429.6) rotate(0)" fill="url(#rg_pol)"/>
<text x="396.2" y="429.1" text-anchor="middle" font-size="4.5" font-weight="bold" textLength="6.0" lengthAdjust="spacingAndGlyphs" fill="#222">ASN</text><text x="396.2" y="433.9" text-anchor="middle" font-size="4.5" font-weight="bold" textLength="5.6" lengthAdjust="spacingAndGlyphs" fill="#222">218</text></g>
<g font-family='"Liberation Sans", sans-serif'><circle cx="715.3" cy="332.1" r="5" fill="url(#halo)"/>
<circle cx="696.0" cy="336.3" r="5" fill="url(#halo)"/>
<circle cx="840.4" cy="356.9" r="5" fill="url(#halo)"/>
<circle cx="868.7" cy="366.0" r="12" fill="url(#halo)"/>
<path d="M638.3,352.8C634.6,350.0 620.8,342.2 616.3,336.3C611.7,330.3 608.5,322.0 610.8,317.0C613.0,312.0 624.5,308.1 630.0,306.0C635.5,303.9 641.5,304.9 643.8,304.6" fill="none" stroke="url(#pg575_262_0)" stroke-width="3.1" stroke-linecap="round" stroke-opacity="0.9"/>
<path d="M643.8,304.6C648.3,304.4 662.1,302.3 671.3,303.3C680.4,304.2 691.0,307.4 698.8,310.1C706.6,312.9 714.8,318.2 718.0,319.8" fill="none" stroke="url(#pg575_262_1)" stroke-width="3.1" stroke-linecap="round" stroke-opacity="0.9"/>
<path d="M718.0,319.8C722.6,318.8 738.2,313.6 745.5,314.3C752.9,314.9 757.9,321.6 762.0,323.9C766.1,326.2 767.1,329.2 770.3,328.0C773.5,326.9 779.4,318.8 781.3,317.0" fill="none" stroke="url(#pg575_262_2)" stroke-width="3.1" stroke-linecap="round" stroke-opacity="0.9"/>
<path d="M781.3,317.0C783.6,315.2 790.0,308.8 795.0,306.0C800.1,303.3 806.0,301.2 811.5,300.5C817.0,299.8 825.3,301.6 828.0,301.9" fill="none" stroke="url(#pg575_262_3)" stroke-width="3.1" stroke-linecap="round" stroke-opacity="0.9"/>
<path d="M828.0,301.9L852.8,308.8" fill="none" stroke="url(#pg575_262_4)" stroke-width="3.1" stroke-linecap="round" stroke-opacity="0.9"/>
<path d="M704.3,361.0C707.9,361.0 720.3,358.7 726.3,361.0C732.2,363.3 735.4,369.7 740.0,374.8C744.6,379.8 748.7,387.1 753.8,391.3C758.8,395.4 767.5,398.1 770.3,399.5" fill="none" stroke="url(#pg575_262_5)" stroke-width="3.1" stroke-linecap="round" stroke-opacity="0.9"/>
<path d="M770.3,399.5C773.0,399.1 782.2,399.5 786.8,396.8C791.4,394.0 795.5,389.0 797.8,383.0C800.1,377.1 798.7,365.6 800.5,361.0C802.4,356.4 807.4,356.4 808.8,355.5" fill="none" stroke="url(#pg575_262_6)" stroke-width="3.1" stroke-linecap="round" stroke-opacity="0.9"/>
<path d="M808.8,355.5C811.1,356.0 818.4,356.4 822.5,358.3C826.7,360.1 831.7,365.1 833.5,366.5" fill="none" stroke="url(#pg575_262_7)" stroke-width="3.1" stroke-linecap="round" stroke-opacity="0.9"/>
<path d="M636.9,289.5C633.0,290.4 620.8,292.3 613.5,295.0C606.2,297.8 597.0,301.6 592.9,306.0C588.8,310.4 588.8,316.1 588.8,321.1C588.8,326.2 592.2,333.7 592.9,336.3" fill="none" stroke="#161616" stroke-width="1.7"/>
<path d="M843.2,285.4L872.0,295.0" fill="none" stroke="#161616" stroke-width="1.7"/>
<path d="M631.4,373.4C632.1,375.9 633.2,384.6 635.5,388.5C637.8,392.4 641.5,393.6 645.1,396.8C648.8,400.0 652.9,405.7 657.5,407.8C662.1,409.8 667.1,410.1 672.6,409.1C678.1,408.2 685.9,404.1 690.5,402.3C695.1,400.4 696.5,398.6 700.1,398.1C703.8,397.7 707.0,398.4 712.5,399.5C718.0,400.7 729.7,404.1 733.1,405.0" fill="none" stroke="#161616" stroke-width="1.7"/>
<path d="M755.1,421.5C759.5,421.3 773.7,420.6 781.3,420.1C788.8,419.7 796.2,420.4 800.5,418.8C804.9,417.2 805.6,413.7 807.4,410.5C809.2,407.3 809.9,403.4 811.5,399.5C813.1,395.6 813.8,389.4 817.0,387.1C820.2,384.8 826.4,385.5 830.8,385.8C835.1,386.0 838.6,386.7 843.2,388.5C847.7,390.3 853.5,394.9 858.3,396.8C863.1,398.6 869.7,399.1 872.0,399.5" fill="none" stroke="#161616" stroke-width="1.7"/>
<path d="M624.5,321.1 L641.0,326.6 M641.0,326.6 L654.8,318.4 L668.5,328.0 L663.0,344.5 L646.0,344.5 L641.0,326.6 M668.5,328.0 L686.4,323.9 L697.4,336.3 L693.3,354.1 L675.4,359.6 L663.0,344.5 M675.4,359.6 L669.9,374.8 M697.4,336.3 L716.6,334.9 L727.6,345.9 L746.9,341.8 L751.0,326.6 M746.9,341.8 L756.5,356.9 M777.1,352.8 L778.5,336.3 L800.5,333.5 L810.1,345.9 M800.5,333.5 L803.3,314.3 L821.1,311.5 L833.5,325.3 M856.9,352.8 L869.3,365.1 M643.8,326.9 L653.7,321.0 M671.4,329.1 L684.3,326.1 M695.2,338.4 L692.2,351.2 M673.0,361.2 L669.1,372.1 M749.1,340.1 L752.1,329.2 M800.5,336.3 L807.5,345.2 M760.4,359.3 L774.4,356.5 M782.8,368.3 L778.2,379.5 M763.9,383.0 L756.4,374.6 M756.5,356.9 L777.1,352.8 L786.8,366.5 L779.9,383.0 L763.4,387.1 L752.4,374.8Z M837.1,327.9 L850.2,326.0 M858.7,337.9 L854.9,349.1 M839.6,352.4 L832.2,342.1 M833.5,325.3 L852.8,322.5 L862.4,336.3 L856.9,352.8 L839.0,356.9 L828.0,341.8Z" fill="none" stroke="#2a2a2a" stroke-width="1.1" stroke-linejoin="round"/>
<line x1="641.0" y1="374.8" x2="666.6" y2="374.8" stroke="#a046cc" stroke-width="0.9" marker-end="url(#ahb)"/>
<line x1="815.6" y1="378.9" x2="810.7" y2="349.5" stroke="#a046cc" stroke-width="0.9" marker-end="url(#ahb)"/>
<line x1="803.3" y1="405.0" x2="768.9" y2="370.6" stroke="#e8463c" stroke-width="0.9"/><circle cx="768.9" cy="370.6" r="1.2" fill="#e8463c"/>
<rect x="643.0" y="341.3" width="6.0" height="6.4" rx="2" fill="#fff"/>
<text x="646.0" y="346.6" text-anchor="middle" font-size="6" fill="#e23a3a">O</text>
<rect x="660.0" y="341.3" width="6.0" height="6.4" rx="2" fill="#fff"/>
<text x="663.0" y="346.6" text-anchor="middle" font-size="6" fill="#3a44a8">N</text>
<rect x="683.4" y="320.7" width="6.0" height="6.4" rx="2" fill="#fff"/>
<text x="686.4" y="326.0" text-anchor="middle" font-size="6" fill="#3a44a8">N</text>
<rect x="666.9" y="371.6" width="6.0" height="6.4" rx="2" fill="#fff"/>
<text x="669.9" y="376.9" text-anchor="middle" font-size="6" fill="#e23a3a">O</text>
<rect x="724.6" y="342.7" width="6.0" height="6.4" rx="2" fill="#fff"/>
<text x="727.6" y="348.0" text-anchor="middle" font-size="6" fill="#e23a3a">O</text>
<rect x="748.0" y="323.4" width="6.0" height="6.4" rx="2" fill="#fff"/>
<text x="751.0" y="328.7" text-anchor="middle" font-size="6" fill="#e23a3a">O</text>
<rect x="773.7" y="333.1" width="9.6" height="6.4" rx="2" fill="#fff"/>
<text x="778.5" y="338.4" text-anchor="middle" font-size="6" fill="#3a44a8">HN</text>
<rect x="807.1" y="342.7" width="6.0" height="6.4" rx="2" fill="#fff"/>
<text x="810.1" y="348.0" text-anchor="middle" font-size="6" fill="#e23a3a">O</text>
<rect x="818.1" y="308.3" width="6.0" height="6.4" rx="2" fill="#fff"/>
<text x="821.1" y="313.6" text-anchor="middle" font-size="6" fill="#e23a3a">O</text>
<rect x="864.5" y="361.9" width="9.6" height="6.4" rx="2" fill="#fff"/>
<text x="869.3" y="367.2" text-anchor="middle" font-size="6" fill="#48c048">Cl</text>
<path d="M0,10.6L5.26,4.62A7.0,7.0 0 1 0 -5.26,4.62Z" transform="translate(636.9,287.9) rotate(0)" fill="url(#rg_hyd)"/>
<text x="636.9" y="287.4" text-anchor="middle" font-size="4.5" font-weight="bold" textLength="6.0" lengthAdjust="spacingAndGlyphs" fill="#222">TYR</text><text x="636.9" y="292.2" text-anchor="middle" font-size="4.5" font-weight="bold" textLength="5.6" lengthAdjust="spacingAndGlyphs" fill="#222">174</text>
<path d="M0,10.6L5.26,4.62A7.0,7.0 0 1 0 -5.26,4.62Z" transform="translate(592.9,304.4) rotate(0)" fill="url(#rg_hyd)"/>
<text x="592.9" y="303.9" text-anchor="middle" font-size="4.5" font-weight="bold" textLength="6.0" lengthAdjust="spacingAndGlyphs" fill="#222">LEU</text><text x="592.9" y="308.7" text-anchor="middle" font-size="4.5" font-weight="bold" textLength="5.6" lengthAdjust="spacingAndGlyphs" fill="#222">172</text>
<path d="M0,10.6L5.26,4.62A7.0,7.0 0 1 0 -5.26,4.62Z" transform="translate(592.9,334.7) rotate(0)" fill="url(#rg_neg)"/>
<text x="592.9" y="334.2" text-anchor="middle" font-size="4.5" font-weight="bold" textLength="6.0" lengthAdjust="spacingAndGlyphs" fill="#222">ASP</text><text x="592.9" y="339.0" text-anchor="middle" font-size="4.5" font-weight="bold" textLength="5.6" lengthAdjust="spacingAndGlyphs" fill="#222">171</text>
<path d="M0,10.6L5.26,4.62A7.0,7.0 0 1 0 -5.26,4.62Z" transform="translate(705.6,293.4) rotate(0)" fill="url(#rg_hyd)"/>
<text x="705.6" y="292.9" text-anchor="middle" font-size="4.5" font-weight="bold" textLength="6.0" lengthAdjust="spacingAndGlyphs" fill="#222">PHE</text><text x="705.6" y="297.7" text-anchor="middle" font-size="4.5" font-weight="bold" textLength="3.7" lengthAdjust="spacingAndGlyphs" fill="#222">99</text>
<path d="M0,10.6L5.26,4.62A7.0,7.0 0 1 0 -5.26,4.62Z" transform="translate(782.6,286.5) rotate(0)" fill="url(#rg_pol)"/>
<text x="782.6" y="286.0" text-anchor="middle" font-size="4.5" font-weight="bold" textLength="6.0" lengthAdjust="spacingAndGlyphs" fill="#222">HIS</text><text x="782.6" y="290.8" text-anchor="middle" font-size="4.5" font-weight="bold" textLength="3.7" lengthAdjust="spacingAndGlyphs" fill="#222">57</text>
<path d="M0,10.6L5.26,4.62A7.0,7.0 0 1 0 -5.26,4.62Z" transform="translate(843.2,283.8) rotate(0)" fill="url(#rg_pos)"/>
<text x="843.2" y="283.3" text-anchor="middle" font-size="4.5" font-weight="bold" textLength="6.0" lengthAdjust="spacingAndGlyphs" fill="#222">LYS</text><text x="843.2" y="288.1" text-anchor="middle" font-size="4.5" font-weight="bold" textLength="3.7" lengthAdjust="spacingAndGlyphs" fill="#222">40</text>
<path d="M0,10.6L5.26,4.62A7.0,7.0 0 1 0 -5.26,4.62Z" transform="translate(872.0,293.4) rotate(0)" fill="url(#rg_pos)"/>
<text x="872.0" y="292.9" text-anchor="middle" font-size="4.5" font-weight="bold" textLength="6.0" lengthAdjust="spacingAndGlyphs" fill="#222">ARG</text><text x="872.0" y="297.7" text-anchor="middle" font-size="4.5" font-weight="bold" textLength="3.7" lengthAdjust="spacingAndGlyphs" fill="#222">41</text>
<path d="M0,10.6L5.26,4.62A7.0,7.0 0 1 0 -5.26,4.62Z" transform="translate(900.9,374.5) rotate(0)" fill="url(#rg_pol)"/>
<text x="900.9" y="374.0" text-anchor="middle" font-size="4.5" font-weight="bold" textLength="6.0" lengthAdjust="spacingAndGlyphs" fill="#222">GLN</text><text x="900.9" y="378.8" text-anchor="middle" font-size="4.5" font-weight="bold" textLength="5.6" lengthAdjust="spacingAndGlyphs" fill="#222">143</text>
<path d="M0,10.6L5.26,4.62A7.0,7.0 0 1 0 -5.26,4.62Z" transform="translate(632.9,372.8) rotate(70)" fill="url(#rg_pol)"/>
<text x="632.9" y="372.3" text-anchor="middle" font-size="4.5" font-weight="bold" textLength="6.0" lengthAdjust="spacingAndGlyphs" fill="#222">ASN</text><text x="632.9" y="377.1" text-anchor="middle" font-size="4.5" font-weight="bold" textLength="5.6" lengthAdjust="spacingAndGlyphs" fill="#222">218</text>
<path d="M0,10.6L5.26,4.62A7.0,7.0 0 1 0 -5.26,4.62Z" transform="translate(645.1,395.2) rotate(0)" fill="url(#rg_pos)"/>
<text x="645.1" y="394.7" text-anchor="middle" font-size="4.5" font-weight="bold" textLength="6.0" lengthAdjust="spacingAndGlyphs" fill="#222">ARG</text><text x="645.1" y="399.5" text-anchor="middle" font-size="4.5" font-weight="bold" textLength="5.6" lengthAdjust="spacingAndGlyphs" fill="#222">217</text>
<path d="M0,10.6L5.26,4.62A7.0,7.0 0 1 0 -5.26,4.62Z" transform="translate(672.6,407.5) rotate(0)" fill="url(#rg_gly)"/>
<text x="672.6" y="407.0" text-anchor="middle" font-size="4.5" font-weight="bold" textLength="6.0" lengthAdjust="spacingAndGlyphs" fill="#222">GLY</text><text x="672.6" y="411.8" text-anchor="middle" font-size="4.5" font-weight="bold" textLength="5.6" lengthAdjust="spacingAndGlyphs" fill="#222">216</text>
<path d="M0,10.6L5.26,4.62A7.0,7.0 0 1 0 -5.26,4.62Z" transform="translate(699.3,399.5) rotate(-150)" fill="url(#rg_hyd)"/>
<text x="699.3" y="399.0" text-anchor="middle" font-size="4.5" font-weight="bold" textLength="6.0" lengthAdjust="spacingAndGlyphs" fill="#222">TYR</text><text x="699.3" y="403.8" text-anchor="middle" font-size="4.5" font-weight="bold" textLength="5.6" lengthAdjust="spacingAndGlyphs" fill="#222">215</text>
<path d="M0,10.6L5.26,4.62A7.0,7.0 0 1 0 -5.26,4.62Z" transform="translate(731.8,404.2) rotate(-60)" fill="url(#rg_hyd)"/>
<text x="731.8" y="403.7" text-anchor="middle" font-size="4.5" font-weight="bold" textLength="6.0" lengthAdjust="spacingAndGlyphs" fill="#222">VAL</text><text x="731.8" y="408.5" text-anchor="middle" font-size="4.5" font-weight="bold" textLength="5.6" lengthAdjust="spacingAndGlyphs" fill="#222">213</text>
<path d="M0,10.6L5.26,4.62A7.0,7.0 0 1 0 -5.26,4.62Z" transform="translate(817.0,385.5) rotate(0)" fill="url(#rg_gly)"/>
<text x="817.0" y="385.0" text-anchor="middle" font-size="4.5" font-weight="bold" textLength="6.0" lengthAdjust="spacingAndGlyphs" fill="#222">GLY</text><text x="817.0" y="389.8" text-anchor="middle" font-size="4.5" font-weight="bold" textLength="5.6" lengthAdjust="spacingAndGlyphs" fill="#222">193</text>
<path d="M0,10.6L5.26,4.62A7.0,7.0 0 1 0 -5.26,4.62Z" transform="translate(843.2,386.9) rotate(0)" fill="url(#rg_neg)"/>
<text x="843.2" y="386.4" text-anchor="middle" font-size="4.5" font-weight="bold" textLength="6.0" lengthAdjust="spacingAndGlyphs" fill="#222">ASP</text><text x="843.2" y="391.2" text-anchor="middle" font-size="4.5" font-weight="bold" textLength="5.6" lengthAdjust="spacingAndGlyphs" fill="#222">194</text>
<path d="M0,10.6L5.26,4.62A7.0,7.0 0 1 0 -5.26,4.62Z" transform="translate(872.0,397.9) rotate(0)" fill="url(#rg_pol)"/>
<text x="872.0" y="397.4" text-anchor="middle" font-size="4.5" font-weight="bold" textLength="6.0" lengthAdjust="spacingAndGlyphs" fill="#222">SER</text><text x="872.0" y="402.2" text-anchor="middle" font-size="4.5" font-weight="bold" textLength="5.6" lengthAdjust="spacingAndGlyphs" fill="#222">195</text>
<path d="M0,10.6L5.26,4.62A7.0,7.0 0 1 0 -5.26,4.62Z" transform="translate(807.4,408.9) rotate(0)" fill="url(#rg_pos)"/>
<text x="807.4" y="408.4" text-anchor="middle" font-size="4.5" font-weight="bold" textLength="6.0" lengthAdjust="spacingAndGlyphs" fill="#222">LYS</text><text x="807.4" y="413.2" text-anchor="middle" font-size="4.5" font-weight="bold" textLength="5.6" lengthAdjust="spacingAndGlyphs" fill="#222">192</text>
<path d="M0,10.6L5.26,4.62A7.0,7.0 0 1 0 -5.26,4.62Z" transform="translate(781.3,418.5) rotate(0)" fill="url(#rg_hyd)"/>
<text x="781.3" y="418.0" text-anchor="middle" font-size="4.5" font-weight="bold" textLength="6.0" lengthAdjust="spacingAndGlyphs" fill="#222">PHE</text><text x="781.3" y="422.8" text-anchor="middle" font-size="4.5" font-weight="bold" textLength="5.6" lengthAdjust="spacingAndGlyphs" fill="#222">191</text>
<path d="M0,10.6L5.26,4.62A7.0,7.0 0 1 0 -5.26,4.62Z" transform="translate(755.9,420.1) rotate(30)" fill="url(#rg_pol)"/>
<text x="755.9" y="419.6" text-anchor="middle" font-size="4.5" font-weight="bold" textLength="6.0" lengthAdjust="spacingAndGlyphs" fill="#222">SER</text><text x="755.9" y="424.4" text-anchor="middle" font-size="4.5" font-weight="bold" textLength="5.6" lengthAdjust="spacingAndGlyphs" fill="#222">190</text>
<path d="M0,10.6L5.26,4.62A7.0,7.0 0 1 0 -5.26,4.62Z" transform="translate(763.4,447.9) rotate(-180)" fill="url(#rg_pos)"/>
<text x="763.4" y="447.4" text-anchor="middle" font-size="4.5" font-weight="bold" textLength="6.0" lengthAdjust="spacingAndGlyphs" fill="#222">ARG</text><text x="763.4" y="452.2" text-anchor="middle" font-size="4.5" font-weight="bold" textLength="5.6" lengthAdjust="spacingAndGlyphs" fill="#222">226</text></g>
<g font-family='"Liberation Sans", sans-serif'><circle cx="1064.7" cy="376.3" r="5" fill="url(#halo)"/>
<circle cx="1070.5" cy="391.5" r="5" fill="url(#halo)"/>
<circle cx="1159.2" cy="326.2" r="5" fill="url(#halo)"/>
<path d="M1036.7,369.3C1037.4,367.0 1039.2,360.0 1041.3,355.3C1043.5,350.7 1048.1,343.7 1049.5,341.3" fill="none" stroke="url(#pg920_262_0)" stroke-width="3.1" stroke-linecap="round" stroke-opacity="0.9"/>
<path d="M1049.5,341.3C1050.9,339.4 1056.7,333.6 1057.7,329.7C1058.6,325.8 1055.7,319.9 1055.3,318.0" fill="none" stroke="url(#pg920_262_1)" stroke-width="3.1" stroke-linecap="round" stroke-opacity="0.9"/>
<path d="M1055.3,318.0C1056.1,317.0 1056.9,313.1 1060.0,312.2C1063.1,311.2 1071.7,312.2 1074.0,312.2" fill="none" stroke="url(#pg920_262_2)" stroke-width="3.1" stroke-linecap="round" stroke-opacity="0.9"/>
<path d="M1074.0,312.2C1078.3,312.4 1091.5,312.9 1099.7,313.3C1107.8,313.7 1119.1,314.3 1123.0,314.5" fill="none" stroke="url(#pg920_262_3)" stroke-width="3.1" stroke-linecap="round" stroke-opacity="0.9"/>
<path d="M1123.0,314.5C1123.8,313.1 1124.2,308.5 1127.7,306.3C1131.2,304.2 1137.8,300.1 1144.0,301.7C1150.2,303.2 1161.5,313.3 1165.0,315.7" fill="none" stroke="url(#pg920_262_4)" stroke-width="3.1" stroke-linecap="round" stroke-opacity="0.9"/>
<path d="M1165.0,336.7C1159.2,339.0 1140.1,346.4 1130.0,350.7C1119.9,354.9 1108.6,360.4 1104.3,362.3" fill="none" stroke="url(#pg920_262_5)" stroke-width="3.1" stroke-linecap="round" stroke-opacity="0.9"/>
<path d="M1104.3,362.3C1102.0,364.3 1093.8,370.1 1090.3,374.0C1086.8,377.9 1084.5,383.7 1083.3,385.7" fill="none" stroke="url(#pg920_262_6)" stroke-width="3.1" stroke-linecap="round" stroke-opacity="0.9"/>
<path d="M1032.0,357.7C1028.9,357.3 1019.6,354.9 1013.3,355.3C1007.1,355.7 999.7,358.3 994.7,360.0C989.6,361.8 984.9,364.9 983.0,365.8" fill="none" stroke="url(#pg920_262_7)" stroke-width="3.1" stroke-linecap="round" stroke-opacity="0.9"/>
<path d="M983.0,365.8C981.4,369.1 974.1,378.9 973.7,385.7C973.3,392.5 976.8,400.4 980.7,406.7C984.6,412.9 994.3,420.3 997.0,423.0" fill="none" stroke="url(#pg920_262_8)" stroke-width="3.1" stroke-linecap="round" stroke-opacity="0.9"/>
<path d="M997.0,423.0C999.7,423.4 1005.9,425.5 1013.3,425.3C1020.7,425.1 1036.7,422.4 1041.3,421.8" fill="none" stroke="url(#pg920_262_9)" stroke-width="3.1" stroke-linecap="round" stroke-opacity="0.9"/>
<path d="M1064.7,291.2C1066.6,291.8 1072.6,293.9 1076.3,294.7C1080.0,295.4 1082.9,295.4 1086.8,295.8C1090.7,296.2 1095.4,297.4 1099.7,297.0C1103.9,296.6 1108.6,295.6 1112.5,293.5C1116.4,291.4 1119.5,286.5 1123.0,284.2C1126.5,281.8 1130.0,279.5 1133.5,279.5C1137.0,279.5 1140.5,282.4 1144.0,284.2C1147.5,285.9 1152.8,289.0 1154.5,290.0" fill="none" stroke="#161616" stroke-width="1.7"/>
<path d="M1179.0,295.8C1180.9,299.3 1189.5,309.4 1190.7,316.8C1191.8,324.2 1186.8,336.3 1186.0,340.2" fill="none" stroke="#161616" stroke-width="1.7"/>
<path d="M998.2,341.3C995.3,342.5 986.3,345.6 980.7,348.3C975.0,351.1 968.2,354.2 964.3,357.7C960.4,361.2 958.9,365.4 957.3,369.3C955.8,373.2 955.4,379.1 955.0,381.0" fill="none" stroke="#161616" stroke-width="1.7"/>
<path d="M963.2,411.3C966.3,413.9 977.4,421.8 981.8,426.5C986.3,431.2 987.3,436.8 990.0,439.3C992.7,441.9 994.9,440.7 998.2,441.7C1001.5,442.6 1005.9,444.8 1009.8,445.2C1013.7,445.6 1019.6,444.2 1021.5,444.0" fill="none" stroke="#161616" stroke-width="1.7"/>
<path d="M1013.3,376.3 L1022.7,368.2 M1015.7,390.3 L1028.5,397.3 L1023.8,413.7 L1008.7,414.8 L1002.8,400.8 M1028.5,397.3 L1043.7,393.8 M1043.7,393.8 L1046.0,378.7 L1064.7,376.3 L1069.3,392.7 L1057.7,404.3 L1043.7,393.8 M1057.7,404.3 L1057.7,417.2 M1064.7,376.3 L1070.5,363.5 L1064.7,349.5 M1070.5,363.5 L1086.8,364.7 L1097.3,351.8 M1090.3,336.7 L1072.8,336.7 L1064.7,322.7 M1120.7,339.0 L1135.8,341.3 L1145.2,325.0 L1137.0,312.2 M1145.2,325.0 L1159.2,326.2 M1026.2,399.2 L1022.9,410.9 M1056.0,406.1 L1056.0,415.4 M1071.3,360.9 L1067.1,350.8 M1145.5,322.3 L1139.6,313.1 M990.2,378.6 L998.9,373.8 M1011.0,379.0 L1012.6,388.5 M1001.6,397.3 L992.1,393.4 M986.5,377.5 L999.3,370.5 L1013.3,376.3 L1015.7,390.3 L1002.8,400.8 L988.8,395.0Z M1098.5,348.1 L1093.7,337.8 M1100.8,326.7 L1111.1,327.5 M1117.0,339.6 L1110.7,348.3 M1097.3,351.8 L1090.3,336.7 L1098.5,323.8 L1113.7,325.0 L1120.7,339.0 L1111.3,351.8Z" fill="none" stroke="#2a2a2a" stroke-width="1.1" stroke-linejoin="round"/>
<line x1="1091.5" y1="305.2" x2="1104.3" y2="337.8" stroke="#e8463c" stroke-width="0.9"/><circle cx="1104.3" cy="337.8" r="1.2" fill="#e8463c"/>
<line x1="1113.7" y1="299.3" x2="1132.8" y2="309.8" stroke="#a046cc" stroke-width="0.9" marker-end="url(#ahb)"/>
<line x1="1137.0" y1="346.5" x2="1151.0" y2="357.7" stroke="#a046cc" stroke-width="0.9" marker-end="url(#ahb)"/>
<line x1="1022.7" y1="439.3" x2="1023.8" y2="416.5" stroke="#a046cc" stroke-width="0.9" marker-end="url(#ahb)"/>
<rect x="1020.8" y="365.0" width="6.0" height="6.4" rx="2" fill="#fff"/>
<text x="1023.8" y="370.3" text-anchor="middle" font-size="6" fill="#48c048">F</text>
<rect x="1020.8" y="410.5" width="6.0" height="6.4" rx="2" fill="#fff"/>
<text x="1023.8" y="415.8" text-anchor="middle" font-size="6" fill="#3a44a8">N</text>
<rect x="1005.7" y="411.6" width="6.0" height="6.4" rx="2" fill="#fff"/>
<text x="1008.7" y="416.9" text-anchor="middle" font-size="6" fill="#3a44a8">N</text>
<text x="1008.7" y="422.3" text-anchor="middle" font-size="6" fill="#3a44a8">H</text>
<rect x="1040.7" y="390.6" width="6.0" height="6.4" rx="2" fill="#fff"/>
<text x="1043.7" y="395.9" text-anchor="middle" font-size="6" fill="#3a44a8">N</text>
<rect x="1054.7" y="414.0" width="6.0" height="6.4" rx="2" fill="#fff"/>
<text x="1057.7" y="419.3" text-anchor="middle" font-size="6" fill="#e23a3a">O</text>
<rect x="1061.7" y="346.3" width="6.0" height="6.4" rx="2" fill="#fff"/>
<text x="1064.7" y="351.6" text-anchor="middle" font-size="6" fill="#e23a3a">O</text>
<rect x="1083.8" y="361.5" width="6.0" height="6.4" rx="2" fill="#fff"/>
<text x="1086.8" y="366.8" text-anchor="middle" font-size="6" fill="#3a44a8">N</text>
<text x="1086.8" y="371.9" text-anchor="middle" font-size="6" fill="#3a44a8">H</text>
<rect x="1069.8" y="333.5" width="6.0" height="6.4" rx="2" fill="#fff"/>
<text x="1072.8" y="338.8" text-anchor="middle" font-size="6" fill="#e23a3a">O</text>
<rect x="1132.8" y="338.1" width="6.0" height="6.4" rx="2" fill="#fff"/>
<text x="1135.8" y="343.4" text-anchor="middle" font-size="6" fill="#3a44a8">N</text>
<text x="1135.8" y="347.4" text-anchor="middle" font-size="6" fill="#3a44a8">H</text>
<rect x="1134.0" y="309.0" width="6.0" height="6.4" rx="2" fill="#fff"/>
<text x="1137.0" y="314.3" text-anchor="middle" font-size="6" fill="#e23a3a">O</text>
<path d="M0,10.6L5.26,4.62A7.0,7.0 0 1 0 -5.26,4.62Z" transform="translate(1064.7,289.6) rotate(0)" fill="url(#rg_hyd)"/>
<text x="1064.7" y="289.1" text-anchor="middle" font-size="4.5" font-weight="bold" textLength="6.0" lengthAdjust="spacingAndGlyphs" fill="#222">PHE</text><text x="1064.7" y="293.9" text-anchor="middle" font-size="4.5" font-weight="bold" textLength="5.6" lengthAdjust="spacingAndGlyphs" fill="#222">191</text>
<path d="M0,10.6L5.26,4.62A7.0,7.0 0 1 0 -5.26,4.62Z" transform="translate(1086.8,294.2) rotate(0)" fill="url(#rg_pos)"/>
<text x="1086.8" y="293.7" text-anchor="middle" font-size="4.5" font-weight="bold" textLength="6.0" lengthAdjust="spacingAndGlyphs" fill="#222">LYS</text><text x="1086.8" y="298.5" text-anchor="middle" font-size="4.5" font-weight="bold" textLength="5.6" lengthAdjust="spacingAndGlyphs" fill="#222">192</text>
<path d="M0,10.6L5.26,4.62A7.0,7.0 0 1 0 -5.26,4.62Z" transform="translate(1112.5,291.9) rotate(0)" fill="url(#rg_gly)"/>
<text x="1112.5" y="291.4" text-anchor="middle" font-size="4.5" font-weight="bold" textLength="6.0" lengthAdjust="spacingAndGlyphs" fill="#222">GLY</text><text x="1112.5" y="296.2" text-anchor="middle" font-size="4.5" font-weight="bold" textLength="5.6" lengthAdjust="spacingAndGlyphs" fill="#222">193</text>
<path d="M0,10.6L5.26,4.62A7.0,7.0 0 1 0 -5.26,4.62Z" transform="translate(1133.5,281.1) rotate(-180)" fill="url(#rg_neg)"/>
<text x="1133.5" y="280.6" text-anchor="middle" font-size="4.5" font-weight="bold" textLength="6.0" lengthAdjust="spacingAndGlyphs" fill="#222">ASP</text><text x="1133.5" y="285.4" text-anchor="middle" font-size="4.5" font-weight="bold" textLength="5.6" lengthAdjust="spacingAndGlyphs" fill="#222">194</text>
<path d="M0,10.6L5.26,4.62A7.0,7.0 0 1 0 -5.26,4.62Z" transform="translate(1154.5,288.4) rotate(0)" fill="url(#rg_pol)"/>
<text x="1154.5" y="287.9" text-anchor="middle" font-size="4.5" font-weight="bold" textLength="6.0" lengthAdjust="spacingAndGlyphs" fill="#222">SER</text><text x="1154.5" y="292.7" text-anchor="middle" font-size="4.5" font-weight="bold" textLength="5.6" lengthAdjust="spacingAndGlyphs" fill="#222">195</text>
<path d="M0,10.6L5.26,4.62A7.0,7.0 0 1 0 -5.26,4.62Z" transform="translate(1041.3,298.9) rotate(0)" fill="url(#rg_pos)"/>
<text x="1041.3" y="298.4" text-anchor="middle" font-size="4.5" font-weight="bold" textLength="6.0" lengthAdjust="spacingAndGlyphs" fill="#222">ARG</text><text x="1041.3" y="303.2" text-anchor="middle" font-size="4.5" font-weight="bold" textLength="5.6" lengthAdjust="spacingAndGlyphs" fill="#222">226</text>
<path d="M0,10.6L5.26,4.62A7.0,7.0 0 1 0 -5.26,4.62Z" transform="translate(1179.0,294.2) rotate(0)" fill="url(#rg_pos)"/>
<text x="1179.0" y="293.7" text-anchor="middle" font-size="4.5" font-weight="bold" textLength="6.0" lengthAdjust="spacingAndGlyphs" fill="#222">LYS</text><text x="1179.0" y="298.5" text-anchor="middle" font-size="4.5" font-weight="bold" textLength="3.7" lengthAdjust="spacingAndGlyphs" fill="#222">40</text>
<path d="M0,10.6L5.26,4.62A7.0,7.0 0 1 0 -5.26,4.62Z" transform="translate(1189.1,316.8) rotate(-90)" fill="url(#rg_pos)"/>
<text x="1189.1" y="316.3" text-anchor="middle" font-size="4.5" font-weight="bold" textLength="6.0" lengthAdjust="spacingAndGlyphs" fill="#222">ARG</text><text x="1189.1" y="321.1" text-anchor="middle" font-size="4.5" font-weight="bold" textLength="3.7" lengthAdjust="spacingAndGlyphs" fill="#222">41</text>
<path d="M0,10.6L5.26,4.62A7.0,7.0 0 1 0 -5.26,4.62Z" transform="translate(1186.0,338.6) rotate(0)" fill="url(#rg_hyd)"/>
<text x="1186.0" y="338.1" text-anchor="middle" font-size="4.5" font-weight="bold" textLength="6.0" lengthAdjust="spacingAndGlyphs" fill="#222">CYS</text><text x="1186.0" y="342.9" text-anchor="middle" font-size="4.5" font-weight="bold" textLength="3.7" lengthAdjust="spacingAndGlyphs" fill="#222">42</text>
<path d="M0,10.6L5.26,4.62A7.0,7.0 0 1 0 -5.26,4.62Z" transform="translate(1020.3,332.7) rotate(0)" fill="url(#rg_hyd)"/>
<text x="1020.3" y="332.2" text-anchor="middle" font-size="4.5" font-weight="bold" textLength="6.0" lengthAdjust="spacingAndGlyphs" fill="#222">PHE</text><text x="1020.3" y="337.0" text-anchor="middle" font-size="4.5" font-weight="bold" textLength="3.7" lengthAdjust="spacingAndGlyphs" fill="#222">99</text>
<path d="M0,10.6L5.26,4.62A7.0,7.0 0 1 0 -5.26,4.62Z" transform="translate(998.2,339.7) rotate(0)" fill="url(#rg_hyd)"/>
<text x="998.2" y="339.2" text-anchor="middle" font-size="4.5" font-weight="bold" textLength="6.0" lengthAdjust="spacingAndGlyphs" fill="#222">TYR</text><text x="998.2" y="344.0" text-anchor="middle" font-size="4.5" font-weight="bold" textLength="5.6" lengthAdjust="spacingAndGlyphs" fill="#222">174</text>
<path d="M0,10.6L5.26,4.62A7.0,7.0 0 1 0 -5.26,4.62Z" transform="translate(964.3,356.1) rotate(0)" fill="url(#rg_hyd)"/>
<text x="964.3" y="355.6" text-anchor="middle" font-size="4.5" font-weight="bold" textLength="6.0" lengthAdjust="spacingAndGlyphs" fill="#222">LEU</text><text x="964.3" y="360.4" text-anchor="middle" font-size="4.5" font-weight="bold" textLength="5.6" lengthAdjust="spacingAndGlyphs" fill="#222">172</text>
<path d="M0,10.6L5.26,4.62A7.0,7.0 0 1 0 -5.26,4.62Z" transform="translate(956.6,381.0) rotate(90)" fill="url(#rg_neg)"/>
<text x="956.6" y="380.5" text-anchor="middle" font-size="4.5" font-weight="bold" textLength="6.0" lengthAdjust="spacingAndGlyphs" fill="#222">ASP</text><text x="956.6" y="385.3" text-anchor="middle" font-size="4.5" font-weight="bold" textLength="5.6" lengthAdjust="spacingAndGlyphs" fill="#222">171</text>
<path d="M0,10.6L5.26,4.62A7.0,7.0 0 1 0 -5.26,4.62Z" transform="translate(1154.5,360.7) rotate(0)" fill="url(#rg_pol)"/>
<text x="1154.5" y="360.2" text-anchor="middle" font-size="4.5" font-weight="bold" textLength="6.0" lengthAdjust="spacingAndGlyphs" fill="#222">HIS</text><text x="1154.5" y="365.0" text-anchor="middle" font-size="4.5" font-weight="bold" textLength="3.7" lengthAdjust="spacingAndGlyphs" fill="#222">57</text>
<path d="M0,10.6L5.26,4.62A7.0,7.0 0 1 0 -5.26,4.62Z" transform="translate(963.2,409.7) rotate(0)" fill="url(#rg_hyd)"/>
<text x="963.2" y="409.2" text-anchor="middle" font-size="4.5" font-weight="bold" textLength="6.0" lengthAdjust="spacingAndGlyphs" fill="#222">TYR</text><text x="963.2" y="414.0" text-anchor="middle" font-size="4.5" font-weight="bold" textLength="5.6" lengthAdjust="spacingAndGlyphs" fill="#222">215</text>
<path d="M0,10.6L5.26,4.62A7.0,7.0 0 1 0 -5.26,4.62Z" transform="translate(981.8,424.9) rotate(0)" fill="url(#rg_gly)"/>
<text x="981.8" y="424.4" text-anchor="middle" font-size="4.5" font-weight="bold" textLength="6.0" lengthAdjust="spacingAndGlyphs" fill="#222">GLY</text><text x="981.8" y="429.2" text-anchor="middle" font-size="4.5" font-weight="bold" textLength="5.6" lengthAdjust="spacingAndGlyphs" fill="#222">216</text>
<path d="M0,10.6L5.26,4.62A7.0,7.0 0 1 0 -5.26,4.62Z" transform="translate(998.2,440.1) rotate(0)" fill="url(#rg_pos)"/>
<text x="998.2" y="439.6" text-anchor="middle" font-size="4.5" font-weight="bold" textLength="6.0" lengthAdjust="spacingAndGlyphs" fill="#222">ARG</text><text x="998.2" y="444.4" text-anchor="middle" font-size="4.5" font-weight="bold" textLength="5.6" lengthAdjust="spacingAndGlyphs" fill="#222">217</text>
<path d="M0,10.6L5.26,4.62A7.0,7.0 0 1 0 -5.26,4.62Z" transform="translate(1021.5,442.4) rotate(0)" fill="url(#rg_pol)"/>
<text x="1021.5" y="441.9" text-anchor="middle" font-size="4.5" font-weight="bold" textLength="6.0" lengthAdjust="spacingAndGlyphs" fill="#222">ASN</text><text x="1021.5" y="446.7" text-anchor="middle" font-size="4.5" font-weight="bold" textLength="5.6" lengthAdjust="spacingAndGlyphs" fill="#222">218</text></g>
<g font-family='"Liberation Sans", sans-serif'><circle cx="443.4" cy="540.6" r="5" fill="url(#halo)"/>
<circle cx="441.0" cy="559.9" r="5" fill="url(#halo)"/>
<circle cx="424.1" cy="565.2" r="5" fill="url(#halo)"/>
<circle cx="299.6" cy="608.2" r="5" fill="url(#halo)"/>
<path d="M245.2,613.1C241.6,610.3 227.5,601.8 223.5,596.2C219.5,590.5 218.3,583.7 221.1,579.2C223.9,574.8 231.2,571.8 240.4,569.6C249.7,567.4 270.6,566.6 276.7,566.0" fill="none" stroke="url(#pg180_485_0)" stroke-width="3.1" stroke-linecap="round" stroke-opacity="0.9"/>
<path d="M276.7,566.0C281.5,566.8 297.6,569.4 305.7,570.8C313.7,572.2 321.8,573.8 325.0,574.4" fill="none" stroke="url(#pg180_485_1)" stroke-width="3.1" stroke-linecap="round" stroke-opacity="0.9"/>
<path d="M325.0,574.4C329.0,572.0 341.1,566.8 349.2,559.9C357.2,553.1 365.3,540.4 373.3,533.3C381.4,526.3 389.4,520.4 397.5,517.6C405.6,514.8 416.0,516.0 421.7,516.4C427.3,516.8 429.7,519.4 431.3,520.0" fill="none" stroke="url(#pg180_485_2)" stroke-width="3.1" stroke-linecap="round" stroke-opacity="0.9"/>
<path d="M310.5,610.7C314.9,610.3 328.2,607.8 337.1,608.2C345.9,608.7 359.2,612.3 363.7,613.1" fill="none" stroke="url(#pg180_485_3)" stroke-width="3.1" stroke-linecap="round" stroke-opacity="0.9"/>
<path d="M363.7,613.1C366.9,611.9 379.0,611.1 383.0,605.8C387.0,600.6 385.4,588.1 387.8,581.7C390.2,575.2 394.3,569.4 397.5,567.2C400.7,565.0 403.5,567.2 407.2,568.4C410.8,569.6 417.2,573.4 419.2,574.4" fill="none" stroke="url(#pg180_485_4)" stroke-width="3.1" stroke-linecap="round" stroke-opacity="0.9"/>
<path d="M418.0,498.3L447.0,505.5" fill="none" stroke="#161616" stroke-width="1.7"/>
<path d="M242.8,551.5C239.2,552.9 227.7,556.5 221.1,559.9C214.4,563.3 206.6,567.6 203.0,572.0C199.3,576.4 199.3,581.9 199.3,586.5C199.3,591.1 202.4,597.6 203.0,599.8" fill="none" stroke="#161616" stroke-width="1.7"/>
<path d="M408.4,591.3C410.6,590.3 417.6,586.5 421.7,585.3C425.7,584.1 426.5,584.3 432.5,584.1C438.6,583.9 453.7,584.1 457.9,584.1" fill="none" stroke="#161616" stroke-width="1.7"/>
<path d="M408.4,591.3C407.4,593.3 404.1,599.0 402.3,603.4C400.5,607.8 400.7,614.3 397.5,617.9C394.3,621.5 386.6,623.4 383.0,625.2C379.4,627.0 377.0,628.2 375.7,628.8" fill="none" stroke="#161616" stroke-width="1.7"/>
<path d="M349.2,628.8C345.1,630.4 331.0,635.0 325.0,638.5C319.0,641.9 316.5,647.1 312.9,649.3C309.3,651.5 308.7,649.7 303.2,651.7C297.8,653.8 284.1,659.8 280.3,661.4" fill="none" stroke="#161616" stroke-width="1.7"/>
<path d="M232.0,586.5 L247.7,588.9 M247.7,588.9 L259.7,579.2 L274.2,585.3 L270.6,603.4 L254.9,604.6 L247.7,588.9 M274.2,585.3 L290.0,580.5 L300.8,591.3 L298.4,608.2 L282.7,613.1 L270.6,603.4 M282.7,613.1 L280.3,630.0 M300.8,591.3 L317.7,586.5 L329.8,596.6 L346.7,593.7 M364.9,570.8 L366.1,553.9 L384.2,549.0 L396.3,558.7 M384.2,549.0 L386.6,532.1 L402.3,527.3 L414.4,537.0 M250.4,588.9 L259.1,581.9 M276.9,586.2 L288.3,582.8 M298.8,593.5 L297.1,605.6 M280.7,615.2 L278.9,627.4 M384.8,551.7 L393.5,558.7 M350.0,591.3 L351.6,579.0 M365.1,574.8 L373.3,582.2 M371.9,596.6 L360.5,599.9 M346.7,593.7 L349.2,575.6 L364.9,570.8 L377.0,581.7 L375.7,598.6 L358.8,603.4Z M418.1,539.0 L429.6,535.7 M439.2,545.2 L438.4,556.7 M424.0,560.9 L415.8,554.4 M414.4,537.0 L431.3,532.1 L442.2,543.0 L441.0,559.9 L424.1,564.7 L412.0,555.1Z" fill="none" stroke="#2a2a2a" stroke-width="1.1" stroke-linejoin="round"/>
<line x1="362.5" y1="552.7" x2="349.2" y2="542.3" stroke="#a046cc" stroke-width="0.9" marker-end="url(#ahb)"/>
<line x1="325.0" y1="634.8" x2="329.3" y2="599.8" stroke="#a046cc" stroke-width="0.9" marker-end="url(#ahb)"/>
<line x1="280.3" y1="656.6" x2="280.3" y2="632.9" stroke="#a046cc" stroke-width="0.9" marker-end="url(#ahb)"/>
<line x1="407.2" y1="586.5" x2="397.5" y2="561.8" stroke="#a046cc" stroke-width="0.9" marker-end="url(#ahb)"/>
<line x1="392.7" y1="613.1" x2="362.5" y2="586.5" stroke="#e8463c" stroke-width="0.9"/><circle cx="362.5" cy="586.5" r="1.2" fill="#e8463c"/>
<rect x="251.9" y="601.4" width="6.0" height="6.4" rx="2" fill="#fff"/>
<text x="254.9" y="606.7" text-anchor="middle" font-size="6" fill="#e23a3a">O</text>
<rect x="267.6" y="600.2" width="6.0" height="6.4" rx="2" fill="#fff"/>
<text x="270.6" y="605.5" text-anchor="middle" font-size="6" fill="#3a44a8">N</text>
<rect x="287.0" y="577.3" width="6.0" height="6.4" rx="2" fill="#fff"/>
<text x="290.0" y="582.6" text-anchor="middle" font-size="6" fill="#3a44a8">N</text>
<rect x="277.3" y="626.8" width="6.0" height="6.4" rx="2" fill="#fff"/>
<text x="280.3" y="632.1" text-anchor="middle" font-size="6" fill="#e23a3a">O</text>
<rect x="326.8" y="593.4" width="6.0" height="6.4" rx="2" fill="#fff"/>
<text x="329.8" y="598.7" text-anchor="middle" font-size="6" fill="#e23a3a">O</text>
<rect x="361.3" y="550.7" width="9.6" height="6.4" rx="2" fill="#fff"/>
<text x="366.1" y="556.0" text-anchor="middle" font-size="6" fill="#3a44a8">HN</text>
<rect x="393.3" y="555.5" width="6.0" height="6.4" rx="2" fill="#fff"/>
<text x="396.3" y="560.8" text-anchor="middle" font-size="6" fill="#e23a3a">O</text>
<rect x="399.3" y="524.1" width="6.0" height="6.4" rx="2" fill="#fff"/>
<text x="402.3" y="529.4" text-anchor="middle" font-size="6" fill="#b8a020">S</text>
<path d="M0,10.6L5.26,4.62A7.0,7.0 0 1 0 -5.26,4.62Z" transform="translate(418.0,496.7) rotate(0)" fill="url(#rg_pos)"/>
<text x="418.0" y="496.2" text-anchor="middle" font-size="4.5" font-weight="bold" textLength="6.0" lengthAdjust="spacingAndGlyphs" fill="#222">LYS</text><text x="418.0" y="501.0" text-anchor="middle" font-size="4.5" font-weight="bold" textLength="3.7" lengthAdjust="spacingAndGlyphs" fill="#222">40</text>
<path d="M0,10.6L5.26,4.62A7.0,7.0 0 1 0 -5.26,4.62Z" transform="translate(445.4,505.5) rotate(-90)" fill="url(#rg_pos)"/>
<text x="445.4" y="505.0" text-anchor="middle" font-size="4.5" font-weight="bold" textLength="6.0" lengthAdjust="spacingAndGlyphs" fill="#222">ARG</text><text x="445.4" y="509.8" text-anchor="middle" font-size="4.5" font-weight="bold" textLength="3.7" lengthAdjust="spacingAndGlyphs" fill="#222">41</text>
<path d="M0,10.6L5.26,4.62A7.0,7.0 0 1 0 -5.26,4.62Z" transform="translate(466.4,522.1) rotate(0)" fill="url(#rg_pol)"/>
<text x="466.4" y="521.6" text-anchor="middle" font-size="4.5" font-weight="bold" textLength="6.0" lengthAdjust="spacingAndGlyphs" fill="#222">GLN</text><text x="466.4" y="526.4" text-anchor="middle" font-size="4.5" font-weight="bold" textLength="5.6" lengthAdjust="spacingAndGlyphs" fill="#222">143</text>
<path d="M0,10.6L5.26,4.62A7.0,7.0 0 1 0 -5.26,4.62Z" transform="translate(340.7,532.9) rotate(0)" fill="url(#rg_pol)"/>
<text x="340.7" y="532.4" text-anchor="middle" font-size="4.5" font-weight="bold" textLength="6.0" lengthAdjust="spacingAndGlyphs" fill="#222">HIS</text><text x="340.7" y="537.2" text-anchor="middle" font-size="4.5" font-weight="bold" textLength="3.7" lengthAdjust="spacingAndGlyphs" fill="#222">57</text>
<path d="M0,10.6L5.26,4.62A7.0,7.0 0 1 0 -5.26,4.62Z" transform="translate(242.8,549.9) rotate(0)" fill="url(#rg_hyd)"/>
<text x="242.8" y="549.4" text-anchor="middle" font-size="4.5" font-weight="bold" textLength="6.0" lengthAdjust="spacingAndGlyphs" fill="#222">TYR</text><text x="242.8" y="554.2" text-anchor="middle" font-size="4.5" font-weight="bold" textLength="5.6" lengthAdjust="spacingAndGlyphs" fill="#222">174</text>
<path d="M0,10.6L5.26,4.62A7.0,7.0 0 1 0 -5.26,4.62Z" transform="translate(302.0,549.9) rotate(0)" fill="url(#rg_hyd)"/>
<text x="302.0" y="549.4" text-anchor="middle" font-size="4.5" font-weight="bold" textLength="6.0" lengthAdjust="spacingAndGlyphs" fill="#222">PHE</text><text x="302.0" y="554.2" text-anchor="middle" font-size="4.5" font-weight="bold" textLength="3.7" lengthAdjust="spacingAndGlyphs" fill="#222">99</text>
<path d="M0,10.6L5.26,4.62A7.0,7.0 0 1 0 -5.26,4.62Z" transform="translate(201.6,571.2) rotate(-60)" fill="url(#rg_hyd)"/>
<text x="201.6" y="570.7" text-anchor="middle" font-size="4.5" font-weight="bold" textLength="6.0" lengthAdjust="spacingAndGlyphs" fill="#222">LEU</text><text x="201.6" y="575.5" text-anchor="middle" font-size="4.5" font-weight="bold" textLength="5.6" lengthAdjust="spacingAndGlyphs" fill="#222">172</text>
<path d="M0,10.6L5.26,4.62A7.0,7.0 0 1 0 -5.26,4.62Z" transform="translate(203.0,598.2) rotate(0)" fill="url(#rg_neg)"/>
<text x="203.0" y="597.7" text-anchor="middle" font-size="4.5" font-weight="bold" textLength="6.0" lengthAdjust="spacingAndGlyphs" fill="#222">ASP</text><text x="203.0" y="602.5" text-anchor="middle" font-size="4.5" font-weight="bold" textLength="5.6" lengthAdjust="spacingAndGlyphs" fill="#222">171</text>
<path d="M0,10.6L5.26,4.62A7.0,7.0 0 1 0 -5.26,4.62Z" transform="translate(408.4,589.7) rotate(0)" fill="url(#rg_gly)"/>
<text x="408.4" y="589.2" text-anchor="middle" font-size="4.5" font-weight="bold" textLength="6.0" lengthAdjust="spacingAndGlyphs" fill="#222">GLY</text><text x="408.4" y="594.0" text-anchor="middle" font-size="4.5" font-weight="bold" textLength="5.6" lengthAdjust="spacingAndGlyphs" fill="#222">193</text>
<path d="M0,10.6L5.26,4.62A7.0,7.0 0 1 0 -5.26,4.62Z" transform="translate(457.9,582.5) rotate(0)" fill="url(#rg_pol)"/>
<text x="457.9" y="582.0" text-anchor="middle" font-size="4.5" font-weight="bold" textLength="6.0" lengthAdjust="spacingAndGlyphs" fill="#222">SER</text><text x="457.9" y="586.8" text-anchor="middle" font-size="4.5" font-weight="bold" textLength="5.6" lengthAdjust="spacingAndGlyphs" fill="#222">195</text>
<path d="M0,10.6L5.26,4.62A7.0,7.0 0 1 0 -5.26,4.62Z" transform="translate(397.5,616.3) rotate(0)" fill="url(#rg_pos)"/>
<text x="397.5" y="615.8" text-anchor="middle" font-size="4.5" font-weight="bold" textLength="6.0" lengthAdjust="spacingAndGlyphs" fill="#222">LYS</text><text x="397.5" y="620.6" text-anchor="middle" font-size="4.5" font-weight="bold" textLength="5.6" lengthAdjust="spacingAndGlyphs" fill="#222">192</text>
<path d="M0,10.6L5.26,4.62A7.0,7.0 0 1 0 -5.26,4.62Z" transform="translate(375.7,627.2) rotate(0)" fill="url(#rg_hyd)"/>
<text x="375.7" y="626.7" text-anchor="middle" font-size="4.5" font-weight="bold" textLength="6.0" lengthAdjust="spacingAndGlyphs" fill="#222">PHE</text><text x="375.7" y="631.5" text-anchor="middle" font-size="4.5" font-weight="bold" textLength="5.6" lengthAdjust="spacingAndGlyphs" fill="#222">191</text>
<path d="M0,10.6L5.26,4.62A7.0,7.0 0 1 0 -5.26,4.62Z" transform="translate(380.6,652.6) rotate(0)" fill="url(#rg_pos)"/>
<text x="380.6" y="652.1" text-anchor="middle" font-size="4.5" font-weight="bold" textLength="6.0" lengthAdjust="spacingAndGlyphs" fill="#222">ARG</text><text x="380.6" y="656.9" text-anchor="middle" font-size="4.5" font-weight="bold" textLength="5.6" lengthAdjust="spacingAndGlyphs" fill="#222">226</text>
<path d="M0,10.6L5.26,4.62A7.0,7.0 0 1 0 -5.26,4.62Z" transform="translate(350.5,628.0) rotate(60)" fill="url(#rg_hyd)"/>
<text x="350.5" y="627.5" text-anchor="middle" font-size="4.5" font-weight="bold" textLength="6.0" lengthAdjust="spacingAndGlyphs" fill="#222">TYR</text><text x="350.5" y="632.3" text-anchor="middle" font-size="4.5" font-weight="bold" textLength="5.6" lengthAdjust="spacingAndGlyphs" fill="#222">215</text>
<path d="M0,10.6L5.26,4.62A7.0,7.0 0 1 0 -5.26,4.62Z" transform="translate(325.0,636.9) rotate(0)" fill="url(#rg_gly)"/>
<text x="325.0" y="636.4" text-anchor="middle" font-size="4.5" font-weight="bold" textLength="6.0" lengthAdjust="spacingAndGlyphs" fill="#222">GLY</text><text x="325.0" y="641.2" text-anchor="middle" font-size="4.5" font-weight="bold" textLength="5.6" lengthAdjust="spacingAndGlyphs" fill="#222">216</text>
<path d="M0,10.6L5.26,4.62A7.0,7.0 0 1 0 -5.26,4.62Z" transform="translate(302.4,650.4) rotate(-30)" fill="url(#rg_pos)"/>
<text x="302.4" y="649.9" text-anchor="middle" font-size="4.5" font-weight="bold" textLength="6.0" lengthAdjust="spacingAndGlyphs" fill="#222">ARG</text><text x="302.4" y="654.7" text-anchor="middle" font-size="4.5" font-weight="bold" textLength="5.6" lengthAdjust="spacingAndGlyphs" fill="#222">217</text>
<path d="M0,10.6L5.26,4.62A7.0,7.0 0 1 0 -5.26,4.62Z" transform="translate(280.3,659.8) rotate(0)" fill="url(#rg_pol)"/>
<text x="280.3" y="659.3" text-anchor="middle" font-size="4.5" font-weight="bold" textLength="6.0" lengthAdjust="spacingAndGlyphs" fill="#222">ASN</text><text x="280.3" y="664.1" text-anchor="middle" font-size="4.5" font-weight="bold" textLength="5.6" lengthAdjust="spacingAndGlyphs" fill="#222">218</text></g>
<g font-family='"Liberation Sans", sans-serif'><circle cx="660.5" cy="657.9" r="9" fill="url(#halo)"/>
<circle cx="602.0" cy="607.0" r="5" fill="url(#halo)"/>
<circle cx="704.9" cy="617.4" r="5" fill="url(#halo)"/>
<circle cx="720.7" cy="608.1" r="5" fill="url(#halo)"/>
<path d="M599.8,572.3C602.4,571.6 609.6,567.6 615.0,568.0C620.4,568.4 626.9,571.6 632.3,574.5C637.8,577.4 645.0,583.5 647.5,585.3" fill="none" stroke="url(#pg550_490_0)" stroke-width="3.1" stroke-linecap="round" stroke-opacity="0.9"/>
<path d="M647.5,585.3C650.4,587.5 660.5,596.9 664.8,598.3C669.2,599.8 670.6,597.6 673.5,594.0C676.4,590.4 677.5,581.7 682.2,576.7C686.9,571.6 697.0,567.3 701.7,563.7C706.4,560.1 708.5,557.9 710.3,555.0C712.2,552.1 710.3,548.3 712.5,546.3C714.7,544.4 721.5,543.6 723.3,543.1" fill="none" stroke="url(#pg550_490_1)" stroke-width="3.1" stroke-linecap="round" stroke-opacity="0.9"/>
<path d="M723.3,543.1C727.0,543.1 738.5,541.5 745.0,543.1C751.5,544.7 759.8,548.0 762.4,552.8C764.9,557.7 760.5,569.1 760.2,572.3" fill="none" stroke="url(#pg550_490_2)" stroke-width="3.1" stroke-linecap="round" stroke-opacity="0.9"/>
<path d="M760.2,572.3C758.4,574.9 752.6,582.5 749.3,587.5C746.1,592.6 743.6,598.3 740.7,602.7C737.8,607.0 733.5,611.7 732.0,613.5" fill="none" stroke="url(#pg550_490_3)" stroke-width="3.1" stroke-linecap="round" stroke-opacity="0.9"/>
<path d="M599.8,572.3C598.4,574.5 593.0,579.6 591.2,585.3C589.4,591.1 588.3,599.8 589.0,607.0C589.7,614.2 591.9,622.2 595.5,628.7C599.1,635.2 608.1,643.1 610.7,646.0" fill="none" stroke="url(#pg550_490_4)" stroke-width="3.1" stroke-linecap="round" stroke-opacity="0.9"/>
<path d="M610.7,646.0C614.3,647.8 626.2,654.0 632.3,656.8C638.5,659.7 645.0,662.3 647.5,663.3" fill="none" stroke="url(#pg550_490_5)" stroke-width="3.1" stroke-linecap="round" stroke-opacity="0.9"/>
<path d="M673.5,663.3C676.4,662.3 686.2,659.7 690.8,656.8C695.5,654.0 699.5,650.3 701.7,646.0C703.8,641.7 703.5,633.4 703.8,630.8" fill="none" stroke="url(#pg550_490_6)" stroke-width="3.1" stroke-linecap="round" stroke-opacity="0.9"/>
<path d="M616.1,544.2C612.7,545.6 601.8,549.0 595.5,552.8C589.2,556.6 582.1,562.6 578.2,566.9C574.2,571.3 573.3,574.7 571.7,578.8C570.0,583.0 569.0,589.7 568.4,591.8" fill="none" stroke="#161616" stroke-width="1.7"/>
<path d="M638.8,556.1C640.3,558.4 644.4,567.1 647.5,570.2C650.6,573.2 653.3,574.1 657.3,574.5C661.2,574.9 667.6,574.3 671.3,572.3C675.1,570.4 677.5,566.6 680.0,562.6C682.5,558.6 684.5,552.3 686.5,548.5C688.5,544.7 689.0,543.3 691.9,539.8C694.8,536.4 700.2,530.4 703.8,527.9C707.5,525.4 709.6,525.6 713.6,524.7C717.6,523.8 722.6,522.5 727.7,522.5C732.7,522.5 741.2,524.3 743.9,524.7" fill="none" stroke="#161616" stroke-width="1.7"/>
<path d="M779.7,573.4C777.2,577.2 768.9,588.8 764.5,596.2C760.2,603.6 757.5,611.9 753.7,617.8C749.9,623.8 745.7,628.3 741.8,631.9C737.8,635.5 733.1,637.0 729.8,639.5C726.6,642.0 724.8,644.2 722.3,647.1C719.7,650.0 717.0,653.4 714.7,656.8C712.3,660.3 709.3,665.9 708.2,667.7" fill="none" stroke="#161616" stroke-width="1.7"/>
<path d="M631.3,607.0 L646.4,614.6 L646.4,633.0 L631.3,641.7 L616.1,633.0 L616.1,614.6 M646.4,614.6 L659.4,608.1 M646.4,633.0 L660.5,641.7 L675.7,634.1 L689.8,641.7 M675.7,634.1 L674.6,616.8 L690.8,607.0 M720.1,590.8 L736.3,582.1 L736.3,564.8 L721.2,556.1 M736.3,564.8 L750.4,557.2 M649.0,615.2 L658.4,610.5 M630.0,639.0 L619.1,632.7 M676.8,636.7 L687.0,642.1 M735.1,562.1 L724.1,555.8 M661.2,643.7 L659.8,643.7 M661.5,645.7 L659.6,645.7 M661.7,647.8 L659.3,647.8 M662.0,649.8 L659.0,649.8 M662.3,651.8 L658.7,651.8 M662.6,653.9 L658.5,653.9 M662.8,655.9 L658.2,655.9 M605.8,590.9 L615.3,585.8 M628.3,592.5 L628.3,604.3 M615.3,610.9 L605.7,605.7 M602.0,589.7 L616.1,582.1 L631.3,589.7 L631.3,607.0 L616.1,614.6 L602.0,607.0Z M693.8,604.5 L693.8,593.4 M706.8,586.9 L716.3,592.0 M716.2,606.9 L705.9,612.8 M690.8,607.0 L690.8,590.8 L706.0,583.2 L720.1,590.8 L720.1,608.1 L704.9,616.8Z" fill="none" stroke="#2a2a2a" stroke-width="1.1" stroke-linejoin="round"/>
<line x1="695.2" y1="518.2" x2="719.0" y2="553.3" stroke="#a046cc" stroke-width="0.9" marker-end="url(#ahb)"/>
<line x1="736.8" y1="634.1" x2="693.4" y2="641.7" stroke="#a046cc" stroke-width="0.9" marker-end="url(#ahb)"/>
<rect x="656.4" y="604.9" width="6.0" height="6.4" rx="2" fill="#fff"/>
<text x="659.4" y="610.2" text-anchor="middle" font-size="6" fill="#e23a3a">O</text>
<rect x="643.4" y="629.8" width="6.0" height="6.4" rx="2" fill="#fff"/>
<text x="646.4" y="635.1" text-anchor="middle" font-size="6" fill="#3a44a8">N</text>
<rect x="628.3" y="638.5" width="6.0" height="6.4" rx="2" fill="#fff"/>
<text x="631.3" y="643.8" text-anchor="middle" font-size="6" fill="#3a44a8">N</text>
<rect x="613.1" y="629.8" width="6.0" height="6.4" rx="2" fill="#fff"/>
<text x="616.1" y="635.1" text-anchor="middle" font-size="6" fill="#3a44a8">N</text>
<rect x="686.8" y="638.5" width="6.0" height="6.4" rx="2" fill="#fff"/>
<text x="689.8" y="643.8" text-anchor="middle" font-size="6" fill="#e23a3a">O</text>
<rect x="669.8" y="613.6" width="9.6" height="6.4" rx="2" fill="#fff"/>
<text x="674.6" y="618.9" text-anchor="middle" font-size="6" fill="#3a44a8">HN</text>
<rect x="731.5" y="578.9" width="9.6" height="6.4" rx="2" fill="#fff"/>
<text x="736.3" y="584.2" text-anchor="middle" font-size="6" fill="#3a44a8">NH</text>
<rect x="718.2" y="552.9" width="6.0" height="6.4" rx="2" fill="#fff"/>
<text x="721.2" y="558.2" text-anchor="middle" font-size="6" fill="#e23a3a">O</text>
<path d="M0,10.6L5.26,4.62A7.0,7.0 0 1 0 -5.26,4.62Z" transform="translate(689.8,509.0) rotate(0)" fill="url(#rg_pos)"/>
<text x="689.8" y="508.5" text-anchor="middle" font-size="4.5" font-weight="bold" textLength="6.0" lengthAdjust="spacingAndGlyphs" fill="#222">ARG</text><text x="689.8" y="513.3" text-anchor="middle" font-size="4.5" font-weight="bold" textLength="5.6" lengthAdjust="spacingAndGlyphs" fill="#222">226</text>
<path d="M0,10.6L5.26,4.62A7.0,7.0 0 1 0 -5.26,4.62Z" transform="translate(713.6,526.3) rotate(-180)" fill="url(#rg_pol)"/>
<text x="713.6" y="525.8" text-anchor="middle" font-size="4.5" font-weight="bold" textLength="6.0" lengthAdjust="spacingAndGlyphs" fill="#222">SER</text><text x="713.6" y="530.6" text-anchor="middle" font-size="4.5" font-weight="bold" textLength="5.6" lengthAdjust="spacingAndGlyphs" fill="#222">214</text>
<path d="M0,10.6L5.26,4.62A7.0,7.0 0 1 0 -5.26,4.62Z" transform="translate(743.9,523.1) rotate(0)" fill="url(#rg_hyd)"/>
<text x="743.9" y="522.6" text-anchor="middle" font-size="4.5" font-weight="bold" textLength="6.0" lengthAdjust="spacingAndGlyphs" fill="#222">VAL</text><text x="743.9" y="527.4" text-anchor="middle" font-size="4.5" font-weight="bold" textLength="5.6" lengthAdjust="spacingAndGlyphs" fill="#222">213</text>
<path d="M0,10.6L5.26,4.62A7.0,7.0 0 1 0 -5.26,4.62Z" transform="translate(691.9,541.4) rotate(-180)" fill="url(#rg_hyd)"/>
<text x="691.9" y="540.9" text-anchor="middle" font-size="4.5" font-weight="bold" textLength="6.0" lengthAdjust="spacingAndGlyphs" fill="#222">TYR</text><text x="691.9" y="545.7" text-anchor="middle" font-size="4.5" font-weight="bold" textLength="5.6" lengthAdjust="spacingAndGlyphs" fill="#222">215</text>
<path d="M0,10.6L5.26,4.62A7.0,7.0 0 1 0 -5.26,4.62Z" transform="translate(659.4,537.2) rotate(0)" fill="url(#rg_hyd)"/>
<text x="659.4" y="536.7" text-anchor="middle" font-size="4.5" font-weight="bold" textLength="6.0" lengthAdjust="spacingAndGlyphs" fill="#222">PHE</text><text x="659.4" y="541.5" text-anchor="middle" font-size="4.5" font-weight="bold" textLength="3.7" lengthAdjust="spacingAndGlyphs" fill="#222">99</text>
<path d="M0,10.6L5.26,4.62A7.0,7.0 0 1 0 -5.26,4.62Z" transform="translate(616.1,542.6) rotate(0)" fill="url(#rg_hyd)"/>
<text x="616.1" y="542.1" text-anchor="middle" font-size="4.5" font-weight="bold" textLength="6.0" lengthAdjust="spacingAndGlyphs" fill="#222">TYR</text><text x="616.1" y="546.9" text-anchor="middle" font-size="4.5" font-weight="bold" textLength="5.6" lengthAdjust="spacingAndGlyphs" fill="#222">174</text>
<path d="M0,10.6L5.26,4.62A7.0,7.0 0 1 0 -5.26,4.62Z" transform="translate(638.8,554.5) rotate(0)" fill="url(#rg_pol)"/>
<text x="638.8" y="554.0" text-anchor="middle" font-size="4.5" font-weight="bold" textLength="6.0" lengthAdjust="spacingAndGlyphs" fill="#222">ASN</text><text x="638.8" y="558.8" text-anchor="middle" font-size="4.5" font-weight="bold" textLength="5.6" lengthAdjust="spacingAndGlyphs" fill="#222">218</text>
<path d="M0,10.6L5.26,4.62A7.0,7.0 0 1 0 -5.26,4.62Z" transform="translate(680.0,561.0) rotate(0)" fill="url(#rg_gly)"/>
<text x="680.0" y="560.5" text-anchor="middle" font-size="4.5" font-weight="bold" textLength="6.0" lengthAdjust="spacingAndGlyphs" fill="#222">GLY</text><text x="680.0" y="565.3" text-anchor="middle" font-size="4.5" font-weight="bold" textLength="5.6" lengthAdjust="spacingAndGlyphs" fill="#222">216</text>
<path d="M0,10.6L5.26,4.62A7.0,7.0 0 1 0 -5.26,4.62Z" transform="translate(578.2,565.3) rotate(0)" fill="url(#rg_hyd)"/>
<text x="578.2" y="564.8" text-anchor="middle" font-size="4.5" font-weight="bold" textLength="6.0" lengthAdjust="spacingAndGlyphs" fill="#222">LEU</text><text x="578.2" y="569.6" text-anchor="middle" font-size="4.5" font-weight="bold" textLength="5.6" lengthAdjust="spacingAndGlyphs" fill="#222">172</text>
<path d="M0,10.6L5.26,4.62A7.0,7.0 0 1 0 -5.26,4.62Z" transform="translate(658.6,573.7) rotate(60)" fill="url(#rg_pos)"/>
<text x="658.6" y="573.2" text-anchor="middle" font-size="4.5" font-weight="bold" textLength="6.0" lengthAdjust="spacingAndGlyphs" fill="#222">ARG</text><text x="658.6" y="578.0" text-anchor="middle" font-size="4.5" font-weight="bold" textLength="5.6" lengthAdjust="spacingAndGlyphs" fill="#222">217</text>
<path d="M0,10.6L5.26,4.62A7.0,7.0 0 1 0 -5.26,4.62Z" transform="translate(781.3,573.4) rotate(90)" fill="url(#rg_pol)"/>
<text x="781.3" y="572.9" text-anchor="middle" font-size="4.5" font-weight="bold" textLength="6.0" lengthAdjust="spacingAndGlyphs" fill="#222">SER</text><text x="781.3" y="577.7" text-anchor="middle" font-size="4.5" font-weight="bold" textLength="5.6" lengthAdjust="spacingAndGlyphs" fill="#222">195</text>
<path d="M0,10.6L5.26,4.62A7.0,7.0 0 1 0 -5.26,4.62Z" transform="translate(570.0,591.8) rotate(90)" fill="url(#rg_neg)"/>
<text x="570.0" y="591.3" text-anchor="middle" font-size="4.5" font-weight="bold" textLength="6.0" lengthAdjust="spacingAndGlyphs" fill="#222">ASP</text><text x="570.0" y="596.1" text-anchor="middle" font-size="4.5" font-weight="bold" textLength="5.6" lengthAdjust="spacingAndGlyphs" fill="#222">171</text>
<path d="M0,10.6L5.26,4.62A7.0,7.0 0 1 0 -5.26,4.62Z" transform="translate(764.5,594.6) rotate(0)" fill="url(#rg_neg)"/>
<text x="764.5" y="594.1" text-anchor="middle" font-size="4.5" font-weight="bold" textLength="6.0" lengthAdjust="spacingAndGlyphs" fill="#222">ASP</text><text x="764.5" y="598.9" text-anchor="middle" font-size="4.5" font-weight="bold" textLength="5.6" lengthAdjust="spacingAndGlyphs" fill="#222">194</text>
<path d="M0,10.6L5.26,4.62A7.0,7.0 0 1 0 -5.26,4.62Z" transform="translate(743.4,631.9) rotate(90)" fill="url(#rg_pos)"/>
<text x="743.4" y="631.4" text-anchor="middle" font-size="4.5" font-weight="bold" textLength="6.0" lengthAdjust="spacingAndGlyphs" fill="#222">LYS</text><text x="743.4" y="636.2" text-anchor="middle" font-size="4.5" font-weight="bold" textLength="5.6" lengthAdjust="spacingAndGlyphs" fill="#222">192</text>
<path d="M0,10.6L5.26,4.62A7.0,7.0 0 1 0 -5.26,4.62Z" transform="translate(722.3,645.5) rotate(0)" fill="url(#rg_hyd)"/>
<text x="722.3" y="645.0" text-anchor="middle" font-size="4.5" font-weight="bold" textLength="6.0" lengthAdjust="spacingAndGlyphs" fill="#222">PHE</text><text x="722.3" y="649.8" text-anchor="middle" font-size="4.5" font-weight="bold" textLength="5.6" lengthAdjust="spacingAndGlyphs" fill="#222">191</text>
<path d="M0,10.6L5.26,4.62A7.0,7.0 0 1 0 -5.26,4.62Z" transform="translate(708.2,669.3) rotate(-180)" fill="url(#rg_pol)"/>
<text x="708.2" y="668.8" text-anchor="middle" font-size="4.5" font-weight="bold" textLength="6.0" lengthAdjust="spacingAndGlyphs" fill="#222">SER</text><text x="708.2" y="673.6" text-anchor="middle" font-size="4.5" font-weight="bold" textLength="5.6" lengthAdjust="spacingAndGlyphs" fill="#222">190</text></g>
<text x="110" y="242.5" font-family='"Liberation Serif", serif' font-size="18" font-weight="bold">G357-1425</text>
<text x="393" y="243.3" font-family='"Liberation Serif", serif' font-size="18" >K403-0736</text>
<text x="701" y="244" font-family='"Liberation Serif", serif' font-size="18" >D584-4880</text>
<text x="1032.5" y="247.5" font-family='"Liberation Serif", serif' font-size="18" font-weight="bold">C090-0556</text>
<text x="110" y="471.7" font-family='"Liberation Serif", serif' font-size="18" >G357-4898</text>
<text x="401.7" y="470.7" font-family='"Liberation Serif", serif' font-size="18" font-weight="bold">Y508-4367</text>
<text x="725" y="480" font-family='"Liberation Serif", serif' font-size="18" >G357-3191</text>
<text x="1033.7" y="480.7" font-family='"Liberation Serif", serif' font-size="18" font-weight="bold">J106-0491</text>
<text x="291.5" y="699" font-family='"Liberation Serif", serif' font-size="18" font-weight="bold">C679-6227</text>
<text x="655" y="701" font-family='"Liberation Serif", serif' font-size="18" >Y042-8975</text>
<text x="990.8" y="548.3" font-family='"Liberation Sans", sans-serif' font-size="13" letter-spacing="0.45" fill="#111">Pi-cation</text>
<text x="990.8" y="562" font-family='"Liberation Sans", sans-serif' font-size="13" letter-spacing="0.45" fill="#111">H-bond</text>
<text x="990.8" y="576.7" font-family='"Liberation Sans", sans-serif' font-size="13" letter-spacing="0.45" fill="#111">Pi-Pi stacking</text>
<text x="990.8" y="593.3" font-family='"Liberation Sans", sans-serif' font-size="13" letter-spacing="0.45" fill="#111">Solvent exposure</text>
<text x="990.8" y="608.3" font-family='"Liberation Sans", sans-serif' font-size="13" letter-spacing="0.45" fill="#111">Charged (negative)</text>
<text x="990.8" y="626.7" font-family='"Liberation Sans", sans-serif' font-size="13" letter-spacing="0.45" fill="#111">Charged (positive)</text>
<text x="990.8" y="644.7" font-family='"Liberation Sans", sans-serif' font-size="13" letter-spacing="0.45" fill="#111">Glycine</text>
<text x="990.8" y="661.7" font-family='"Liberation Sans", sans-serif' font-size="13" letter-spacing="0.45" fill="#111">Hydrophobic</text>
<text x="990.8" y="679.2" font-family='"Liberation Sans", sans-serif' font-size="13" letter-spacing="0.45" fill="#111">Polar</text>
<line x1="958" y1="544.7" x2="976" y2="544.7" stroke="#d8323a" stroke-width="1.6"/><circle cx="977" cy="544.7" r="3.2" fill="#d8323a"/>
<line x1="958" y1="557.5" x2="970" y2="557.5" stroke="#a040c8" stroke-width="1.6"/><polygon points="977.5,557.5 968,553.8 968,561.2" fill="#a040c8"/>
<line x1="959" y1="573.3" x2="977.5" y2="573.3" stroke="#2a9a3a" stroke-width="1.8"/><circle cx="959.5" cy="573.3" r="3.2" fill="#2a9a3a"/><circle cx="977" cy="573.3" r="3.2" fill="#2a9a3a"/>
<circle cx="968.3" cy="588.3" r="7" fill="url(#halo)"/>
<circle cx="968.3" cy="604.2" r="8.6" fill="url(#g_neg)"/>
<circle cx="968.3" cy="621.7" r="8.6" fill="url(#g_pos)"/>
<circle cx="968.3" cy="640" r="8.6" fill="url(#g_gly)"/>
<circle cx="968.3" cy="657.5" r="8.6" fill="url(#g_hyd)"/>
<circle cx="968.3" cy="675.8" r="8.6" fill="url(#g_pol)"/></svg>
</body></html>
